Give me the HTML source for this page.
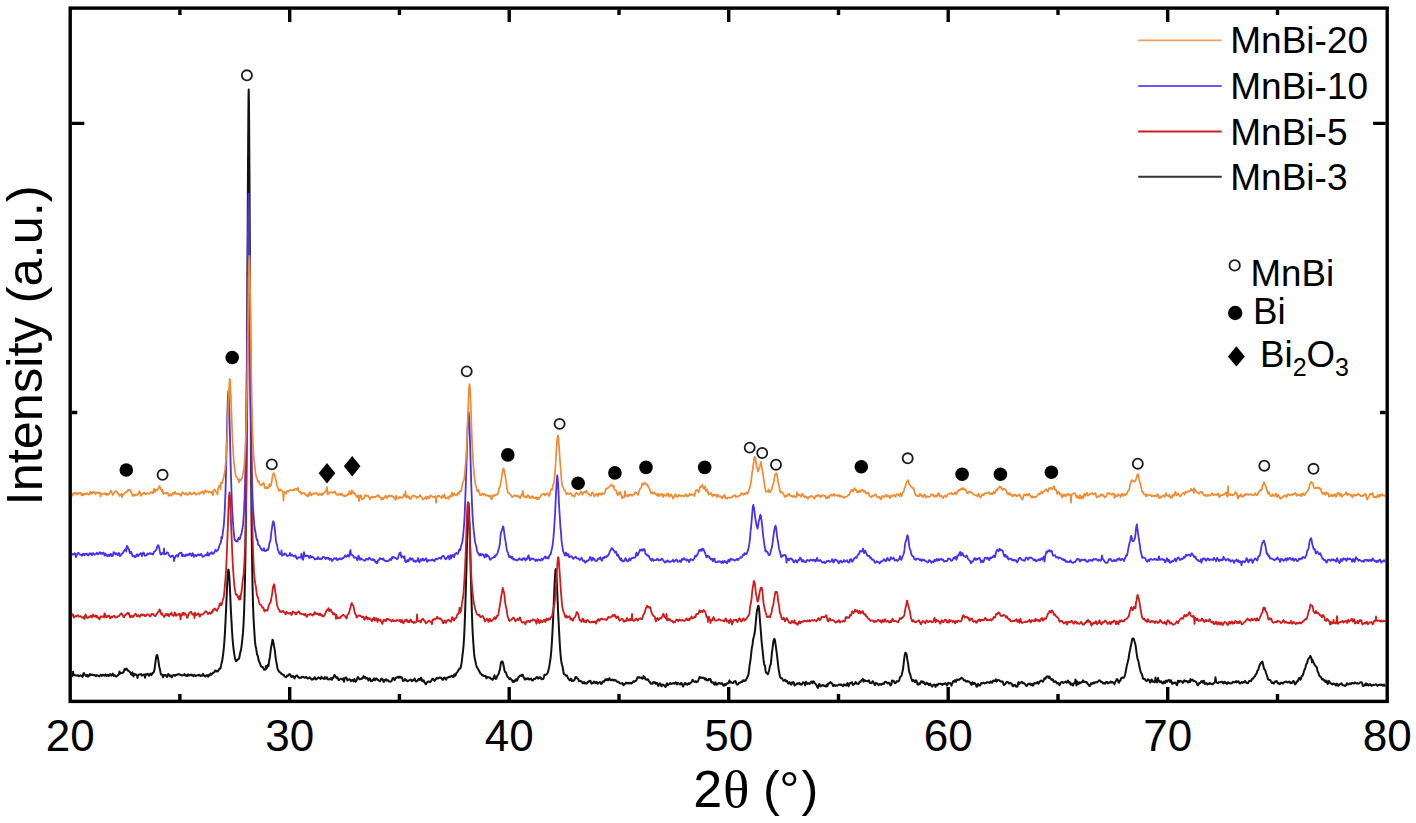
<!DOCTYPE html>
<html><head><meta charset="utf-8"><title>XRD</title>
<style>
html,body{margin:0;padding:0;background:#fff;width:1416px;height:823px;overflow:hidden}
svg{display:block}
</style></head><body>
<svg width="1416" height="823" viewBox="0 0 1416 823">
<defs><clipPath id="cp"><rect x="71.8" y="9.7" width="1313.8" height="689.8"/></clipPath></defs>
<g clip-path="url(#cp)" fill="none" stroke-linejoin="round">
<polyline stroke="#111111" stroke-width="2.0" points="71.5,676.0 72.0,676.2 72.5,675.3 73.0,671.7 73.5,675.3 74.0,675.3 74.5,674.8 75.0,675.2 75.5,675.5 76.0,675.4 76.5,675.6 77.0,675.6 77.5,675.2 78.0,675.2 78.5,675.7 79.0,676.2 79.5,676.1 80.0,675.6 80.5,675.3 81.0,675.6 81.5,675.8 82.0,676.1 82.5,676.9 83.0,675.8 83.5,673.3 84.0,673.0 84.5,674.3 85.0,674.9 85.5,675.2 86.0,676.1 86.5,676.3 87.0,674.9 87.5,675.1 88.0,676.6 88.5,676.5 89.0,675.7 89.5,674.5 90.0,674.1 90.5,675.0 91.0,675.2 91.5,674.5 92.0,674.7 92.5,675.0 93.0,674.8 93.5,675.1 94.0,675.4 94.5,675.2 95.0,675.1 95.5,675.8 96.0,676.2 96.5,675.5 97.0,675.1 97.5,675.4 98.0,675.7 98.5,675.7 99.0,676.4 99.5,676.0 100.0,675.7 100.5,674.9 101.0,675.3 101.5,675.9 102.0,675.7 102.5,674.8 103.0,674.7 103.5,675.2 104.0,675.3 104.5,675.7 105.0,675.4 105.5,674.4 106.0,675.2 106.5,676.0 107.0,675.1 107.5,674.7 108.0,675.5 108.5,676.0 109.0,675.9 109.5,674.9 110.0,674.1 110.5,674.6 111.0,675.2 111.5,675.6 112.0,675.0 112.5,673.6 113.0,674.0 113.5,675.6 114.0,675.9 114.5,675.2 115.0,675.4 115.5,676.0 116.0,676.4 116.5,676.4 117.0,676.0 117.5,675.3 118.0,675.4 118.5,674.9 119.0,673.6 119.5,671.5 120.0,673.7 120.5,673.0 121.0,673.0 121.5,673.1 122.0,673.0 122.5,672.6 123.0,672.5 123.5,672.4 124.0,671.0 124.5,669.1 125.0,668.9 125.5,669.9 126.0,669.4 126.5,668.6 127.0,669.1 127.5,669.9 128.0,670.7 128.5,671.1 129.0,671.1 129.5,671.7 130.0,672.3 130.5,672.8 131.0,674.2 131.5,674.7 132.0,672.8 132.5,672.4 133.0,675.1 133.5,676.4 134.0,674.6 134.5,673.9 135.0,674.7 135.5,674.5 136.0,674.4 136.5,675.0 137.0,675.4 137.5,678.1 138.0,675.3 138.5,675.0 139.0,674.5 139.5,674.4 140.0,674.5 140.5,674.5 141.0,674.0 141.5,674.5 142.0,675.7 142.5,675.4 143.0,675.0 143.5,675.0 144.0,674.5 144.5,674.4 145.0,677.7 145.5,674.5 146.0,674.2 146.5,674.7 147.0,674.4 147.5,673.7 148.0,674.0 148.5,675.2 149.0,675.8 149.5,675.0 150.0,674.1 150.5,673.5 151.0,674.3 151.5,675.1 152.0,674.1 152.5,673.1 153.0,673.0 153.5,672.5 154.0,671.5 154.5,669.6 155.0,665.8 155.5,661.6 156.0,658.3 156.5,655.8 157.0,654.9 157.5,656.1 158.0,658.3 158.5,661.4 159.0,665.3 159.5,667.7 160.0,669.6 160.5,672.5 161.0,674.5 161.5,674.8 162.0,674.5 162.5,675.3 163.0,677.2 163.5,676.7 164.0,674.9 164.5,674.9 165.0,675.2 165.5,675.0 166.0,675.4 166.5,676.1 167.0,676.9 167.5,676.0 168.0,674.2 168.5,674.1 169.0,674.8 169.5,675.7 170.0,676.1 170.5,675.5 171.0,675.6 171.5,677.2 172.0,677.3 172.5,675.8 173.0,675.3 173.5,675.3 174.0,674.9 174.5,675.2 175.0,675.9 175.5,675.1 176.0,674.8 176.5,675.1 177.0,674.7 177.5,674.4 178.0,674.5 178.5,674.3 179.0,674.0 179.5,674.3 180.0,674.7 180.5,674.8 181.0,675.0 181.5,675.3 182.0,675.6 182.5,675.4 183.0,675.1 183.5,675.0 184.0,674.7 184.5,674.0 185.0,675.5 185.5,675.1 186.0,675.2 186.5,676.0 187.0,676.1 187.5,675.0 188.0,674.3 188.5,675.4 189.0,675.5 189.5,675.0 190.0,675.3 190.5,674.9 191.0,674.5 191.5,675.1 192.0,675.5 192.5,675.1 193.0,675.2 193.5,676.2 194.0,675.5 194.5,674.8 195.0,675.6 195.5,675.9 196.0,675.7 196.5,675.4 197.0,675.4 197.5,675.3 198.0,675.2 198.5,675.4 199.0,675.0 199.5,674.8 200.0,675.6 200.5,676.1 201.0,675.6 201.5,675.6 202.0,675.7 202.5,674.8 203.0,673.9 203.5,675.4 204.0,675.3 204.5,675.7 205.0,676.4 205.5,676.4 206.0,675.5 206.5,675.4 207.0,675.1 207.5,675.3 208.0,676.8 208.5,675.9 209.0,674.9 209.5,675.5 210.0,674.6 210.5,673.6 211.0,674.5 211.5,674.7 212.0,673.6 212.5,673.2 213.0,673.0 213.5,672.4 214.0,672.5 214.5,672.2 215.0,671.0 215.5,670.4 216.0,670.6 216.5,670.9 217.0,671.5 217.5,671.5 218.0,671.1 218.5,670.4 219.0,669.4 219.5,668.5 220.0,668.8 220.5,668.3 221.0,665.9 221.5,663.6 222.0,661.6 222.5,658.8 223.0,655.3 223.5,651.2 224.0,646.2 224.5,639.9 225.0,631.3 225.5,621.6 226.0,610.9 226.5,599.5 227.0,588.5 227.5,578.1 228.0,571.2 228.4,569.7 228.5,569.6 229.0,572.5 229.5,579.7 230.0,589.9 230.5,601.9 231.0,612.5 231.5,621.6 232.0,630.2 232.5,638.0 233.0,644.1 233.5,648.5 234.0,652.2 234.5,655.4 235.0,657.9 235.5,660.2 236.0,661.2 236.5,661.0 237.0,660.3 237.5,659.5 238.0,659.5 238.5,659.1 239.0,658.5 239.5,656.8 240.0,653.7 240.5,651.6 241.0,649.7 241.5,646.6 242.0,642.3 242.5,637.6 243.0,632.4 243.5,624.9 244.0,614.0 244.5,599.0 245.0,578.9 245.5,550.1 246.0,506.4 246.5,445.2 247.0,365.0 247.5,266.0 248.0,163.6 248.5,96.7 248.7,89.6 249.0,104.1 249.5,181.6 250.0,287.2 250.5,383.1 251.0,460.3 251.5,516.3 252.0,556.3 252.5,584.7 253.0,604.5 253.5,617.4 254.0,626.3 254.5,634.3 255.0,641.4 255.5,645.7 256.0,647.7 256.5,650.9 257.0,654.2 257.5,655.2 258.0,656.8 258.5,659.8 259.0,661.6 259.5,662.2 260.0,663.4 260.5,665.0 261.0,666.2 261.5,666.7 262.0,667.0 262.5,666.9 263.0,667.4 263.5,668.6 264.0,669.7 264.5,669.5 265.0,669.0 265.5,669.6 266.0,665.9 266.5,668.6 267.0,667.6 267.5,666.2 268.0,664.6 268.5,666.1 269.0,662.0 269.5,659.3 270.0,656.2 270.5,652.0 271.0,648.0 271.5,645.4 272.0,642.6 272.5,639.8 272.8,640.0 273.0,641.1 273.5,643.1 274.0,646.0 274.5,648.4 275.0,651.9 275.5,656.8 276.0,660.2 276.5,662.6 277.0,665.4 277.5,668.5 278.0,670.0 278.5,670.5 279.0,671.6 279.5,672.1 280.0,672.2 280.5,672.6 281.0,673.1 281.5,673.9 282.0,674.0 282.5,674.3 283.0,674.8 283.5,674.8 284.0,675.3 284.5,676.4 285.0,676.7 285.5,676.7 286.0,677.1 286.5,676.7 287.0,675.7 287.5,675.5 288.0,675.9 288.5,675.4 289.0,674.3 289.5,674.0 290.0,674.3 290.5,675.0 291.0,676.4 291.5,677.1 292.0,676.9 292.5,676.2 293.0,675.9 293.5,676.4 294.0,677.7 294.5,678.5 295.0,677.6 295.5,676.4 296.0,676.0 296.5,675.6 297.0,675.4 297.5,675.9 298.0,676.9 298.5,677.6 299.0,677.4 299.5,677.9 300.0,678.0 300.5,677.6 301.0,677.8 301.5,677.4 302.0,676.7 302.5,676.9 303.0,677.0 303.5,677.0 304.0,677.3 304.5,677.8 305.0,677.8 305.5,677.4 306.0,677.1 306.5,677.0 307.0,677.8 307.5,678.5 308.0,678.3 308.5,678.2 309.0,678.0 309.5,677.3 310.0,677.4 310.5,678.3 311.0,678.7 311.5,679.2 312.0,679.7 312.5,679.1 313.0,679.1 313.5,679.3 314.0,678.3 314.5,677.3 315.0,677.4 315.5,678.6 316.0,679.5 316.5,679.2 317.0,678.6 317.5,678.5 318.0,678.0 318.5,677.3 319.0,677.9 319.5,678.1 320.0,678.2 320.5,679.0 321.0,677.8 321.5,676.7 322.0,677.5 322.5,678.3 323.0,678.3 323.5,678.6 324.0,678.9 324.5,678.1 325.0,677.1 325.5,677.9 326.0,678.7 326.5,677.7 327.0,677.4 327.5,678.5 328.0,679.4 328.5,679.6 329.0,679.1 329.5,678.7 330.0,679.3 330.5,678.8 331.0,678.0 331.5,679.5 332.0,679.7 332.5,677.9 333.0,677.6 333.5,677.7 334.0,676.0 334.5,674.9 335.0,675.5 335.5,676.4 336.0,677.2 336.5,678.1 337.0,677.8 337.5,677.3 338.0,678.6 338.5,680.0 339.0,680.0 339.5,679.4 340.0,679.1 340.5,678.9 341.0,678.6 341.5,678.9 342.0,679.4 342.5,679.7 343.0,679.1 343.5,678.2 344.0,681.7 344.5,679.1 345.0,678.0 345.5,677.6 346.0,677.4 346.5,677.8 347.0,679.5 347.5,680.5 348.0,680.2 348.5,679.6 349.0,679.4 349.5,679.3 350.0,679.4 350.5,680.4 351.0,681.2 351.5,680.8 352.0,680.0 352.5,679.9 353.0,680.7 353.5,681.4 354.0,680.2 354.5,679.0 355.0,680.3 355.5,681.7 356.0,681.4 356.5,680.7 357.0,679.3 357.5,677.6 358.0,677.0 358.5,677.7 359.0,678.7 359.5,679.3 360.0,679.2 360.5,679.0 361.0,679.0 361.5,678.4 362.0,678.2 362.5,678.5 363.0,677.3 363.5,676.1 364.0,677.2 364.5,677.6 365.0,676.9 365.5,677.9 366.0,678.6 366.5,678.4 367.0,677.9 367.5,678.6 368.0,679.6 368.5,680.5 369.0,679.7 369.5,678.3 370.0,678.6 370.5,680.3 371.0,681.1 371.5,680.5 372.0,680.5 372.5,680.9 373.0,680.1 373.5,678.9 374.0,678.3 374.5,679.4 375.0,680.3 375.5,679.2 376.0,678.4 376.5,678.4 377.0,679.2 377.5,680.0 378.0,679.9 378.5,680.2 379.0,680.6 379.5,680.8 380.0,681.3 380.5,680.7 381.0,679.4 381.5,678.6 382.0,678.8 382.5,679.3 383.0,680.3 383.5,681.9 384.0,681.7 384.5,680.0 385.0,680.1 385.5,680.3 386.0,679.2 386.5,679.7 387.0,680.7 387.5,680.3 388.0,680.2 388.5,680.9 389.0,681.5 389.5,681.6 390.0,681.6 390.5,681.5 391.0,681.4 391.5,681.2 392.0,679.9 392.5,678.5 393.0,677.9 393.5,678.0 394.0,679.1 394.5,680.1 395.0,679.5 395.5,678.2 396.0,677.6 396.5,677.6 397.0,677.7 397.5,677.1 398.0,676.7 398.5,677.5 399.0,677.7 399.5,676.8 400.0,676.7 400.5,676.9 401.0,677.8 401.5,677.7 402.0,677.4 402.5,679.3 403.0,680.9 403.5,680.8 404.0,680.8 404.5,679.8 405.0,679.0 405.5,680.0 406.0,680.2 406.5,680.0 407.0,681.1 407.5,681.3 408.0,680.9 408.5,680.9 409.0,680.4 409.5,680.1 410.0,679.9 410.5,679.6 411.0,679.8 411.5,680.7 412.0,681.2 412.5,680.9 413.0,680.0 413.5,680.0 414.0,679.9 414.5,678.5 415.0,679.2 415.5,681.1 416.0,681.6 416.5,681.4 417.0,681.0 417.5,680.7 418.0,679.9 418.5,678.9 419.0,678.9 419.5,679.7 420.0,680.1 420.5,679.1 421.0,677.7 421.5,678.4 422.0,680.4 422.5,681.3 423.0,681.1 423.5,680.2 424.0,680.8 424.5,682.5 425.0,683.0 425.5,683.9 426.0,684.4 426.5,683.2 427.0,682.3 427.5,681.9 428.0,681.5 428.5,681.6 429.0,681.7 429.5,681.8 430.0,682.2 430.5,681.8 431.0,680.9 431.5,680.3 432.0,679.4 432.5,678.7 433.0,678.7 433.5,679.2 434.0,680.3 434.5,680.9 435.0,680.5 435.5,679.7 436.0,678.9 436.5,678.1 437.0,677.8 437.5,678.6 438.0,678.5 438.5,678.0 439.0,677.9 439.5,677.4 440.0,677.6 440.5,677.9 441.0,677.6 441.5,678.0 442.0,679.1 442.5,679.8 443.0,679.8 443.5,678.8 444.0,677.8 444.5,677.6 445.0,677.9 445.5,678.9 446.0,679.6 446.5,678.8 447.0,677.8 447.5,677.7 448.0,677.4 448.5,676.8 449.0,677.2 449.5,677.3 450.0,676.6 450.5,676.4 451.0,676.4 451.5,675.7 452.0,675.8 452.5,676.6 453.0,677.2 453.5,676.9 454.0,675.1 454.5,674.3 455.0,675.7 455.5,675.7 456.0,673.9 456.5,672.9 457.0,672.5 457.5,671.8 458.0,670.9 458.5,670.1 459.0,669.3 459.5,668.4 460.0,668.5 460.5,668.3 461.0,666.1 461.5,663.4 462.0,659.8 462.5,655.2 463.0,650.8 463.5,645.9 464.0,638.8 464.5,628.7 465.0,615.4 465.5,600.3 466.0,583.7 466.5,565.1 467.0,544.3 467.5,523.4 468.0,508.0 468.5,503.3 469.0,510.0 469.5,524.0 470.0,542.6 470.5,562.7 471.0,581.3 471.5,599.6 472.0,616.4 472.5,629.1 473.0,638.1 473.5,645.4 474.0,652.4 474.5,657.3 475.0,659.5 475.5,661.8 476.0,664.2 476.5,666.1 477.0,667.4 477.5,668.1 478.0,668.8 478.5,669.9 479.0,670.7 479.5,671.7 480.0,672.8 480.5,673.6 481.0,673.6 481.5,674.2 482.0,675.2 482.5,675.0 483.0,675.2 483.5,675.9 484.0,676.1 484.5,676.0 485.0,675.9 485.5,675.8 486.0,677.2 486.5,678.4 487.0,677.7 487.5,676.9 488.0,677.1 488.5,677.3 489.0,677.5 489.5,677.5 490.0,677.6 490.5,678.5 491.0,678.7 491.5,678.8 492.0,679.4 492.5,679.9 493.0,679.2 493.5,677.9 494.0,677.3 494.5,675.3 495.0,677.5 495.5,678.8 496.0,679.0 496.5,678.2 497.0,676.7 497.5,675.5 498.0,674.8 498.5,674.2 499.0,672.4 499.5,670.6 500.0,669.3 500.5,665.7 501.0,662.5 501.5,661.7 502.0,661.5 502.5,661.5 503.0,662.8 503.5,665.3 504.0,667.8 504.5,670.5 505.0,671.9 505.5,671.8 506.0,672.5 506.5,674.2 507.0,675.9 507.5,676.9 508.0,677.2 508.5,677.4 509.0,678.6 509.5,679.1 510.0,678.2 510.5,678.5 511.0,679.4 511.5,679.5 512.0,680.2 512.5,681.6 513.0,681.9 513.5,681.0 514.0,680.8 514.5,681.7 515.0,681.0 515.5,679.6 516.0,679.2 516.5,679.8 517.0,680.6 517.5,679.8 518.0,677.9 518.5,676.9 519.0,677.0 519.5,676.2 520.0,675.6 520.5,675.7 521.0,675.5 521.5,676.0 521.8,675.9 522.0,674.7 522.5,674.7 523.0,675.4 523.5,677.0 524.0,678.1 524.5,678.5 525.0,679.6 525.5,679.2 526.0,678.3 526.5,679.1 527.0,679.3 527.5,678.5 528.0,678.2 528.5,678.5 529.0,679.4 529.5,679.4 530.0,679.2 530.5,679.2 531.0,678.5 531.5,679.1 532.0,680.4 532.5,680.3 533.0,680.3 533.5,679.7 534.0,678.8 534.5,678.9 535.0,679.0 535.5,678.4 536.0,677.8 536.5,677.2 537.0,677.1 537.5,677.9 538.0,678.6 538.5,678.0 539.0,677.2 539.5,678.0 540.0,677.9 540.5,677.3 541.0,678.2 541.5,679.2 542.0,679.2 542.5,679.1 543.0,679.1 543.5,678.4 544.0,676.5 544.5,674.7 545.0,674.7 545.5,675.0 546.0,674.6 546.5,674.4 547.0,673.8 547.5,673.0 548.0,671.9 548.5,669.8 549.0,667.8 549.5,665.1 550.0,661.9 550.5,658.6 551.0,654.0 551.5,647.9 552.0,640.1 552.5,631.2 553.0,621.1 553.5,609.7 554.0,597.5 554.5,585.8 555.0,576.3 555.5,569.8 555.8,569.1 556.0,571.1 556.5,576.8 557.0,585.7 557.5,597.7 558.0,609.9 558.5,619.9 559.0,629.3 559.5,638.8 560.0,647.3 560.5,653.9 561.0,659.1 561.5,662.8 562.0,664.8 562.5,666.4 563.0,669.2 563.5,672.6 564.0,674.2 564.5,674.3 565.0,674.6 565.5,675.2 566.0,675.8 566.5,675.6 567.0,675.5 567.5,676.8 568.0,678.0 568.5,678.8 569.0,679.6 569.5,680.1 570.0,680.4 570.5,679.8 571.0,678.6 571.5,679.6 572.0,681.2 572.5,680.5 573.0,680.5 573.5,680.8 574.0,680.3 574.5,679.9 575.0,678.4 575.5,677.1 576.0,676.9 576.5,677.2 577.0,678.0 577.5,678.7 578.0,678.8 578.5,679.7 579.0,681.2 579.5,681.1 580.0,680.8 580.5,681.3 581.0,681.2 581.5,681.2 582.0,682.1 582.5,683.0 583.0,683.3 583.5,683.0 584.0,682.0 584.5,682.3 585.0,683.5 585.5,683.1 586.0,683.0 586.5,683.7 587.0,683.3 587.5,682.0 588.0,681.7 588.5,682.1 589.0,681.5 589.5,680.9 590.0,680.8 590.5,680.9 591.0,682.3 591.5,683.7 592.0,683.2 592.5,682.8 593.0,683.1 593.5,682.4 594.0,681.6 594.5,681.7 595.0,682.2 595.5,683.2 596.0,683.0 596.5,681.8 597.0,682.3 597.5,683.6 598.0,683.7 598.5,682.9 599.0,682.4 599.5,682.4 600.0,682.0 600.5,682.5 601.0,683.9 601.5,684.0 602.0,683.2 602.5,682.3 603.0,681.2 603.5,681.2 604.0,681.7 604.5,681.2 605.0,680.0 605.5,679.3 606.0,679.8 606.5,680.0 607.0,679.0 607.5,679.3 608.0,680.3 608.5,679.9 609.0,678.7 609.5,678.2 609.6,678.4 610.0,679.4 610.5,680.0 611.0,680.0 611.5,680.2 612.0,679.5 612.5,679.5 613.0,680.4 613.5,680.1 614.0,679.8 614.5,680.5 615.0,680.6 615.5,680.0 616.0,680.5 616.5,681.2 617.0,681.6 617.5,682.0 618.0,681.7 618.5,681.7 619.0,682.5 619.5,683.0 620.0,683.4 620.5,683.6 621.0,683.4 621.5,683.4 622.0,683.0 622.5,683.0 623.0,684.3 623.5,685.3 624.0,684.6 624.5,683.9 625.0,684.0 625.5,683.3 626.0,682.6 626.5,683.1 627.0,683.4 627.5,683.3 628.0,682.8 628.5,683.0 629.0,683.4 629.5,683.2 630.0,682.7 630.5,682.7 631.0,683.4 631.5,683.5 632.0,683.1 632.5,682.5 633.0,681.8 633.5,681.3 634.0,681.5 634.5,681.7 635.0,681.3 635.5,680.9 636.0,680.7 636.5,680.2 637.0,678.6 637.5,677.3 638.0,677.7 638.5,677.5 639.0,677.1 639.5,677.7 640.0,678.0 640.5,677.7 641.0,677.5 641.5,677.7 642.0,678.5 642.5,678.8 643.0,678.0 643.5,675.9 644.0,677.9 644.5,676.9 645.0,677.9 645.5,679.5 646.0,679.3 646.5,679.5 647.0,679.8 647.5,679.3 648.0,679.2 648.5,680.4 649.0,681.5 649.5,681.5 650.0,682.2 650.5,683.4 651.0,683.8 651.5,683.4 652.0,683.7 652.5,683.8 653.0,682.4 653.5,682.1 654.0,682.8 654.5,682.2 655.0,682.3 655.5,683.7 656.0,683.8 656.5,682.9 657.0,683.0 657.5,684.0 658.0,685.7 658.5,685.9 659.0,684.5 659.5,683.8 660.0,683.3 660.5,683.7 661.0,685.1 661.5,686.3 662.0,685.8 662.5,684.7 663.0,684.6 663.5,684.9 664.0,685.3 664.5,685.7 665.0,686.4 665.5,687.0 666.0,686.0 666.5,684.1 667.0,683.3 667.5,684.3 668.0,685.3 668.5,684.7 669.0,684.1 669.5,683.9 670.0,683.0 670.5,683.1 671.0,684.0 671.5,683.8 672.0,683.6 672.5,683.6 673.0,683.1 673.5,683.5 674.0,683.1 674.5,683.6 675.0,683.1 675.5,682.3 676.0,682.8 676.5,684.2 677.0,684.4 677.5,683.2 678.0,682.9 678.5,683.3 679.0,683.7 679.5,684.2 680.0,684.5 680.5,683.9 681.0,683.0 681.5,683.1 682.0,684.0 682.5,685.2 683.0,686.5 683.5,685.8 684.0,684.2 684.5,683.7 685.0,682.9 685.5,682.9 686.0,684.4 686.5,684.5 687.0,684.3 687.5,684.6 688.0,683.6 688.5,683.1 689.0,684.0 689.5,683.9 690.0,683.3 690.5,683.0 691.0,682.7 691.5,682.2 692.0,681.2 692.5,679.9 693.0,680.2 693.5,681.2 694.0,681.3 694.5,681.8 695.0,682.0 695.5,681.2 696.0,681.4 696.5,682.1 697.0,681.8 697.5,681.7 698.0,681.2 698.5,679.9 699.0,678.4 699.5,677.2 700.0,677.0 700.5,677.8 701.0,677.9 701.4,677.7 701.5,677.6 702.0,677.5 702.5,677.9 703.0,677.9 703.5,677.7 704.0,677.9 704.5,678.9 705.0,679.5 705.5,678.4 706.0,678.8 706.5,680.2 707.0,680.1 707.5,680.1 708.0,680.4 708.5,679.2 709.0,679.0 709.5,679.7 710.0,678.9 710.5,679.0 711.0,681.2 711.5,682.6 712.0,682.5 712.5,682.3 713.0,682.2 713.5,682.9 714.0,684.2 714.5,684.6 715.0,683.3 715.5,682.3 716.0,683.5 716.5,684.8 717.0,684.6 717.5,683.9 718.0,683.7 718.5,682.8 719.0,683.3 719.5,683.5 720.0,683.3 720.5,683.7 721.0,684.0 721.5,683.3 722.0,683.1 722.5,683.8 723.0,685.0 723.5,685.8 724.0,685.7 724.5,684.5 725.0,684.0 725.5,685.1 726.0,684.9 726.5,683.8 727.0,683.4 727.5,683.3 728.0,683.4 728.5,683.1 729.0,681.6 729.5,680.4 730.0,681.4 730.5,682.5 731.0,682.4 731.5,682.2 732.0,682.8 732.5,683.0 733.0,683.1 733.5,682.9 734.0,681.7 734.5,681.3 735.0,681.3 735.5,681.0 736.0,682.2 736.5,684.3 737.0,684.6 737.5,684.3 738.0,684.4 738.5,683.6 739.0,682.7 739.5,682.7 740.0,682.9 740.5,682.4 741.0,681.8 741.5,682.0 742.0,682.1 742.5,681.4 743.0,680.3 743.5,680.2 744.0,681.0 744.5,680.8 745.0,680.3 745.5,680.7 746.0,680.0 746.5,678.6 747.0,678.0 747.5,676.8 748.0,675.8 748.5,674.3 749.0,670.6 749.5,666.2 750.0,662.8 750.5,659.8 751.0,655.5 751.5,650.6 752.0,646.9 752.5,645.0 752.6,644.3 753.0,640.2 753.5,637.9 754.0,636.2 754.5,633.8 755.0,630.5 755.5,625.6 756.0,619.9 756.5,614.3 757.0,610.4 757.5,608.4 758.0,606.5 758.3,605.7 758.5,605.7 759.0,608.3 759.5,614.0 760.0,621.2 760.5,627.2 761.0,633.1 761.5,640.1 762.0,645.4 762.5,649.6 763.0,654.6 763.5,659.4 764.0,663.2 764.5,665.3 765.0,665.8 765.5,670.4 766.0,672.6 766.5,672.8 767.0,673.1 767.5,674.2 768.0,674.0 768.5,672.0 769.0,670.5 769.5,668.4 770.0,665.9 770.5,664.9 771.0,662.7 771.5,657.0 772.0,651.8 772.5,648.7 773.0,644.6 773.5,641.0 774.0,639.4 774.4,638.9 774.5,639.0 775.0,640.6 775.5,643.8 776.0,647.7 776.5,651.3 777.0,655.0 777.5,659.6 778.0,664.4 778.5,668.2 779.0,671.3 779.5,674.3 780.0,676.6 780.5,677.7 781.0,678.1 781.5,678.0 782.0,678.4 782.5,679.3 783.0,680.1 783.5,680.8 784.0,680.8 784.5,680.4 785.0,679.7 785.5,680.2 786.0,681.3 786.5,681.2 787.0,680.9 787.5,682.2 788.0,683.5 788.5,683.3 789.0,682.6 789.5,682.1 790.0,682.6 790.5,684.1 791.0,684.7 791.5,683.2 792.0,682.4 792.5,683.5 793.0,683.3 793.5,682.0 794.0,683.5 794.5,685.5 795.0,685.2 795.5,684.5 796.0,684.6 796.5,684.4 797.0,683.4 797.5,683.2 798.0,683.8 798.5,683.8 799.0,683.2 799.5,682.9 800.0,684.0 800.5,684.6 801.0,684.1 801.5,684.4 802.0,684.5 802.5,683.2 803.0,682.3 803.5,682.5 804.0,682.7 804.5,682.9 805.0,685.4 805.5,682.8 806.0,681.9 806.5,682.5 807.0,683.9 807.5,683.8 808.0,683.3 808.5,683.3 809.0,683.5 809.5,684.0 810.0,683.6 810.5,682.6 811.0,681.9 811.5,681.5 812.0,682.3 812.5,683.3 813.0,681.4 813.5,681.3 814.0,681.9 814.5,682.9 815.0,683.5 815.5,683.8 816.0,684.4 816.5,685.3 817.0,686.3 817.5,687.5 818.0,687.9 818.5,686.2 819.0,684.2 819.5,684.0 820.0,685.4 820.5,686.4 821.0,686.2 821.5,685.6 822.0,685.2 822.5,685.3 823.0,685.4 823.5,685.1 824.0,685.8 824.5,686.0 825.0,685.7 825.5,686.3 826.0,686.5 826.5,685.4 827.0,684.5 827.5,686.1 828.0,683.7 828.5,683.7 829.0,683.5 829.5,683.1 830.0,682.5 830.5,682.1 831.0,682.8 831.5,683.5 832.0,683.2 832.5,684.0 833.0,685.9 833.5,685.9 834.0,685.0 834.5,685.0 835.0,685.5 835.5,685.9 836.0,685.3 836.5,685.4 837.0,685.7 837.5,685.2 838.0,685.2 838.5,684.8 839.0,684.6 839.5,684.7 840.0,684.8 840.5,685.0 841.0,684.6 841.5,684.5 842.0,685.3 842.5,686.0 843.0,686.2 843.5,685.4 844.0,684.4 844.5,685.2 845.0,685.4 845.5,684.7 846.0,685.3 846.5,685.5 847.0,684.0 847.5,683.1 848.0,684.6 848.5,686.3 849.0,685.0 849.5,683.4 850.0,683.2 850.5,683.1 851.0,683.3 851.5,682.9 852.0,682.2 852.5,683.7 853.0,685.0 853.5,684.2 854.0,684.0 854.5,684.2 855.0,683.0 855.5,682.1 856.0,682.4 856.5,683.3 857.0,683.8 857.5,683.7 858.0,683.9 858.5,683.9 859.0,683.0 859.5,681.8 860.0,681.9 860.5,682.0 861.0,680.8 861.5,680.1 862.0,680.1 862.5,679.7 862.9,678.9 863.0,679.7 863.5,681.8 864.0,681.5 864.5,680.1 865.0,680.4 865.5,680.9 866.0,681.0 866.5,681.1 867.0,680.9 867.5,681.0 868.0,681.4 868.5,680.8 869.0,680.4 869.5,681.8 870.0,683.1 870.5,683.0 871.0,682.6 871.5,683.1 872.0,682.8 872.5,681.3 873.0,681.3 873.5,682.5 874.0,683.2 874.5,684.6 875.0,685.1 875.5,683.6 876.0,682.9 876.5,683.6 877.0,683.7 877.5,683.6 878.0,684.6 878.5,685.2 879.0,684.5 879.5,684.1 880.0,684.7 880.5,684.4 881.0,684.0 881.5,684.7 882.0,684.3 882.5,683.6 883.0,683.4 883.5,683.9 884.0,684.0 884.5,682.6 885.0,681.7 885.5,681.9 886.0,681.9 886.5,682.1 887.0,682.7 887.5,683.4 888.0,683.5 888.5,682.8 889.0,682.7 889.5,683.2 890.0,684.7 890.5,685.4 891.0,684.7 891.5,684.2 892.0,680.4 892.5,681.2 893.0,680.8 893.5,680.8 894.0,681.2 894.5,682.9 895.0,683.2 895.5,683.1 896.0,682.4 896.5,681.5 897.0,681.1 897.5,681.4 898.0,681.6 898.5,681.4 899.0,680.9 899.5,679.3 900.0,677.3 900.5,676.4 901.0,676.4 901.5,675.9 902.0,673.6 902.5,671.5 903.0,669.1 903.5,665.0 904.0,660.6 904.5,656.7 905.0,653.7 905.5,652.7 905.9,653.0 906.0,653.1 906.5,654.2 907.0,657.3 907.5,660.6 908.0,663.2 908.5,666.6 909.0,670.8 909.5,672.8 910.0,673.4 910.5,675.4 911.0,677.5 911.5,678.8 912.0,680.4 912.5,681.1 913.0,680.6 913.5,680.0 914.0,680.3 914.5,681.4 915.0,682.1 915.5,681.3 916.0,680.3 916.5,680.8 917.0,682.3 917.5,684.4 918.0,684.7 918.5,683.4 919.0,683.4 919.5,684.2 920.0,683.8 920.5,682.4 921.0,681.4 921.5,681.2 922.0,681.3 922.5,682.5 923.0,682.8 923.5,681.7 924.0,682.2 924.5,683.4 925.0,684.3 925.5,684.5 926.0,683.7 926.5,682.7 927.0,683.1 927.5,683.9 928.0,683.6 928.5,684.2 929.0,685.2 929.5,684.5 930.0,683.5 930.5,684.3 931.0,685.3 931.5,685.6 932.0,686.5 932.5,686.4 933.0,685.2 933.5,684.8 934.0,684.7 934.5,684.6 935.0,685.1 935.5,686.9 936.0,685.4 936.5,684.6 937.0,684.7 937.5,685.5 938.0,684.6 938.5,683.7 939.0,683.8 939.5,683.8 940.0,683.8 940.5,683.9 941.0,683.7 941.5,683.9 942.0,684.6 942.5,684.9 943.0,684.3 943.5,683.8 944.0,683.9 944.5,684.0 945.0,683.3 945.5,683.1 946.0,683.9 946.5,684.9 947.0,685.5 947.5,684.7 948.0,682.9 948.5,682.8 949.0,683.5 949.5,683.3 950.0,683.1 950.5,683.5 951.0,683.9 951.5,685.7 952.0,683.5 952.5,683.0 953.0,681.4 953.5,681.2 954.0,681.7 954.5,680.7 955.0,680.0 955.5,681.4 956.0,681.9 956.5,680.8 957.0,679.5 957.5,680.0 958.0,679.8 958.5,679.7 959.0,679.9 959.5,679.6 960.0,679.0 960.5,678.8 961.0,678.3 961.5,677.7 962.0,678.0 962.5,678.5 963.0,678.8 963.5,679.7 964.0,680.5 964.5,680.4 965.0,680.2 965.5,680.5 966.0,681.4 966.5,681.8 967.0,681.2 967.5,681.1 968.0,681.5 968.5,681.6 969.0,681.4 969.5,682.0 970.0,682.7 970.5,682.8 971.0,683.8 971.5,684.9 972.0,683.7 972.5,682.3 973.0,683.0 973.5,683.9 974.0,683.3 974.5,682.9 975.0,683.4 975.5,684.1 976.0,685.2 976.5,686.6 977.0,686.7 977.5,684.8 978.0,683.9 978.5,685.2 979.0,685.5 979.5,685.0 980.0,685.5 980.5,684.7 981.0,683.2 981.5,683.0 982.0,683.1 982.5,683.3 983.0,683.1 983.5,682.7 984.0,683.0 984.5,683.4 985.0,683.2 985.5,682.9 986.0,682.9 986.5,682.5 987.0,682.0 987.5,682.4 988.0,682.6 988.5,682.5 989.0,682.3 989.5,683.0 990.0,682.6 990.5,681.6 991.0,681.6 991.5,682.1 992.0,682.8 992.5,682.0 993.0,680.7 993.5,680.5 994.0,680.8 994.5,681.1 995.0,680.8 995.5,679.9 995.9,679.4 996.0,680.6 996.5,681.7 997.0,681.0 997.5,680.2 998.0,680.0 998.5,680.0 999.0,680.3 999.5,680.5 1000.0,681.0 1000.5,681.2 1001.0,681.5 1001.5,681.8 1002.0,681.4 1002.5,681.4 1003.0,682.2 1003.5,684.1 1004.0,684.9 1004.5,684.6 1005.0,684.4 1005.5,683.8 1006.0,682.9 1006.5,682.1 1007.0,681.8 1007.5,682.2 1008.0,682.3 1008.5,682.7 1009.0,683.5 1009.5,683.1 1010.0,682.6 1010.5,683.1 1011.0,683.5 1011.5,683.6 1012.0,684.2 1012.5,685.9 1013.0,686.3 1013.5,685.1 1014.0,685.4 1014.5,685.5 1015.0,684.8 1015.5,685.5 1016.0,686.6 1016.5,686.8 1017.0,686.0 1017.5,686.6 1018.0,683.6 1018.5,682.1 1019.0,684.1 1019.5,683.5 1020.0,682.9 1020.5,682.5 1021.0,682.6 1021.5,682.2 1022.0,681.9 1022.5,683.2 1023.0,683.1 1023.5,682.7 1024.0,683.4 1024.5,683.6 1025.0,684.2 1025.5,684.8 1026.0,685.4 1026.5,686.1 1027.0,685.9 1027.5,684.8 1028.0,684.3 1028.5,683.9 1029.0,683.6 1029.5,684.2 1030.0,684.0 1030.5,683.6 1031.0,684.9 1031.5,685.0 1032.0,683.9 1032.5,684.6 1033.0,685.6 1033.5,685.0 1034.0,683.4 1034.5,682.8 1035.0,683.2 1035.5,683.4 1036.0,683.3 1036.5,683.2 1037.0,682.9 1037.5,682.1 1038.0,682.8 1038.5,683.7 1039.0,682.7 1039.5,681.8 1040.0,681.6 1040.5,680.9 1041.0,680.5 1041.5,680.7 1042.0,680.9 1042.5,681.5 1043.0,681.7 1043.5,680.6 1044.0,679.3 1044.5,678.2 1045.0,678.4 1045.5,678.8 1046.0,677.6 1046.5,676.6 1047.0,676.6 1047.5,676.5 1048.0,676.3 1048.2,677.1 1048.5,677.9 1049.0,677.1 1049.5,676.6 1050.0,677.7 1050.5,678.7 1051.0,678.7 1051.5,679.8 1052.0,679.9 1052.5,679.3 1053.0,679.6 1053.5,681.1 1054.0,682.0 1054.5,681.8 1055.0,681.6 1055.5,681.3 1056.0,681.7 1056.5,683.0 1057.0,683.4 1057.5,682.9 1058.0,682.9 1058.5,683.5 1059.0,684.3 1059.5,685.2 1060.0,684.6 1060.5,683.0 1061.0,682.3 1061.5,682.2 1062.0,682.1 1062.5,682.4 1063.0,682.8 1063.5,682.9 1064.0,682.5 1064.5,682.3 1065.0,682.1 1065.5,681.6 1066.0,682.0 1066.5,682.8 1067.0,682.3 1067.5,681.1 1068.0,680.5 1068.5,681.5 1069.0,682.6 1069.5,682.1 1070.0,682.7 1070.5,684.4 1071.0,684.8 1071.5,684.1 1072.0,683.5 1072.5,684.5 1073.0,685.5 1073.5,684.3 1074.0,683.2 1074.5,682.8 1075.0,682.8 1075.5,679.4 1076.0,683.4 1076.5,685.6 1077.0,681.2 1077.5,682.1 1078.0,683.1 1078.5,684.2 1079.0,683.2 1079.5,682.3 1080.0,682.8 1080.5,683.2 1081.0,682.5 1081.5,682.1 1082.0,682.2 1082.5,681.3 1083.0,680.3 1083.5,681.9 1084.0,681.7 1084.5,681.5 1085.0,682.0 1085.5,682.2 1086.0,682.0 1086.5,682.1 1087.0,683.0 1087.5,683.6 1088.0,684.0 1088.5,684.9 1089.0,685.5 1089.5,686.0 1090.0,686.0 1090.5,684.6 1091.0,683.3 1091.5,683.6 1092.0,683.9 1092.5,683.4 1093.0,682.7 1093.5,682.6 1094.0,683.5 1094.5,683.2 1095.0,682.2 1095.5,682.3 1096.0,682.2 1096.5,682.1 1097.0,682.4 1097.5,682.0 1098.0,681.6 1098.5,681.1 1099.0,680.3 1099.5,680.6 1100.0,680.6 1100.5,680.9 1101.0,681.9 1101.5,682.3 1102.0,682.0 1102.5,682.4 1103.0,683.4 1103.5,683.4 1104.0,682.8 1104.5,683.3 1105.0,683.8 1105.5,683.1 1106.0,682.1 1106.5,682.0 1107.0,682.0 1107.5,682.6 1108.0,683.5 1108.5,682.9 1109.0,682.5 1109.5,682.8 1110.0,682.6 1110.5,681.6 1111.0,681.6 1111.5,682.6 1112.0,682.5 1112.5,682.0 1113.0,682.4 1113.5,682.9 1114.0,682.9 1114.5,684.4 1115.0,682.2 1115.5,681.6 1116.0,680.9 1116.5,679.7 1117.0,679.0 1117.5,679.4 1118.0,680.6 1118.5,682.4 1119.0,682.7 1119.5,681.3 1120.0,680.7 1120.5,680.5 1121.0,678.7 1121.5,677.7 1122.0,677.7 1122.5,677.6 1123.0,677.6 1123.5,677.8 1124.0,677.7 1124.5,676.6 1125.0,674.8 1125.5,672.6 1126.0,670.1 1126.5,667.4 1127.0,664.9 1127.5,663.0 1128.0,660.8 1128.5,659.1 1129.0,655.2 1129.5,652.3 1130.0,650.2 1130.5,647.5 1131.0,645.2 1131.5,642.7 1132.0,640.1 1132.5,638.6 1133.0,638.4 1133.2,638.4 1133.5,638.4 1134.0,639.5 1134.5,641.5 1135.0,643.2 1135.5,644.9 1136.0,648.3 1136.5,652.4 1137.0,655.8 1137.5,658.5 1138.0,660.2 1138.5,661.6 1139.0,664.3 1139.5,667.1 1140.0,669.0 1140.5,671.4 1141.0,672.9 1141.5,673.3 1142.0,674.6 1142.5,676.6 1143.0,678.6 1143.5,678.9 1144.0,678.7 1144.5,679.1 1145.0,679.2 1145.5,680.4 1146.0,680.7 1146.5,681.0 1147.0,680.8 1147.5,679.7 1148.0,679.2 1148.5,679.7 1149.0,679.9 1149.5,680.9 1150.0,682.6 1150.5,682.4 1151.0,680.7 1151.5,679.5 1152.0,679.8 1152.5,681.3 1153.0,682.0 1153.5,681.6 1154.0,681.5 1154.5,682.1 1155.0,681.7 1155.5,677.4 1156.0,681.1 1156.5,682.2 1157.0,682.4 1157.5,681.8 1158.0,677.9 1158.5,680.3 1159.0,680.6 1159.5,681.5 1160.0,682.3 1160.5,682.1 1161.0,681.2 1161.5,681.5 1162.0,682.9 1162.5,683.4 1163.0,683.6 1163.5,682.6 1164.0,681.6 1164.5,682.6 1165.0,683.1 1165.5,681.4 1166.0,680.6 1166.5,681.6 1167.0,682.0 1167.5,681.0 1168.0,680.2 1168.5,680.3 1169.0,679.9 1169.5,680.8 1170.0,681.9 1170.5,680.6 1171.0,680.2 1171.5,681.9 1172.0,683.8 1172.5,683.8 1173.0,682.7 1173.5,683.0 1174.0,683.2 1174.5,682.9 1175.0,682.6 1175.5,682.5 1176.0,683.3 1176.5,684.7 1177.0,685.3 1177.5,683.4 1178.0,680.8 1178.5,681.0 1179.0,682.2 1179.5,681.7 1180.0,680.7 1180.5,680.9 1181.0,681.3 1181.5,681.2 1182.0,681.6 1182.5,682.4 1183.0,682.9 1183.5,682.0 1184.0,680.7 1184.5,680.4 1185.0,680.9 1185.5,681.4 1186.0,681.3 1186.5,681.0 1187.0,681.2 1187.5,682.1 1188.0,682.5 1188.5,682.0 1189.0,681.2 1189.5,680.5 1190.0,682.1 1190.5,679.1 1191.0,679.7 1191.5,680.4 1192.0,680.0 1192.5,679.6 1193.0,680.4 1193.5,681.2 1194.0,681.1 1194.5,681.0 1195.0,681.3 1195.5,681.6 1196.0,681.9 1196.5,682.7 1197.0,684.0 1197.5,685.2 1198.0,685.3 1198.5,684.3 1199.0,683.4 1199.5,683.0 1200.0,683.4 1200.5,682.9 1201.0,681.5 1201.5,681.2 1202.0,681.1 1202.5,682.0 1203.0,682.8 1203.5,681.1 1204.0,680.7 1204.5,682.9 1205.0,684.1 1205.5,683.8 1206.0,683.4 1206.5,683.0 1207.0,683.9 1207.5,684.5 1208.0,683.8 1208.5,683.5 1209.0,684.0 1209.5,683.6 1210.0,683.0 1210.5,683.7 1211.0,683.8 1211.5,683.7 1212.0,684.2 1212.5,684.3 1213.0,683.7 1213.5,683.2 1214.0,683.0 1214.5,682.4 1215.0,681.8 1215.5,677.3 1216.0,681.1 1216.5,682.4 1217.0,682.8 1217.5,682.9 1218.0,683.2 1218.5,682.7 1219.0,682.1 1219.5,682.3 1220.0,682.3 1220.5,682.1 1221.0,682.3 1221.5,681.9 1222.0,681.7 1222.5,682.0 1223.0,683.1 1223.5,683.5 1224.0,682.6 1224.5,681.8 1225.0,682.0 1225.5,682.9 1226.0,682.8 1226.5,683.0 1227.0,683.9 1227.5,683.3 1228.0,682.2 1228.5,682.5 1229.0,683.0 1229.5,683.2 1230.0,683.4 1230.5,683.5 1231.0,683.3 1231.5,683.3 1232.0,683.2 1232.5,682.1 1233.0,681.8 1233.5,682.0 1234.0,682.3 1234.5,682.3 1235.0,682.1 1235.5,681.8 1236.0,681.1 1236.5,682.4 1237.0,681.5 1237.5,681.9 1238.0,681.5 1238.5,681.2 1239.0,682.2 1239.5,683.5 1240.0,683.5 1240.5,683.0 1241.0,682.6 1241.5,682.1 1242.0,682.5 1242.5,682.9 1243.0,682.1 1243.5,682.2 1244.0,682.5 1244.5,681.8 1245.0,680.9 1245.5,681.4 1246.0,682.5 1246.5,682.7 1247.0,683.0 1247.5,683.3 1248.0,683.1 1248.5,682.4 1249.0,681.1 1249.5,681.1 1250.0,681.1 1250.5,680.8 1251.0,681.1 1251.5,680.3 1252.0,679.1 1252.5,678.7 1253.0,678.5 1253.5,677.9 1254.0,677.0 1254.5,676.7 1255.0,676.3 1255.5,674.9 1256.0,674.3 1256.5,673.8 1257.0,672.1 1257.5,670.5 1258.0,670.0 1258.5,669.0 1259.0,667.1 1259.5,665.5 1260.0,664.5 1260.5,663.6 1261.0,662.9 1261.5,663.3 1261.7,663.2 1262.0,661.7 1262.5,661.8 1263.0,664.1 1263.5,666.6 1264.0,668.6 1264.5,669.5 1265.0,669.9 1265.5,671.1 1266.0,673.0 1266.5,674.3 1267.0,675.4 1267.5,677.4 1268.0,679.3 1268.5,679.5 1269.0,679.5 1269.5,680.2 1270.0,680.0 1270.5,680.3 1271.0,681.5 1271.5,682.4 1272.0,683.1 1272.5,682.9 1273.0,682.3 1273.5,683.0 1274.0,683.6 1274.5,682.6 1275.0,681.6 1275.5,681.5 1276.0,681.4 1276.5,681.0 1277.0,681.4 1277.5,682.8 1278.0,683.4 1278.5,683.0 1279.0,683.4 1279.5,684.2 1280.0,684.1 1280.5,683.1 1281.0,682.6 1281.5,682.9 1282.0,683.0 1282.5,683.4 1283.0,683.6 1283.5,682.9 1284.0,682.3 1284.5,682.0 1285.0,681.9 1285.5,681.7 1286.0,681.6 1286.5,681.7 1287.0,682.0 1287.5,682.6 1288.0,682.4 1288.5,681.9 1289.0,681.8 1289.5,681.5 1290.0,682.4 1290.5,683.2 1291.0,682.7 1291.5,682.5 1292.0,682.9 1292.5,682.5 1293.0,681.1 1293.5,680.9 1294.0,681.6 1294.5,683.1 1295.0,684.3 1295.5,684.2 1296.0,683.3 1296.5,682.0 1297.0,681.4 1297.5,681.7 1298.0,681.0 1298.5,679.1 1299.0,678.0 1299.5,678.4 1300.0,679.4 1300.5,679.7 1301.0,678.5 1301.5,676.4 1302.0,675.7 1302.5,675.8 1303.0,674.8 1303.5,673.1 1304.0,671.0 1304.5,669.8 1305.0,668.8 1305.5,667.2 1306.0,665.0 1306.5,663.7 1307.0,663.4 1307.5,661.4 1308.0,659.3 1308.5,658.9 1309.0,658.4 1309.5,657.6 1310.0,656.6 1310.2,655.9 1310.5,656.1 1311.0,657.2 1311.5,658.3 1312.0,662.4 1312.5,660.0 1313.0,661.2 1313.5,662.1 1314.0,663.5 1314.5,664.7 1315.0,665.3 1315.5,665.9 1316.0,666.4 1316.5,666.8 1317.0,668.5 1317.5,671.1 1318.0,672.1 1318.5,673.0 1319.0,675.1 1319.5,676.0 1320.0,676.3 1320.5,676.9 1321.0,677.2 1321.5,678.1 1322.0,679.5 1322.5,679.5 1323.0,679.1 1323.5,679.9 1324.0,680.6 1324.5,680.2 1325.0,680.8 1325.5,682.0 1326.0,681.3 1326.5,680.6 1327.0,682.3 1327.5,683.9 1328.0,683.7 1328.5,682.4 1329.0,680.9 1329.5,681.6 1330.0,682.9 1330.5,683.1 1331.0,683.5 1331.5,683.7 1332.0,684.1 1332.5,684.4 1333.0,683.6 1333.5,683.4 1334.0,684.1 1334.5,683.9 1335.0,683.9 1335.5,685.1 1336.0,685.5 1336.5,685.2 1337.0,683.6 1337.5,685.5 1338.0,685.8 1338.5,685.7 1339.0,685.1 1339.5,684.2 1340.0,684.2 1340.5,684.2 1341.0,683.5 1341.5,683.3 1342.0,684.2 1342.5,685.1 1343.0,685.4 1343.5,685.2 1344.0,685.2 1344.5,685.7 1345.0,686.0 1345.5,685.4 1346.0,685.2 1346.5,684.4 1347.0,683.2 1347.5,683.6 1348.0,684.6 1348.5,684.5 1349.0,684.1 1349.5,683.9 1350.0,683.3 1350.5,683.7 1351.0,684.1 1351.5,683.1 1352.0,682.9 1352.5,683.3 1353.0,683.2 1353.5,683.3 1354.0,683.4 1354.5,682.5 1355.0,682.4 1355.5,683.1 1356.0,683.1 1356.5,683.6 1357.0,683.6 1357.5,683.1 1358.0,683.2 1358.5,683.6 1359.0,683.6 1359.5,683.1 1360.0,682.6 1360.5,682.3 1361.0,682.2 1361.5,682.2 1362.0,682.9 1362.5,684.4 1363.0,686.0 1363.5,686.0 1364.0,685.3 1364.5,685.6 1365.0,685.2 1365.5,683.6 1366.0,683.4 1366.5,685.2 1367.0,685.1 1367.5,684.0 1368.0,685.0 1368.5,685.6 1369.0,685.1 1369.5,684.7 1370.0,684.0 1370.5,684.3 1371.0,685.3 1371.5,685.7 1372.0,685.6 1372.5,685.3 1373.0,685.0 1373.5,684.8 1374.0,685.1 1374.5,684.9 1375.0,684.7 1375.5,684.4 1376.0,684.3 1376.5,684.8 1377.0,685.3 1377.5,685.9 1378.0,685.5 1378.5,684.8 1379.0,685.0 1379.5,685.0 1380.0,684.6 1380.5,684.4 1381.0,685.1 1381.5,684.8 1382.0,684.5 1382.5,685.2 1383.0,685.8 1383.5,685.4 1384.0,684.5 1384.5,685.1 1385.0,685.8 1385.5,685.1"/>
<polyline stroke="#d01c1c" stroke-width="1.8" points="71.5,615.8 72.0,615.4 72.5,614.3 73.0,614.5 73.5,617.0 74.0,617.6 74.5,616.5 75.0,616.5 75.5,616.2 76.0,615.9 76.5,616.3 77.0,615.9 77.5,615.2 78.0,615.4 78.5,616.1 79.0,616.6 79.5,616.5 80.0,616.3 80.5,616.1 81.0,616.4 81.5,617.3 82.0,617.7 82.5,617.7 83.0,617.4 83.5,617.0 84.0,618.6 84.5,618.8 85.0,616.1 85.5,614.4 86.0,615.4 86.5,617.0 87.0,617.7 87.5,618.0 88.0,617.8 88.5,617.2 89.0,616.8 89.5,616.9 90.0,616.7 90.5,615.7 91.0,615.7 91.5,617.1 92.0,617.5 92.5,615.7 93.0,614.5 93.5,615.3 94.0,616.3 94.5,616.6 95.0,616.2 95.5,615.5 96.0,616.8 96.5,617.2 97.0,615.8 97.5,616.7 98.0,617.9 98.5,617.8 99.0,618.7 99.5,619.3 100.0,617.9 100.5,616.3 101.0,616.3 101.5,616.9 102.0,616.7 102.5,616.3 103.0,616.6 103.5,616.5 104.0,617.4 104.5,613.4 105.0,613.9 105.5,615.2 106.0,617.3 106.5,617.4 107.0,616.5 107.5,615.9 108.0,616.6 108.5,616.3 109.0,615.4 109.5,616.4 110.0,618.3 110.5,618.3 111.0,617.4 111.5,616.6 112.0,616.6 112.5,617.2 113.0,616.6 113.5,615.9 114.0,615.8 114.5,615.9 115.0,617.0 115.5,617.5 116.0,617.3 116.5,617.6 117.0,617.2 117.5,616.5 118.0,616.2 118.5,616.2 119.0,616.2 119.5,615.4 120.0,614.7 120.5,614.2 121.0,613.5 121.5,613.2 122.0,614.2 122.5,615.5 123.0,616.1 123.5,616.8 124.0,617.3 124.5,615.8 125.0,615.0 125.5,615.2 126.0,614.3 126.5,613.7 127.0,613.4 127.5,612.8 128.0,612.8 128.5,614.2 129.0,613.2 129.5,615.1 130.0,617.0 130.5,617.4 131.0,616.3 131.5,615.7 132.0,616.0 132.5,616.5 133.0,617.1 133.5,616.8 134.0,615.4 134.5,614.7 135.0,614.3 135.5,613.8 136.0,614.2 136.5,615.3 137.0,616.4 137.5,616.4 138.0,615.4 138.5,615.2 139.0,616.1 139.5,616.9 140.0,616.5 140.5,615.4 141.0,614.5 141.5,614.4 142.0,615.1 142.5,615.3 143.0,614.8 143.5,614.4 144.0,614.8 144.5,615.5 145.0,616.2 145.5,616.2 146.0,615.4 146.5,614.6 147.0,614.6 147.5,614.4 148.0,614.4 148.5,614.9 149.0,615.1 149.5,615.8 150.0,616.5 150.5,616.3 151.0,615.1 151.5,613.9 152.0,614.1 152.5,614.0 153.0,613.8 153.5,615.0 154.0,615.3 154.5,615.4 155.0,616.2 155.5,616.2 156.0,614.9 156.5,613.8 157.0,613.7 157.5,613.0 158.0,611.8 158.5,611.9 159.0,610.8 159.5,609.4 160.0,610.2 160.5,611.7 161.0,613.8 161.5,614.5 162.0,613.4 162.5,613.6 163.0,614.8 163.5,615.8 164.0,617.0 164.5,616.6 165.0,615.7 165.5,614.8 166.0,613.8 166.5,614.7 167.0,615.5 167.5,614.4 168.0,613.9 168.5,615.3 169.0,616.2 169.5,614.7 170.0,614.0 170.5,614.3 171.0,613.7 171.5,612.5 172.0,614.9 172.5,615.1 173.0,615.3 173.5,616.0 174.0,615.2 174.5,612.9 175.0,612.5 175.5,614.3 176.0,615.8 176.5,615.3 177.0,614.4 177.5,614.4 178.0,614.8 178.5,614.8 179.0,613.9 179.5,613.6 180.0,615.0 180.5,619.3 181.0,614.3 181.5,615.6 182.0,615.4 182.5,613.2 183.0,612.6 183.5,614.3 184.0,614.9 184.5,613.4 185.0,613.2 185.5,614.5 186.0,614.4 186.5,615.1 187.0,617.7 187.5,617.9 188.0,615.9 188.5,614.6 189.0,613.6 189.5,612.4 190.0,612.7 190.5,612.7 191.0,611.7 191.5,612.2 192.0,613.8 192.5,614.4 193.0,614.8 193.5,614.8 194.0,613.7 194.5,618.1 195.0,612.6 195.5,614.1 196.0,615.2 196.5,615.2 197.0,614.7 197.5,613.8 198.0,613.5 198.5,613.5 199.0,614.3 199.5,616.5 200.0,616.4 200.5,614.7 201.0,614.4 201.5,614.5 202.0,614.3 202.5,614.5 203.0,614.1 203.5,613.6 204.0,613.4 204.5,612.8 205.0,611.9 205.5,611.2 206.0,611.4 206.5,611.7 207.0,612.1 207.5,613.1 208.0,614.1 208.5,613.6 209.0,612.9 209.5,612.7 210.0,612.9 210.5,613.7 211.0,613.0 211.5,611.9 212.0,612.7 212.5,612.0 213.0,609.7 213.5,609.7 214.0,609.8 214.5,608.7 215.0,608.5 215.5,609.1 216.0,609.9 216.5,610.8 217.0,610.9 217.5,609.5 218.0,608.6 218.5,607.9 219.0,606.5 219.5,604.5 220.0,603.2 220.5,603.8 221.0,605.2 221.5,605.2 222.0,603.6 222.5,601.1 223.0,599.1 223.5,598.2 224.0,595.2 224.5,589.8 225.0,583.9 225.5,578.0 226.0,571.2 226.5,561.3 227.0,549.0 227.5,535.9 228.0,521.8 228.5,507.5 229.0,496.7 229.5,492.3 230.0,496.2 230.5,508.0 231.0,521.7 231.5,533.7 232.0,546.7 232.5,558.7 233.0,567.7 233.5,575.3 234.0,581.8 234.5,587.0 235.0,590.1 235.5,592.7 236.0,594.7 236.5,594.7 237.0,594.4 237.5,596.1 238.0,597.7 238.5,597.9 239.0,599.7 239.5,596.1 240.0,596.0 240.5,599.3 241.0,594.0 241.5,592.1 242.0,587.9 242.5,582.5 243.0,578.6 243.5,574.9 244.0,568.7 244.5,559.9 245.0,548.2 245.5,531.9 246.0,508.0 246.5,474.8 247.0,433.0 247.5,380.7 248.0,322.5 248.5,274.2 249.0,254.8 249.5,274.3 250.0,322.9 250.5,380.1 251.0,432.1 251.5,474.7 252.0,507.3 252.5,531.3 253.0,548.8 253.5,562.2 254.0,571.4 254.5,577.5 255.0,582.3 255.5,584.7 256.0,587.4 256.5,591.8 257.0,595.2 257.5,596.6 258.0,597.4 258.5,599.4 259.0,602.0 259.5,603.7 260.0,604.4 260.5,604.7 261.0,604.9 261.5,605.6 262.0,606.9 262.5,607.7 263.0,607.4 263.5,607.9 264.0,610.0 264.5,611.5 265.0,610.8 265.5,610.0 266.0,610.0 266.5,610.5 267.0,610.8 267.5,610.5 268.0,608.7 268.5,606.4 269.0,605.1 269.5,603.6 270.0,602.7 270.5,602.7 271.0,600.3 271.5,597.0 272.0,595.0 272.5,591.2 273.0,587.1 273.5,585.6 273.9,585.2 274.0,584.1 274.5,585.3 275.0,589.6 275.5,593.2 276.0,596.0 276.5,600.9 277.0,604.8 277.5,606.4 278.0,608.1 278.5,609.1 279.0,609.5 279.5,611.0 280.0,611.9 280.5,611.2 281.0,611.6 281.5,612.0 282.0,611.5 282.5,611.1 283.0,610.7 283.5,611.1 284.0,612.3 284.5,612.4 285.0,613.1 285.5,614.4 286.0,613.3 286.5,611.8 287.0,612.1 287.5,612.5 288.0,613.1 288.5,613.1 289.0,613.8 289.5,613.5 290.0,612.6 290.5,612.9 291.0,614.0 291.5,615.1 292.0,613.9 292.5,612.0 293.0,611.4 293.5,612.0 294.0,612.7 294.5,612.6 295.0,612.4 295.5,614.4 296.0,614.1 296.5,614.2 297.0,612.6 297.5,612.0 298.0,611.8 298.5,611.3 299.0,611.4 299.5,612.5 300.0,613.7 300.5,613.5 301.0,613.4 301.5,614.2 302.0,614.4 302.5,614.2 303.0,614.1 303.5,614.1 304.0,614.9 304.5,615.0 305.0,613.9 305.5,614.0 306.0,615.4 306.5,616.6 307.0,616.9 307.5,615.6 308.0,614.7 308.5,614.5 309.0,614.7 309.5,614.8 310.0,613.9 310.5,613.9 311.0,614.4 311.5,614.6 312.0,615.1 312.5,615.5 313.0,615.1 313.5,614.2 314.0,614.5 314.5,612.2 315.0,612.3 315.5,613.2 316.0,614.0 316.5,613.5 317.0,613.3 317.5,614.2 318.0,614.1 318.5,614.0 319.0,615.1 319.5,614.9 320.0,613.5 320.5,614.0 321.0,615.6 321.5,615.5 322.0,615.0 322.5,615.8 323.0,616.6 323.5,616.1 324.0,615.9 324.5,615.4 325.0,614.1 325.5,613.2 326.0,611.9 326.5,610.3 327.0,609.9 327.5,610.1 328.0,609.3 328.5,608.1 328.8,608.9 329.0,610.8 329.5,611.0 330.0,610.1 330.5,609.5 331.0,610.0 331.5,611.8 332.0,612.4 332.5,612.5 333.0,614.3 333.5,614.6 334.0,613.5 334.5,613.4 335.0,614.3 335.5,615.0 336.0,618.9 336.5,615.0 337.0,616.8 337.5,617.9 338.0,618.4 338.5,618.4 339.0,617.4 339.5,617.4 340.0,618.0 340.5,617.7 341.0,616.6 341.5,616.0 342.0,615.9 342.5,615.6 343.0,614.8 343.5,614.7 344.0,615.5 344.5,615.8 345.0,616.0 345.5,616.8 346.0,617.9 346.5,618.5 347.0,616.7 347.5,614.7 348.0,614.4 348.5,614.0 349.0,612.9 349.5,611.0 350.0,609.0 350.5,607.4 351.0,605.2 351.5,603.2 352.0,603.1 352.2,604.5 352.5,605.2 353.0,605.2 353.5,606.2 354.0,608.6 354.5,611.2 355.0,613.3 355.5,614.1 356.0,615.0 356.5,617.0 357.0,617.6 357.5,616.8 358.0,616.0 358.5,615.4 359.0,615.5 359.5,615.8 360.0,615.9 360.5,616.0 361.0,616.2 361.5,616.7 362.0,617.3 362.5,617.2 363.0,616.4 363.5,616.9 364.0,619.1 364.5,619.7 365.0,618.8 365.5,618.1 366.0,616.9 366.5,616.5 367.0,618.4 367.5,619.4 368.0,618.0 368.5,618.2 369.0,618.9 369.5,618.1 370.0,618.8 370.5,619.6 371.0,619.2 371.5,620.5 372.0,621.3 372.5,619.6 373.0,618.8 373.5,619.1 374.0,617.5 374.5,620.4 375.0,620.6 375.5,619.9 376.0,618.1 376.5,618.6 377.0,620.0 377.5,621.9 378.0,618.8 378.5,619.3 379.0,620.3 379.5,620.6 380.0,619.8 380.5,619.6 381.0,621.3 381.5,622.3 382.0,623.5 382.5,623.9 383.0,621.3 383.5,620.0 384.0,620.8 384.5,620.6 385.0,619.6 385.5,620.1 386.0,621.2 386.5,620.1 387.0,618.7 387.5,618.8 388.0,619.2 388.5,619.7 389.0,619.5 389.5,619.5 390.0,620.1 390.5,620.3 391.0,621.1 391.5,621.5 392.0,620.2 392.5,619.7 393.0,620.6 393.5,621.2 394.0,620.9 394.5,620.7 395.0,620.8 395.5,621.2 396.0,621.1 396.5,620.2 397.0,620.0 397.5,620.2 398.0,620.1 398.5,620.6 399.0,621.0 399.5,620.5 400.0,619.8 400.5,620.5 401.0,622.3 401.5,621.8 402.0,620.0 402.5,620.6 403.0,622.9 403.5,623.2 404.0,622.3 404.5,621.4 405.0,620.2 405.5,620.7 406.0,620.8 406.5,619.4 407.0,619.9 407.5,621.8 408.0,622.0 408.5,621.0 409.0,621.5 409.5,622.1 410.0,620.6 410.5,619.5 411.0,620.1 411.5,621.2 412.0,622.2 412.5,621.7 413.0,621.8 413.5,623.0 414.0,622.3 414.5,622.0 415.0,622.6 415.5,622.5 416.0,622.2 416.5,622.0 417.0,614.5 417.5,620.2 418.0,620.6 418.5,621.1 419.0,621.2 419.5,621.0 420.0,621.2 420.5,622.5 421.0,621.8 421.5,619.6 422.0,619.5 422.5,619.1 423.0,618.6 423.5,620.0 424.0,620.7 424.5,620.5 425.0,621.3 425.5,622.8 426.0,623.4 426.5,622.9 427.0,622.5 427.5,622.0 428.0,621.4 428.5,620.9 429.0,620.7 429.5,620.7 430.0,621.3 430.5,621.8 431.0,621.8 431.5,622.9 432.0,624.2 432.5,619.9 433.0,619.4 433.5,619.8 434.0,619.2 434.5,618.9 435.0,619.3 435.5,619.2 436.0,618.6 436.5,618.3 437.0,617.1 437.5,616.8 438.0,618.4 438.5,618.5 439.0,618.2 439.5,618.9 440.0,618.4 440.5,618.4 441.0,619.6 441.5,619.7 442.0,620.3 442.5,621.9 443.0,623.1 443.5,623.1 444.0,621.7 444.5,620.5 445.0,620.9 445.5,622.4 446.0,622.9 446.5,621.5 447.0,620.5 447.5,620.7 448.0,620.2 448.5,619.6 449.0,620.0 449.5,620.7 450.0,621.1 450.5,621.6 451.0,621.8 451.5,619.9 452.0,617.3 452.5,617.2 453.0,618.7 453.5,620.0 454.0,620.6 454.5,619.2 455.0,618.3 455.5,618.7 456.0,618.2 456.5,616.9 457.0,615.7 457.5,614.1 458.0,613.8 458.5,613.9 459.0,612.9 459.5,607.6 460.0,612.9 460.5,611.9 461.0,610.6 461.5,607.5 462.0,603.3 462.5,600.3 463.0,597.8 463.5,593.3 464.0,585.9 464.5,577.4 465.0,568.7 465.5,557.4 466.0,542.5 466.5,528.1 467.0,515.4 467.5,505.2 468.0,502.1 468.5,505.7 469.0,516.0 469.5,528.3 470.0,542.8 470.5,556.8 471.0,569.4 471.5,579.3 472.0,586.4 472.5,591.8 473.0,596.4 473.5,601.0 474.0,604.0 474.5,605.5 475.0,608.0 475.5,610.0 476.0,611.5 476.5,613.3 477.0,614.4 477.5,614.6 478.0,614.6 478.5,615.2 479.0,615.6 479.5,614.7 480.0,616.5 480.5,617.2 481.0,617.2 481.5,616.6 482.0,616.1 482.5,616.0 483.0,616.4 483.5,617.3 484.0,618.2 484.5,620.3 485.0,621.4 485.5,620.2 486.0,620.0 486.5,619.8 487.0,618.8 487.5,619.0 488.0,620.8 488.5,621.9 489.0,620.7 489.5,618.9 490.0,618.8 490.5,620.3 491.0,621.3 491.5,620.9 492.0,620.6 492.5,620.5 493.0,619.6 493.5,618.8 494.0,617.9 494.5,617.3 495.0,618.3 495.5,619.2 496.0,618.3 496.5,616.4 497.0,615.8 497.5,616.3 498.0,615.6 498.5,613.7 499.0,610.6 499.5,607.6 500.0,604.8 500.5,601.5 501.0,597.9 501.5,594.9 502.0,592.5 502.5,589.3 502.8,587.9 503.0,589.0 503.5,590.8 504.0,592.3 504.5,595.9 505.0,600.8 505.5,604.8 506.0,606.9 506.5,609.0 507.0,612.4 507.5,615.9 508.0,617.6 508.5,618.1 509.0,620.2 509.5,621.0 510.0,620.3 510.5,620.4 511.0,620.1 511.5,619.6 512.0,618.9 512.5,618.5 513.0,617.8 513.5,617.6 514.0,618.4 514.5,619.3 515.0,620.6 515.5,621.3 516.0,620.5 516.5,620.2 517.0,619.6 517.5,618.8 518.0,619.5 518.5,620.0 519.0,619.2 519.5,617.9 520.0,617.4 520.5,618.8 521.0,620.6 521.5,621.8 522.0,622.5 522.5,622.6 523.0,622.4 523.5,622.3 524.0,622.0 524.5,622.3 525.0,623.7 525.5,624.4 526.0,622.4 526.5,621.2 527.0,621.9 527.5,621.4 528.0,621.0 528.5,620.8 529.0,621.1 529.5,622.3 530.0,621.9 530.5,620.7 531.0,620.3 531.5,620.5 532.0,620.6 532.5,620.0 533.0,619.3 533.5,619.4 534.0,620.0 534.5,620.4 535.0,620.2 535.5,620.7 536.0,622.4 536.5,623.7 537.0,621.7 537.5,618.9 538.0,619.4 538.5,620.9 539.0,622.2 539.5,623.3 540.0,621.9 540.5,620.1 541.0,620.9 541.5,621.9 542.0,622.4 542.5,622.1 543.0,621.2 543.5,620.6 544.0,619.7 544.5,620.0 545.0,621.7 545.5,622.0 546.0,619.7 546.5,618.5 547.0,619.4 547.5,620.1 548.0,620.2 548.5,619.0 549.0,618.5 549.5,619.4 550.0,619.3 550.5,618.0 551.0,617.0 551.5,616.8 552.0,615.8 552.5,614.0 553.0,611.1 553.5,608.2 554.0,606.3 554.5,603.9 555.0,599.8 555.5,593.3 556.0,585.8 556.5,578.6 557.0,570.6 557.5,562.1 558.0,557.6 558.2,557.2 558.5,557.6 559.0,562.7 559.5,570.4 560.0,577.5 560.5,585.0 561.0,592.4 561.5,598.6 562.0,604.3 562.5,608.0 563.0,609.9 563.5,611.8 564.0,612.9 564.5,613.9 565.0,615.9 565.5,617.4 566.0,616.7 566.5,615.6 567.0,616.6 567.5,617.5 568.0,616.8 568.5,616.9 569.0,616.8 569.5,616.1 570.0,617.6 570.5,619.5 571.0,619.1 571.5,618.5 572.0,619.4 572.5,620.6 573.0,620.6 573.5,618.9 574.0,617.8 574.5,617.7 575.0,617.0 575.5,616.0 576.0,614.6 576.5,612.8 577.0,612.0 577.5,612.7 578.0,613.7 578.5,615.2 579.0,617.5 579.5,619.9 580.0,620.6 580.5,620.3 581.0,621.1 581.5,621.9 582.0,620.7 582.5,618.7 583.0,618.7 583.5,620.9 584.0,621.9 584.5,620.8 585.0,620.5 585.5,622.0 586.0,622.4 586.5,621.3 587.0,620.0 587.5,619.8 588.0,620.4 588.5,620.6 589.0,621.6 589.5,622.3 590.0,622.4 590.5,622.5 591.0,621.8 591.5,621.9 592.0,622.2 592.5,621.6 593.0,621.6 593.5,622.4 594.0,622.2 594.5,621.4 595.0,621.3 595.5,622.6 596.0,623.6 596.5,622.5 597.0,620.9 597.5,620.0 598.0,619.2 598.5,619.4 599.0,620.8 599.5,620.9 600.0,619.5 600.5,618.9 601.0,619.3 601.5,618.9 602.0,618.4 602.5,619.1 603.0,619.3 603.5,619.3 604.0,619.2 604.5,619.3 605.0,619.5 605.5,619.1 606.0,619.6 606.5,620.0 607.0,619.5 607.5,618.9 608.0,617.4 608.5,616.8 609.0,617.2 609.5,617.4 610.0,617.5 610.5,617.4 611.0,617.1 611.5,616.7 612.0,616.1 612.5,615.5 613.0,614.9 613.5,615.6 614.0,616.1 614.5,614.7 615.0,615.1 615.5,616.8 616.0,617.6 616.5,618.2 617.0,617.5 617.5,616.5 618.0,616.5 618.5,617.5 619.0,619.7 619.5,620.7 620.0,620.1 620.5,620.1 621.0,619.5 621.5,618.8 622.0,618.8 622.5,619.1 623.0,619.5 623.5,620.8 624.0,621.7 624.5,621.6 625.0,620.7 625.5,620.5 626.0,621.0 626.5,619.8 627.0,617.9 627.5,618.9 628.0,620.3 628.5,620.0 629.0,620.5 629.5,620.4 630.0,619.0 630.5,619.5 631.0,620.4 631.5,619.8 632.0,613.8 632.5,619.7 633.0,620.3 633.5,621.0 634.0,620.8 634.5,620.1 635.0,620.0 635.5,619.5 636.0,618.7 636.5,618.5 637.0,619.6 637.5,620.7 638.0,620.3 638.5,619.5 639.0,618.7 639.5,618.7 640.0,618.6 640.5,618.3 641.0,619.0 641.5,619.1 642.0,619.1 642.5,617.8 643.0,615.7 643.5,614.8 644.0,614.0 644.5,613.0 645.0,611.6 645.5,609.5 646.0,607.9 646.5,606.8 647.0,605.8 647.5,606.2 647.8,606.9 648.0,607.3 648.5,606.9 649.0,607.3 649.5,607.9 650.0,607.0 650.5,608.1 651.0,610.4 651.5,612.4 652.0,613.8 652.5,614.5 653.0,615.4 653.5,616.0 654.0,616.2 654.5,616.3 655.0,617.3 655.5,620.3 656.0,621.5 656.5,620.0 657.0,618.6 657.5,617.9 658.0,618.6 658.5,620.0 659.0,619.6 659.5,618.4 660.0,618.1 660.5,618.2 661.0,618.5 661.5,618.0 662.0,616.7 662.5,615.9 663.0,614.7 663.5,613.8 664.0,615.1 664.5,616.9 665.0,617.2 665.5,617.3 666.0,618.5 666.5,614.0 667.0,620.3 667.5,620.6 668.0,618.9 668.5,618.9 669.0,620.0 669.5,619.3 670.0,619.2 670.5,620.3 671.0,620.8 671.5,621.1 672.0,621.0 672.5,621.0 673.0,622.2 673.5,622.7 674.0,621.9 674.5,622.1 675.0,622.0 675.5,621.1 676.0,620.4 676.5,619.5 677.0,619.6 677.5,620.3 678.0,621.0 678.5,621.0 679.0,619.8 679.5,619.4 680.0,619.7 680.5,620.5 681.0,620.8 681.5,620.1 682.0,620.2 682.5,620.0 683.0,620.2 683.5,620.9 684.0,620.8 684.5,620.9 685.0,620.7 685.5,620.2 686.0,619.3 686.5,618.4 687.0,618.9 687.5,620.1 688.0,619.6 688.5,619.2 689.0,620.3 689.5,620.1 690.0,618.3 690.5,618.2 691.0,618.6 691.5,616.5 692.0,617.5 692.5,618.3 693.0,618.3 693.5,618.2 694.0,617.7 694.5,616.5 695.0,616.8 695.5,617.1 696.0,615.0 696.5,614.0 697.0,613.9 697.5,613.8 698.0,614.0 698.5,613.6 699.0,611.8 699.5,610.4 700.0,611.7 700.5,612.1 701.0,610.9 701.5,611.1 702.0,611.3 702.2,611.8 702.5,612.1 703.0,610.8 703.5,610.0 704.0,610.5 704.5,610.8 705.0,611.6 705.5,612.7 706.0,614.5 706.5,616.8 707.0,617.4 707.5,617.3 708.0,622.0 708.5,616.9 709.0,617.0 709.5,618.7 710.0,619.9 710.5,623.1 711.0,620.0 711.5,620.4 712.0,620.6 712.5,620.0 713.0,618.1 713.5,617.0 714.0,618.3 714.5,619.8 715.0,620.2 715.5,620.5 716.0,620.6 716.5,620.7 717.0,620.3 717.5,620.0 718.0,620.2 718.5,619.7 719.0,619.2 719.5,619.4 720.0,619.7 720.5,620.1 721.0,620.6 721.5,620.3 722.0,620.3 722.5,620.3 723.0,620.3 723.5,621.1 724.0,621.3 724.5,621.1 725.0,619.9 725.5,618.5 726.0,618.7 726.5,620.6 727.0,621.7 727.5,621.2 728.0,620.4 728.5,621.1 729.0,623.1 729.5,622.1 730.0,620.0 730.5,619.3 731.0,619.8 731.5,622.6 732.0,624.5 732.5,623.5 733.0,621.7 733.5,620.1 734.0,619.9 734.5,620.5 735.0,620.2 735.5,619.7 736.0,619.6 736.5,620.1 737.0,621.5 737.5,622.0 738.0,620.9 738.5,619.7 739.0,618.6 739.5,618.2 740.0,619.2 740.5,620.7 741.0,621.4 741.5,621.5 742.0,621.0 742.5,619.0 743.0,618.8 743.5,618.5 744.0,619.2 744.5,620.6 745.0,619.9 745.5,619.3 746.0,619.6 746.5,618.7 747.0,617.7 747.5,617.3 748.0,616.4 748.5,615.5 749.0,614.9 749.5,613.1 750.0,606.5 750.5,604.7 751.0,603.0 751.5,599.3 752.0,593.9 752.5,589.1 753.0,586.1 753.5,583.3 753.7,581.2 754.0,581.0 754.5,582.2 755.0,584.8 755.5,589.9 756.0,594.2 756.5,596.1 757.0,598.6 757.5,601.6 758.0,601.4 758.5,599.2 759.0,596.0 759.5,593.1 760.0,590.8 760.5,588.6 761.0,587.8 761.2,588.5 761.5,587.7 762.0,588.3 762.5,592.2 763.0,597.9 763.5,602.6 764.0,605.3 764.5,608.0 765.0,610.6 765.5,612.0 766.0,613.3 766.5,615.3 767.0,617.0 767.5,617.2 768.0,616.9 768.5,616.5 769.0,616.2 769.5,617.1 770.0,617.3 770.5,615.3 771.0,614.1 771.5,613.0 772.0,609.5 772.5,607.0 773.0,606.1 773.5,603.6 774.0,599.9 774.5,596.8 775.0,594.0 775.5,591.8 776.0,591.8 776.1,592.3 776.5,591.9 777.0,592.1 777.5,594.8 778.0,600.0 778.5,603.0 779.0,605.1 779.5,609.6 780.0,613.3 780.5,614.0 781.0,615.5 781.5,618.4 782.0,619.3 782.5,619.3 783.0,618.8 783.5,617.6 784.0,618.3 784.5,620.4 785.0,621.4 785.5,620.1 786.0,618.6 786.5,618.2 787.0,618.7 787.5,619.8 788.0,620.4 788.5,621.4 789.0,622.6 789.5,622.6 790.0,622.7 790.5,623.4 791.0,622.9 791.5,621.3 792.0,620.9 792.5,621.6 793.0,622.4 793.5,622.8 794.0,621.4 794.5,620.2 795.0,622.1 795.5,623.6 796.0,623.3 796.5,623.2 797.0,624.1 797.5,624.9 798.0,624.1 798.5,622.8 799.0,621.5 799.5,621.5 800.0,623.3 800.5,623.3 801.0,621.9 801.5,622.1 802.0,622.1 802.5,621.4 803.0,621.6 803.5,621.7 804.0,620.7 804.5,620.6 805.0,621.2 805.5,621.2 806.0,621.1 806.5,621.5 807.0,621.2 807.5,620.5 808.0,620.4 808.5,621.2 809.0,621.4 809.5,620.2 810.0,620.3 810.5,621.2 811.0,620.7 811.5,620.2 812.0,620.4 812.5,620.5 813.0,620.2 813.5,620.5 814.0,620.4 814.5,619.9 815.0,620.4 815.5,620.6 816.0,621.0 816.5,621.4 817.0,620.3 817.5,619.2 818.0,618.8 818.5,618.0 819.0,618.7 819.5,620.1 820.0,620.1 820.5,619.6 821.0,618.5 821.5,617.0 822.0,616.6 822.5,617.1 823.0,617.1 823.5,617.0 824.0,617.1 824.5,617.0 824.6,616.8 825.0,616.5 825.5,616.3 826.0,615.4 826.5,615.3 827.0,618.0 827.5,620.4 828.0,621.2 828.5,621.4 829.0,620.1 829.5,618.3 830.0,618.6 830.5,620.1 831.0,620.4 831.5,620.3 832.0,620.2 832.5,619.9 833.0,620.1 833.5,620.3 834.0,620.9 834.5,621.6 835.0,621.7 835.5,622.6 836.0,622.4 836.5,621.8 837.0,622.4 837.5,621.2 838.0,621.0 838.5,620.9 839.0,620.1 839.5,621.6 840.0,622.6 840.5,621.7 841.0,621.4 841.5,621.3 842.0,621.5 842.5,621.7 843.0,621.0 843.5,620.6 844.0,621.1 844.5,621.6 845.0,620.7 845.5,618.0 846.0,616.9 846.5,617.9 847.0,618.0 847.5,617.3 848.0,617.7 848.5,617.9 849.0,617.8 849.5,616.9 850.0,614.9 850.5,614.7 851.0,615.5 851.5,613.7 852.0,611.4 852.5,611.6 853.0,612.8 853.5,613.1 854.0,612.3 854.5,611.1 855.0,609.8 855.5,610.4 856.0,611.4 856.5,610.9 857.0,610.3 857.5,610.9 858.0,612.6 858.5,613.1 859.0,612.3 859.5,610.9 860.0,611.5 860.5,613.3 861.0,612.6 861.5,612.0 862.0,612.9 862.5,612.5 862.9,611.0 863.0,611.4 863.5,613.1 864.0,614.1 864.5,614.7 865.0,614.8 865.5,614.2 866.0,616.3 866.5,616.3 867.0,616.5 867.5,617.5 868.0,618.5 868.5,618.9 869.0,619.0 869.5,619.5 870.0,620.2 870.5,620.9 871.0,620.6 871.5,620.4 872.0,620.6 872.5,620.4 873.0,620.8 873.5,621.3 874.0,622.1 874.5,621.9 875.0,620.7 875.5,621.4 876.0,621.8 876.5,621.2 877.0,621.0 877.5,620.6 878.0,619.9 878.5,619.7 879.0,620.5 879.5,621.0 880.0,620.5 880.5,620.5 881.0,622.2 881.5,622.7 882.0,621.0 882.5,620.0 883.0,620.5 883.5,621.7 884.0,621.8 884.5,620.0 885.0,619.2 885.5,620.7 886.0,621.5 886.5,621.6 887.0,621.4 887.5,620.7 888.0,620.9 888.5,621.4 889.0,622.2 889.5,622.6 890.0,621.5 890.5,621.0 891.0,622.0 891.5,622.0 892.0,620.2 892.5,618.7 893.0,619.3 893.5,620.8 894.0,621.2 894.5,621.1 895.0,621.2 895.5,620.9 896.0,621.2 896.5,621.7 897.0,621.5 897.5,621.7 898.0,622.3 898.5,621.8 899.0,620.3 899.5,619.1 900.0,618.1 900.5,618.2 901.0,619.0 901.5,618.2 902.0,617.4 902.5,617.8 903.0,617.1 903.5,616.3 904.0,615.8 904.5,614.2 905.0,610.9 905.5,607.8 906.0,606.2 906.5,603.8 907.0,600.7 907.4,600.8 907.5,603.0 908.0,604.4 908.5,606.0 909.0,608.5 909.5,610.1 910.0,611.9 910.5,615.3 911.0,618.0 911.5,619.5 912.0,621.3 912.5,621.6 913.0,620.1 913.5,620.2 914.0,621.4 914.5,621.6 915.0,621.8 915.5,622.5 916.0,622.3 916.5,621.6 917.0,621.4 917.5,621.4 918.0,621.3 918.5,620.5 919.0,620.2 919.5,621.1 920.0,622.3 920.5,623.8 921.0,624.3 921.5,623.4 922.0,622.5 922.5,621.5 923.0,621.0 923.5,621.3 924.0,621.8 924.5,622.2 925.0,622.9 925.5,623.3 926.0,621.7 926.5,620.4 927.0,620.9 927.5,621.3 928.0,622.0 928.5,622.2 929.0,621.3 929.5,621.1 930.0,621.2 930.5,621.0 931.0,621.0 931.5,621.9 932.0,622.3 932.5,622.4 933.0,622.0 933.5,620.9 934.0,618.8 934.5,617.8 935.0,619.9 935.5,622.2 936.0,621.3 936.5,619.7 937.0,620.7 937.5,621.3 938.0,620.8 938.5,621.1 939.0,621.6 939.5,622.2 940.0,623.4 940.5,623.6 941.0,621.7 941.5,620.3 942.0,620.5 942.5,621.5 943.0,622.1 943.5,622.0 944.0,621.2 944.5,620.0 945.0,619.8 945.5,619.6 946.0,620.0 946.5,621.4 947.0,622.5 947.5,622.4 948.0,621.4 948.5,620.6 949.0,622.6 949.5,619.9 950.0,620.5 950.5,621.2 951.0,620.7 951.5,620.4 952.0,621.1 952.5,622.0 953.0,621.5 953.5,620.8 954.0,621.1 954.5,622.1 955.0,623.3 955.5,622.3 956.0,620.9 956.5,621.6 957.0,622.3 957.5,621.5 958.0,620.7 958.5,620.6 959.0,621.0 959.5,621.2 960.0,621.6 960.5,621.7 961.0,620.9 961.5,620.4 962.0,618.9 962.5,616.7 963.0,615.8 963.5,615.2 964.0,616.0 964.5,617.5 965.0,617.6 965.5,617.2 966.0,616.8 966.5,616.6 967.0,617.0 967.5,618.0 968.0,618.0 968.5,617.7 969.0,619.1 969.5,620.7 970.0,620.7 970.5,619.7 971.0,618.7 971.5,619.0 972.0,618.5 972.5,619.7 973.0,621.3 973.5,621.9 974.0,621.4 974.5,621.2 975.0,621.0 975.5,621.5 976.0,622.6 976.5,622.8 977.0,622.1 977.5,620.6 978.0,620.2 978.5,620.6 979.0,619.6 979.5,619.5 980.0,621.1 980.5,621.0 981.0,619.6 981.5,619.6 982.0,620.3 982.5,620.0 983.0,619.9 983.5,620.4 984.0,620.0 984.5,618.8 985.0,618.0 985.5,618.1 986.0,618.4 986.5,619.8 987.0,620.3 987.5,619.7 988.0,619.9 988.5,620.1 989.0,620.1 989.5,620.3 990.0,619.9 990.5,619.1 991.0,619.6 991.5,620.6 992.0,619.9 992.5,619.0 993.0,618.6 993.5,617.5 994.0,617.0 994.5,617.5 995.0,617.5 995.5,615.9 996.0,614.1 996.5,614.0 997.0,614.4 997.5,614.0 998.0,612.8 998.5,612.5 999.0,613.0 999.3,612.8 999.5,613.0 1000.0,614.4 1000.5,615.6 1001.0,616.0 1001.5,615.8 1002.0,615.4 1002.5,615.8 1003.0,615.7 1003.5,615.1 1004.0,615.0 1004.5,615.3 1005.0,615.6 1005.5,616.5 1006.0,617.6 1006.5,617.0 1007.0,616.3 1007.5,617.5 1008.0,618.6 1008.5,619.1 1009.0,619.5 1009.5,618.9 1010.0,619.5 1010.5,621.2 1011.0,621.3 1011.5,621.2 1012.0,621.5 1012.5,621.3 1013.0,620.8 1013.5,620.9 1014.0,621.1 1014.5,620.5 1015.0,620.6 1015.5,620.9 1016.0,619.7 1016.5,619.2 1017.0,620.8 1017.5,621.9 1018.0,620.8 1018.5,620.0 1019.0,621.9 1019.5,622.7 1020.0,620.0 1020.5,618.8 1021.0,620.6 1021.5,622.2 1022.0,622.9 1022.5,622.9 1023.0,622.5 1023.5,622.4 1024.0,622.3 1024.5,621.9 1025.0,621.6 1025.5,621.7 1026.0,622.2 1026.5,622.0 1027.0,621.7 1027.5,621.8 1028.0,621.1 1028.5,620.9 1029.0,620.6 1029.5,619.7 1030.0,620.7 1030.5,622.4 1031.0,622.1 1031.5,620.7 1032.0,620.1 1032.5,620.4 1033.0,621.1 1033.5,620.9 1034.0,620.3 1034.5,621.0 1035.0,621.4 1035.5,619.0 1036.0,620.3 1036.5,619.8 1037.0,619.4 1037.5,620.4 1038.0,621.0 1038.5,620.2 1039.0,620.1 1039.5,621.5 1040.0,620.9 1040.5,619.2 1041.0,619.6 1041.5,619.0 1042.0,617.9 1042.5,619.3 1043.0,620.6 1043.5,620.4 1044.0,619.5 1044.5,618.4 1045.0,618.3 1045.5,619.0 1046.0,618.7 1046.5,617.0 1047.0,616.1 1047.5,615.0 1048.0,613.3 1048.5,613.3 1049.0,612.3 1049.5,611.0 1050.0,611.5 1050.5,611.7 1051.0,612.5 1051.1,612.6 1051.5,610.8 1052.0,610.4 1052.5,611.1 1053.0,611.7 1053.5,613.4 1054.0,614.9 1054.5,614.8 1055.0,614.3 1055.5,615.6 1056.0,616.3 1056.5,616.3 1057.0,617.2 1057.5,617.7 1058.0,617.9 1058.5,618.6 1059.0,620.4 1059.5,621.7 1060.0,620.9 1060.5,620.9 1061.0,621.4 1061.5,620.8 1062.0,620.9 1062.5,621.7 1063.0,622.3 1063.5,623.0 1064.0,623.6 1064.5,623.3 1065.0,622.6 1065.5,622.0 1066.0,621.7 1066.5,622.8 1067.0,624.6 1067.5,624.0 1068.0,621.8 1068.5,621.6 1069.0,622.1 1069.5,621.7 1070.0,622.2 1070.5,622.3 1071.0,621.4 1071.5,620.7 1072.0,620.8 1072.5,622.1 1073.0,623.0 1073.5,623.7 1074.0,623.6 1074.5,622.5 1075.0,621.3 1075.5,622.1 1076.0,621.8 1076.5,622.6 1077.0,623.5 1077.5,623.1 1078.0,623.0 1078.5,623.6 1079.0,623.9 1079.5,623.9 1080.0,623.5 1080.5,622.3 1081.0,621.9 1081.5,622.7 1082.0,623.5 1082.5,624.0 1083.0,624.6 1083.5,624.7 1084.0,624.5 1084.5,623.5 1085.0,622.7 1085.5,623.1 1086.0,622.4 1086.5,620.9 1087.0,621.7 1087.5,621.8 1088.0,619.8 1088.5,620.6 1089.0,621.8 1089.5,621.4 1090.0,621.5 1090.5,622.9 1091.0,624.4 1091.5,625.8 1092.0,623.2 1092.5,624.2 1093.0,624.1 1093.5,623.4 1094.0,622.6 1094.5,622.6 1095.0,623.2 1095.5,621.8 1096.0,621.2 1096.5,623.3 1097.0,624.2 1097.5,623.3 1098.0,623.0 1098.5,623.0 1099.0,621.2 1099.5,620.2 1100.0,621.9 1100.5,623.3 1101.0,623.9 1101.5,624.5 1102.0,623.5 1102.5,622.1 1103.0,622.1 1103.5,622.6 1104.0,622.3 1104.5,621.2 1105.0,620.5 1105.5,620.7 1106.0,621.1 1106.5,622.0 1107.0,622.8 1107.5,623.7 1108.0,624.0 1108.5,623.4 1109.0,622.9 1109.5,621.9 1110.0,622.3 1110.5,624.0 1111.0,623.9 1111.5,622.2 1112.0,621.8 1112.5,622.5 1113.0,622.2 1113.5,621.1 1114.0,620.4 1114.5,620.9 1115.0,621.6 1115.5,622.3 1116.0,624.2 1116.5,623.6 1117.0,621.3 1117.5,621.8 1118.0,623.7 1118.5,624.2 1119.0,622.6 1119.5,620.5 1120.0,620.7 1120.5,621.7 1121.0,621.0 1121.5,620.2 1122.0,620.9 1122.5,621.3 1123.0,620.9 1123.5,621.0 1124.0,621.1 1124.5,619.8 1125.0,619.4 1125.5,619.7 1126.0,619.2 1126.5,618.9 1127.0,618.8 1127.5,618.1 1128.0,617.2 1128.5,616.9 1129.0,615.6 1129.5,613.0 1130.0,610.9 1130.5,609.3 1131.0,607.5 1131.5,607.2 1132.0,608.8 1132.5,610.1 1133.0,610.0 1133.5,608.3 1134.0,606.9 1134.5,607.4 1135.0,608.2 1135.5,608.4 1136.0,602.7 1136.5,600.5 1137.0,597.5 1137.5,595.0 1137.9,595.6 1138.0,596.5 1138.5,597.6 1139.0,599.8 1139.5,602.4 1140.0,605.6 1140.5,608.8 1141.0,611.8 1141.5,614.7 1142.0,616.9 1142.5,618.1 1143.0,618.6 1143.5,619.4 1144.0,619.0 1144.5,618.8 1145.0,620.2 1145.5,620.9 1146.0,620.3 1146.5,620.7 1147.0,622.0 1147.5,621.0 1148.0,619.2 1148.5,620.1 1149.0,621.6 1149.5,621.6 1150.0,622.1 1150.5,622.4 1151.0,621.3 1151.5,620.9 1152.0,621.0 1152.5,621.6 1153.0,621.8 1153.5,621.2 1154.0,621.8 1154.5,622.9 1155.0,623.0 1155.5,621.7 1156.0,621.2 1156.5,621.8 1157.0,621.8 1157.5,622.6 1158.0,623.0 1158.5,622.4 1159.0,622.3 1159.5,621.2 1160.0,620.0 1160.5,620.2 1161.0,621.2 1161.5,622.2 1162.0,622.4 1162.5,622.6 1163.0,623.3 1163.5,623.4 1164.0,622.4 1164.5,621.9 1165.0,623.0 1165.5,623.5 1166.0,622.6 1166.5,624.7 1167.0,621.4 1167.5,620.4 1168.0,620.1 1168.5,621.0 1169.0,621.5 1169.5,622.5 1170.0,623.6 1170.5,623.0 1171.0,622.5 1171.5,623.1 1172.0,623.7 1172.5,624.2 1173.0,624.7 1173.5,624.3 1174.0,624.4 1174.5,624.4 1175.0,623.7 1175.5,623.5 1176.0,622.8 1176.5,621.5 1177.0,621.4 1177.5,622.6 1178.0,623.1 1178.5,621.9 1179.0,620.9 1179.5,620.3 1180.0,619.6 1180.5,618.6 1181.0,618.3 1181.5,618.5 1182.0,618.0 1182.5,618.3 1183.0,618.7 1183.5,617.6 1184.0,615.9 1184.5,615.0 1185.0,615.6 1185.5,616.3 1186.0,616.6 1186.5,614.9 1187.0,615.3 1187.5,615.6 1188.0,615.0 1188.5,613.7 1189.0,612.4 1189.5,612.2 1190.0,613.1 1190.5,614.7 1191.0,616.0 1191.5,616.2 1192.0,616.3 1192.5,616.8 1193.0,616.2 1193.5,615.8 1194.0,616.3 1194.5,623.9 1195.0,617.9 1195.5,618.1 1196.0,619.1 1196.5,620.0 1197.0,618.9 1197.5,618.5 1198.0,619.8 1198.5,620.8 1199.0,620.9 1199.5,620.3 1200.0,620.1 1200.5,620.6 1201.0,620.9 1201.5,619.4 1202.0,618.5 1202.5,619.5 1203.0,619.8 1203.5,620.7 1204.0,621.8 1204.5,621.9 1205.0,621.3 1205.5,619.8 1206.0,619.9 1206.5,621.1 1207.0,620.9 1207.5,620.3 1208.0,620.5 1208.5,621.0 1209.0,620.6 1209.5,619.3 1210.0,619.5 1210.5,621.3 1211.0,622.1 1211.5,622.0 1212.0,622.7 1212.5,622.4 1213.0,621.6 1213.5,622.8 1214.0,624.2 1214.5,624.0 1215.0,623.7 1215.5,622.8 1216.0,621.5 1216.5,622.1 1217.0,624.0 1217.5,624.6 1218.0,623.4 1218.5,622.3 1219.0,622.5 1219.5,623.8 1220.0,624.6 1220.5,623.5 1221.0,622.4 1221.5,622.8 1222.0,624.1 1222.5,625.2 1223.0,624.5 1223.5,623.5 1224.0,622.9 1224.5,622.0 1225.0,622.0 1225.5,622.4 1226.0,622.7 1226.5,623.3 1227.0,623.9 1227.5,624.7 1228.0,625.0 1228.5,623.9 1229.0,622.3 1229.5,621.7 1230.0,623.0 1230.5,623.5 1231.0,622.5 1231.5,621.9 1232.0,621.4 1232.5,623.4 1233.0,623.8 1233.5,622.9 1234.0,622.6 1234.5,623.3 1235.0,621.8 1235.5,620.7 1236.0,621.4 1236.5,622.3 1237.0,623.1 1237.5,622.1 1238.0,621.7 1238.5,623.1 1239.0,623.1 1239.5,621.7 1240.0,621.2 1240.5,621.5 1241.0,622.5 1241.5,624.1 1242.0,624.4 1242.5,624.1 1243.0,623.7 1243.5,623.0 1244.0,622.6 1244.5,621.8 1245.0,621.6 1245.5,621.7 1246.0,620.3 1246.5,619.8 1247.0,619.3 1247.5,618.5 1248.0,619.1 1248.5,620.0 1249.0,619.9 1249.5,619.6 1250.0,620.3 1250.5,620.8 1251.0,620.0 1251.5,618.6 1252.0,618.8 1252.5,619.9 1253.0,620.3 1253.5,619.9 1254.0,619.3 1254.5,618.9 1255.0,618.8 1255.5,619.8 1256.0,620.7 1256.5,620.5 1257.0,618.2 1257.5,619.5 1258.0,620.2 1258.5,620.4 1259.0,619.9 1259.5,618.5 1260.0,617.1 1260.5,616.1 1261.0,615.0 1261.5,613.6 1262.0,613.1 1262.5,612.1 1263.0,609.5 1263.5,607.6 1264.0,607.5 1264.2,608.5 1264.5,609.4 1265.0,608.2 1265.5,610.9 1266.0,611.5 1266.5,612.2 1267.0,613.1 1267.5,615.1 1268.0,617.5 1268.5,619.6 1269.0,619.7 1269.5,618.3 1270.0,618.8 1270.5,619.3 1271.0,618.4 1271.5,619.0 1272.0,621.1 1272.5,622.0 1273.0,622.5 1273.5,622.8 1274.0,622.5 1274.5,622.3 1275.0,622.0 1275.5,621.8 1276.0,622.2 1276.5,622.4 1277.0,621.5 1277.5,620.6 1278.0,621.3 1278.5,621.6 1279.0,621.3 1279.5,621.4 1280.0,621.6 1280.5,622.5 1281.0,623.0 1281.5,622.8 1282.0,622.4 1282.5,621.8 1283.0,620.7 1283.5,619.9 1284.0,620.9 1284.5,622.6 1285.0,622.4 1285.5,621.5 1286.0,621.9 1286.5,622.6 1287.0,622.8 1287.5,622.9 1288.0,622.5 1288.5,622.9 1289.0,623.4 1289.5,623.0 1290.0,623.0 1290.5,622.1 1291.0,620.9 1291.5,622.2 1292.0,623.6 1292.5,623.6 1293.0,623.0 1293.5,621.9 1294.0,622.2 1294.5,622.9 1295.0,623.2 1295.5,624.0 1296.0,623.5 1296.5,622.9 1297.0,623.5 1297.5,623.5 1298.0,622.9 1298.5,623.1 1299.0,623.3 1299.5,622.5 1300.0,622.2 1300.5,623.3 1301.0,623.5 1301.5,622.7 1302.0,622.5 1302.5,622.2 1303.0,621.3 1303.5,620.8 1304.0,620.6 1304.5,620.0 1305.0,619.1 1305.5,619.6 1306.0,618.8 1306.5,619.1 1307.0,617.9 1307.5,616.1 1308.0,614.2 1308.5,611.9 1309.0,610.4 1309.5,609.6 1310.0,606.8 1310.5,604.5 1311.0,605.1 1311.5,605.7 1312.0,605.6 1312.5,606.0 1313.0,608.4 1313.5,611.5 1314.0,612.0 1314.5,612.3 1315.0,613.3 1315.5,611.9 1316.0,611.0 1316.5,611.9 1317.0,613.2 1317.5,613.4 1318.0,612.9 1318.5,613.1 1319.0,613.9 1319.5,615.0 1320.0,615.4 1320.5,615.1 1321.0,615.5 1321.5,616.8 1322.0,617.2 1322.5,615.9 1323.0,615.0 1323.5,615.5 1324.0,616.2 1324.5,618.0 1325.0,620.4 1325.5,620.7 1326.0,620.8 1326.5,620.3 1327.0,618.8 1327.5,619.0 1328.0,620.1 1328.5,620.8 1329.0,620.9 1329.5,622.0 1330.0,624.6 1330.5,624.3 1331.0,621.9 1331.5,622.6 1332.0,623.6 1332.5,622.7 1333.0,622.7 1333.5,619.9 1334.0,623.1 1334.5,622.4 1335.0,622.9 1335.5,623.4 1336.0,623.5 1336.5,621.4 1337.0,616.2 1337.5,622.1 1338.0,623.8 1338.5,623.6 1339.0,622.6 1339.5,622.4 1340.0,622.3 1340.5,621.9 1341.0,622.1 1341.5,621.8 1342.0,621.6 1342.5,620.8 1343.0,621.7 1343.5,622.7 1344.0,621.8 1344.5,621.2 1345.0,621.6 1345.5,621.5 1346.0,620.7 1346.5,621.1 1347.0,622.9 1347.5,622.9 1348.0,620.5 1348.5,619.6 1349.0,621.0 1349.5,621.5 1350.0,620.8 1350.5,620.6 1351.0,620.0 1351.5,618.8 1352.0,618.9 1352.5,620.6 1353.0,621.7 1353.5,620.4 1354.0,619.0 1354.5,620.2 1355.0,623.6 1355.5,622.7 1356.0,622.7 1356.5,622.3 1357.0,622.7 1357.5,620.9 1358.0,623.3 1358.5,623.1 1359.0,621.6 1359.5,620.3 1360.0,620.0 1360.5,621.1 1361.0,620.4 1361.5,620.3 1362.0,623.0 1362.5,624.5 1363.0,623.9 1363.5,623.5 1364.0,623.4 1364.5,622.8 1365.0,622.9 1365.5,623.7 1366.0,623.2 1366.5,621.9 1367.0,621.8 1367.5,623.2 1368.0,624.3 1368.5,623.8 1369.0,622.8 1369.5,622.6 1370.0,622.3 1370.5,622.5 1371.0,622.7 1371.5,622.0 1372.0,622.9 1372.5,624.3 1373.0,624.2 1373.5,622.9 1374.0,621.2 1374.5,620.6 1375.0,621.0 1375.5,620.9 1376.0,616.4 1376.5,620.6 1377.0,620.3 1377.5,620.8 1378.0,620.9 1378.5,620.6 1379.0,620.5 1379.5,620.6 1380.0,621.2 1380.5,621.5 1381.0,621.0 1381.5,620.5 1382.0,620.9 1382.5,621.4 1383.0,621.5 1383.5,620.9 1384.0,620.6 1384.5,621.0 1385.0,621.1 1385.5,621.3"/>
<polyline stroke="#4a30f0" stroke-width="1.8" points="71.5,555.3 72.0,553.7 72.5,554.0 73.0,554.5 73.5,554.4 74.0,554.1 74.5,553.1 75.0,553.5 75.5,555.4 76.0,557.2 76.5,555.9 77.0,554.0 77.5,553.5 78.0,553.0 78.5,552.8 79.0,553.6 79.5,554.3 80.0,554.7 80.5,554.9 81.0,554.6 81.5,554.9 82.0,555.8 82.5,555.0 83.0,553.7 83.5,553.7 84.0,554.9 84.5,555.4 85.0,554.1 85.5,553.8 86.0,554.2 86.5,553.5 87.0,553.9 87.5,555.2 88.0,555.4 88.5,555.3 89.0,554.2 89.5,553.2 90.0,554.2 90.5,553.9 91.0,553.3 91.5,554.7 92.0,555.2 92.5,553.9 93.0,553.1 93.5,553.4 94.0,554.2 94.5,554.8 95.0,554.5 95.5,554.1 96.0,554.1 96.5,553.1 97.0,552.7 97.5,553.8 98.0,554.3 98.5,553.5 99.0,553.2 99.5,552.7 100.0,552.2 100.5,553.7 101.0,554.0 101.5,552.8 102.0,553.0 102.5,553.6 103.0,553.5 103.5,552.5 104.0,553.2 104.5,555.5 105.0,555.4 105.5,553.7 106.0,554.2 106.5,555.4 107.0,555.9 107.5,556.2 108.0,555.4 108.5,554.8 109.0,555.2 109.5,556.0 110.0,555.5 110.5,553.9 111.0,553.9 111.5,555.7 112.0,556.2 112.5,555.8 113.0,555.7 113.5,552.2 114.0,553.4 114.5,552.8 115.0,553.7 115.5,554.4 116.0,553.5 116.5,553.3 117.0,554.3 117.5,555.2 118.0,555.0 118.5,553.5 119.0,553.0 119.5,554.7 120.0,556.1 120.5,555.8 121.0,554.6 121.5,553.9 122.0,553.6 122.5,553.4 123.0,552.9 123.5,551.7 124.0,550.8 124.5,550.3 125.0,549.5 125.5,549.5 126.0,550.2 126.3,551.5 126.5,547.8 127.0,545.8 127.5,546.3 128.0,548.2 128.5,548.8 129.0,549.4 129.5,552.0 130.0,553.1 130.5,551.8 131.0,551.7 131.5,552.7 132.0,554.1 132.5,555.9 133.0,556.6 133.5,555.9 134.0,555.6 134.5,556.3 135.0,557.1 135.5,557.3 136.0,556.4 136.5,554.9 137.0,554.3 137.5,555.0 138.0,556.2 138.5,555.9 139.0,554.5 139.5,554.2 140.0,554.2 140.5,553.4 141.0,553.2 141.5,555.1 142.0,556.2 142.5,554.6 143.0,553.1 143.5,552.5 144.0,553.1 144.5,554.9 145.0,555.8 145.5,555.5 146.0,555.5 146.5,555.4 147.0,554.6 147.5,553.5 148.0,553.8 148.5,554.2 149.0,553.6 149.5,553.2 150.0,553.1 150.5,553.7 151.0,554.2 151.5,553.6 152.0,553.5 152.5,554.1 153.0,554.6 153.5,553.6 154.0,551.7 154.5,551.6 155.0,551.2 155.5,550.5 156.0,550.2 156.5,549.2 157.0,547.4 157.5,546.1 157.9,545.9 158.0,545.1 158.5,545.5 159.0,547.3 159.5,549.4 160.0,552.3 160.5,554.2 161.0,554.7 161.5,553.7 162.0,553.0 162.5,553.6 163.0,553.8 163.5,553.3 164.0,548.5 164.5,554.1 165.0,554.4 165.5,554.0 166.0,553.8 166.5,553.1 167.0,552.3 167.5,552.4 168.0,552.8 168.5,554.3 169.0,555.4 169.5,555.5 170.0,556.3 170.5,557.1 171.0,556.7 171.5,556.2 172.0,555.6 172.5,555.7 173.0,556.3 173.5,556.4 174.0,561.2 174.5,558.0 175.0,557.9 175.5,556.8 176.0,555.7 176.5,555.6 177.0,555.1 177.5,554.7 178.0,556.7 178.5,554.4 179.0,553.9 179.5,553.5 180.0,553.0 180.5,552.6 181.0,553.1 181.5,552.7 182.0,556.1 182.5,556.1 183.0,554.6 183.5,555.2 184.0,555.8 184.5,555.7 185.0,556.3 185.5,555.5 186.0,554.5 186.5,555.0 187.0,555.5 187.5,554.9 188.0,554.3 188.5,555.1 189.0,555.0 189.5,553.5 190.0,553.3 190.5,553.9 191.0,554.8 191.5,556.0 192.0,555.2 192.5,553.1 193.0,553.8 193.5,555.6 194.0,556.8 194.5,555.8 195.0,555.0 195.5,555.1 196.0,555.7 196.5,556.1 197.0,555.1 197.5,554.7 198.0,555.0 198.5,554.4 199.0,554.4 199.5,555.4 200.0,555.3 200.5,554.4 201.0,553.9 201.5,554.3 202.0,555.8 202.5,556.6 203.0,556.8 203.5,556.7 204.0,556.1 204.5,555.4 205.0,555.5 205.5,555.2 206.0,554.7 206.5,555.2 207.0,555.5 207.5,552.4 208.0,553.9 208.5,555.0 209.0,555.5 209.5,554.1 210.0,553.2 210.5,553.7 211.0,553.4 211.5,552.2 212.0,553.1 212.5,553.7 213.0,553.2 213.5,553.7 214.0,553.1 214.5,551.8 215.0,550.8 215.5,549.7 216.0,550.3 216.5,551.2 217.0,550.6 217.5,550.4 218.0,549.8 218.5,548.9 219.0,546.8 219.5,545.2 220.0,544.0 220.5,543.6 221.0,541.3 221.5,536.9 222.0,538.6 222.5,535.4 223.0,531.1 223.5,527.7 224.0,522.8 224.5,514.7 225.0,504.8 225.5,491.4 226.0,472.8 226.5,450.9 227.0,428.8 227.5,409.2 228.0,395.4 228.4,391.1 228.5,390.9 229.0,399.0 229.5,416.6 230.0,438.0 230.5,458.7 231.0,476.7 231.5,492.2 232.0,505.3 232.5,515.0 233.0,522.8 233.5,529.4 234.0,534.7 234.5,539.0 235.0,540.0 235.5,539.9 236.0,541.2 236.5,541.5 237.0,541.3 237.5,541.5 238.0,539.4 238.5,537.8 239.0,538.8 239.5,539.4 240.0,538.7 240.5,536.3 241.0,534.6 241.5,533.7 242.0,530.7 242.5,528.0 243.0,524.9 243.5,518.7 244.0,510.5 244.5,500.4 245.0,485.4 245.5,463.6 246.0,434.1 246.5,394.7 247.0,343.0 247.5,280.9 248.0,223.8 248.5,194.5 248.6,193.7 249.0,208.4 249.5,257.9 250.0,319.0 250.5,374.3 251.0,418.3 251.5,451.1 252.0,476.9 252.5,495.9 253.0,507.0 253.5,514.2 254.0,520.7 254.5,526.6 255.0,530.1 255.5,532.5 256.0,535.8 256.5,538.6 257.0,540.1 257.5,539.9 258.0,544.2 258.5,545.1 259.0,545.1 259.5,545.5 260.0,546.8 260.5,548.0 261.0,548.6 261.5,549.4 262.0,550.1 262.5,550.6 263.0,550.4 263.5,548.9 264.0,548.2 264.5,549.8 265.0,551.1 265.5,551.2 266.0,551.0 266.5,550.3 267.0,549.5 267.5,549.5 268.0,550.0 268.5,548.6 269.0,545.6 269.5,543.1 270.0,541.9 270.5,540.1 271.0,535.7 271.5,530.9 272.0,527.8 272.5,524.6 273.0,521.8 273.3,521.2 273.5,521.5 274.0,523.4 274.5,526.6 275.0,530.9 275.5,536.2 276.0,540.9 276.5,543.6 277.0,544.8 277.5,547.7 278.0,550.3 278.5,551.0 279.0,552.4 279.5,553.8 280.0,553.9 280.5,553.6 281.0,554.2 281.5,550.5 282.0,555.9 282.5,554.9 283.0,554.5 283.5,554.9 284.0,554.9 284.5,553.6 285.0,553.4 285.5,554.3 286.0,554.1 286.5,554.8 287.0,556.0 287.5,556.0 288.0,555.7 288.5,555.6 289.0,555.2 289.5,555.1 290.0,553.0 290.5,554.5 291.0,555.7 291.5,555.4 292.0,554.6 292.5,555.1 293.0,555.8 293.5,555.8 294.0,556.2 294.5,556.6 295.0,555.9 295.5,555.5 296.0,556.6 296.5,558.1 297.0,558.9 297.5,558.6 298.0,557.5 298.5,557.3 299.0,557.5 299.5,557.3 300.0,557.7 300.5,557.5 301.0,556.5 301.5,553.6 302.0,557.4 302.5,559.3 303.0,559.7 303.5,557.8 304.0,552.1 304.5,555.0 305.0,556.0 305.5,556.3 306.0,556.0 306.5,556.1 307.0,555.5 307.5,555.8 308.0,556.1 308.5,556.2 309.0,557.6 309.5,557.8 310.0,556.0 310.5,556.0 311.0,557.5 311.5,557.4 312.0,556.5 312.5,556.8 313.0,557.3 313.5,557.6 314.0,558.1 314.5,558.7 315.0,559.4 315.5,559.3 316.0,558.7 316.5,558.9 317.0,559.1 317.5,557.9 318.0,557.0 318.5,557.8 319.0,558.8 319.5,559.2 320.0,558.9 320.5,558.5 321.0,559.1 321.5,559.4 322.0,558.3 322.5,557.4 323.0,557.2 323.5,557.0 324.0,557.0 324.5,557.3 325.0,558.2 325.5,559.0 326.0,558.1 326.5,557.7 327.0,558.4 327.5,558.5 328.0,557.8 328.5,557.9 329.0,559.1 329.5,559.7 330.0,559.3 330.5,558.6 331.0,558.7 331.5,560.1 332.0,561.0 332.5,560.3 333.0,559.7 333.5,559.2 334.0,558.3 334.5,558.1 335.0,558.6 335.5,558.9 336.0,558.3 336.5,558.1 337.0,559.8 337.5,560.4 338.0,559.2 338.5,558.9 339.0,559.2 339.5,558.7 340.0,558.3 340.5,559.1 341.0,559.3 341.5,559.4 342.0,558.9 342.5,558.0 343.0,558.2 343.5,558.2 344.0,557.1 344.5,556.4 345.0,555.6 345.5,555.4 346.0,556.8 346.5,556.9 347.0,556.4 347.5,556.0 348.0,554.8 348.5,555.2 349.0,556.6 349.5,555.2 350.0,551.5 350.5,550.1 350.7,552.6 351.0,554.7 351.5,554.7 352.0,554.9 352.5,555.5 353.0,555.5 353.5,556.5 354.0,557.7 354.5,557.9 355.0,557.5 355.5,557.3 356.0,557.6 356.5,558.1 357.0,559.8 357.5,560.2 358.0,557.4 358.5,555.6 359.0,556.9 359.5,558.8 360.0,559.9 360.5,559.6 361.0,558.2 361.5,558.5 362.0,559.4 362.5,559.4 363.0,559.8 363.5,560.1 364.0,560.4 364.5,560.8 365.0,560.7 365.5,559.9 366.0,558.8 366.5,558.8 367.0,559.1 367.5,559.5 368.0,559.7 368.5,558.6 369.0,557.6 369.5,557.6 370.0,558.5 370.5,559.1 371.0,559.2 371.5,560.1 372.0,560.2 372.5,559.2 373.0,558.9 373.5,560.2 374.0,560.3 374.5,559.7 375.0,561.4 375.5,562.5 376.0,561.7 376.5,562.1 377.0,563.4 377.5,562.3 378.0,560.2 378.5,559.9 379.0,560.0 379.5,558.7 380.0,557.9 380.5,558.8 381.0,559.0 381.5,558.8 382.0,559.2 382.5,559.5 383.0,558.7 383.5,558.5 384.0,559.9 384.5,560.7 385.0,560.6 385.5,561.1 386.0,560.8 386.5,560.7 387.0,561.4 387.5,561.2 388.0,561.2 388.5,561.1 389.0,560.4 389.5,559.4 390.0,559.5 390.5,558.9 391.0,560.2 391.5,559.1 392.0,557.2 392.5,558.3 393.0,557.1 393.5,556.9 394.0,557.6 394.5,557.5 395.0,557.6 395.5,558.1 396.0,558.1 396.5,558.5 397.0,559.3 397.5,559.0 398.0,557.8 398.5,556.0 399.0,554.1 399.5,553.1 400.0,552.7 400.5,552.4 400.6,553.7 401.0,556.0 401.5,557.4 402.0,556.9 402.5,556.1 403.0,556.5 403.5,557.1 404.0,558.0 404.5,556.3 405.0,560.4 405.5,561.9 406.0,562.1 406.5,561.9 407.0,560.6 407.5,560.0 408.0,561.4 408.5,561.4 409.0,559.8 409.5,558.6 410.0,558.0 410.5,558.8 411.0,559.9 411.5,559.4 412.0,558.3 412.5,558.3 413.0,559.8 413.5,561.1 414.0,561.3 414.5,560.5 415.0,560.6 415.5,561.9 416.0,561.7 416.5,561.3 417.0,560.8 417.5,559.6 418.0,558.0 418.5,560.0 419.0,561.7 419.5,562.3 420.0,561.0 420.5,559.2 421.0,559.7 421.5,560.7 422.0,560.2 422.5,558.7 423.0,558.6 423.5,560.2 424.0,560.7 424.5,559.5 425.0,559.3 425.5,559.6 426.0,558.3 426.5,559.6 427.0,561.9 427.5,561.2 428.0,560.1 428.5,560.2 429.0,560.7 429.5,560.1 430.0,560.3 430.5,560.4 431.0,560.2 431.5,560.4 432.0,559.6 432.5,559.5 433.0,560.2 433.5,560.4 434.0,561.1 434.5,561.1 435.0,559.9 435.5,558.9 436.0,558.6 436.5,559.0 437.0,559.4 437.5,559.1 438.0,558.8 438.5,558.2 439.0,558.0 439.5,558.2 440.0,557.7 440.5,558.3 441.0,558.9 441.5,557.6 442.0,556.6 442.5,556.1 443.0,555.9 443.5,556.0 444.0,556.5 444.5,557.1 445.0,558.3 445.5,559.3 446.0,559.0 446.5,558.5 447.0,557.9 447.5,557.2 448.0,556.2 448.5,556.0 449.0,557.8 449.5,559.4 450.0,558.5 450.5,555.2 451.0,558.3 451.5,557.1 452.0,555.6 452.5,554.9 453.0,554.9 453.5,556.3 454.0,557.3 454.5,555.8 455.0,554.0 455.5,553.9 456.0,553.4 456.5,552.7 457.0,553.4 457.5,554.0 458.0,553.5 458.5,552.2 459.0,549.9 459.5,549.2 460.0,550.5 460.5,549.3 461.0,546.3 461.5,544.8 462.0,543.4 462.5,540.8 463.0,536.7 463.5,531.5 464.0,525.7 464.5,518.1 465.0,507.4 465.5,493.3 466.0,478.3 466.5,463.1 467.0,446.8 467.5,431.6 468.0,419.6 468.5,413.0 468.6,412.1 469.0,415.4 469.5,426.0 470.0,440.9 470.5,458.6 471.0,475.7 471.5,490.9 472.0,503.8 472.5,513.9 473.0,522.3 473.5,528.3 474.0,532.9 474.5,537.6 475.0,541.4 475.5,543.8 476.0,545.5 476.5,547.4 477.0,550.4 477.5,552.4 478.0,552.8 478.5,553.7 479.0,554.8 479.5,555.5 480.0,554.2 480.5,553.8 481.0,555.4 481.5,555.3 482.0,554.4 482.5,554.2 483.0,554.3 483.5,555.0 484.0,556.0 484.5,557.5 485.0,557.0 485.5,554.7 486.0,554.3 486.5,556.6 487.0,554.6 487.5,555.7 488.0,556.4 488.5,556.1 489.0,556.6 489.5,558.2 490.0,559.7 490.5,559.8 491.0,559.1 491.5,558.5 492.0,558.1 492.5,557.8 493.0,557.7 493.5,557.6 494.0,556.5 494.5,556.1 495.0,557.0 495.5,556.6 496.0,555.0 496.5,554.5 497.0,554.5 497.5,553.2 498.0,551.2 498.5,549.5 499.0,547.9 499.5,546.1 500.0,542.2 500.5,536.4 501.0,532.3 501.5,531.0 502.0,529.8 502.5,528.1 502.8,527.4 503.0,526.4 503.5,527.4 504.0,531.2 504.5,535.2 505.0,538.2 505.5,541.0 506.0,544.4 506.5,547.8 507.0,550.5 507.5,551.9 508.0,552.9 508.5,554.9 509.0,556.9 509.5,557.0 510.0,556.3 510.5,556.1 511.0,557.3 511.5,558.2 512.0,557.0 512.5,557.1 513.0,559.0 513.5,559.5 514.0,559.0 514.5,559.3 515.0,559.8 515.5,559.7 516.0,559.8 516.5,560.3 517.0,560.6 517.5,560.2 518.0,559.6 518.5,559.5 519.0,558.5 519.5,558.3 520.0,559.4 520.5,559.6 521.0,559.4 521.5,559.6 522.0,560.3 522.5,559.4 523.0,558.1 523.5,558.8 524.0,559.0 524.5,558.3 525.0,559.3 525.5,560.6 526.0,559.9 526.5,558.5 527.0,558.2 527.5,558.8 528.0,556.4 528.5,555.4 529.0,556.7 529.5,558.7 530.0,560.4 530.5,559.9 531.0,558.3 531.5,558.4 532.0,559.1 532.5,558.8 533.0,558.5 533.5,559.1 534.0,559.4 534.5,559.4 535.0,559.8 535.5,561.0 536.0,560.4 536.5,559.5 537.0,560.6 537.5,560.9 538.0,560.0 538.5,559.4 539.0,559.5 539.5,559.9 540.0,560.1 540.5,560.6 541.0,560.0 541.5,558.8 542.0,559.1 542.5,559.9 543.0,559.6 543.5,558.4 544.0,557.9 544.5,557.4 545.0,556.4 545.5,556.9 546.0,558.4 546.5,558.0 547.0,557.1 547.5,557.3 548.0,558.5 548.5,558.4 549.0,556.6 549.5,555.1 550.0,554.5 550.5,554.6 551.0,552.8 551.5,550.1 552.0,548.6 552.5,546.0 553.0,542.1 553.5,537.0 554.0,530.3 554.5,523.0 555.0,514.8 555.5,504.1 556.0,493.5 556.5,485.0 557.0,478.0 557.3,475.5 557.5,476.3 558.0,482.6 558.5,492.1 559.0,504.0 559.5,512.2 560.0,520.2 560.5,527.9 561.0,532.2 561.5,540.4 562.0,543.9 562.5,547.1 563.0,551.0 563.5,552.0 564.0,552.9 564.5,554.8 565.0,555.5 565.5,554.3 566.0,552.5 566.5,553.9 567.0,555.7 567.5,555.2 568.0,554.0 568.5,554.5 569.0,556.9 569.5,557.4 570.0,556.4 570.5,556.6 571.0,556.7 571.5,556.2 572.0,556.8 572.5,557.8 573.0,558.6 573.5,558.8 574.0,557.8 574.5,557.3 575.0,557.4 575.5,556.7 576.0,556.9 576.5,558.1 577.0,558.3 577.5,558.5 578.0,558.8 578.5,558.5 579.0,559.4 579.5,560.0 580.0,559.8 580.5,559.7 581.0,558.4 581.5,557.7 582.0,558.6 582.5,559.8 583.0,560.9 583.5,561.0 584.0,560.4 584.5,561.3 585.0,562.6 585.5,562.7 586.0,561.9 586.5,561.3 587.0,560.7 587.5,560.6 588.0,560.8 588.5,560.5 589.0,559.7 589.5,558.2 590.0,557.0 590.5,557.1 591.0,558.7 591.5,560.6 592.0,560.3 592.5,558.1 593.0,557.8 593.5,559.5 594.0,559.6 594.5,559.0 595.0,560.0 595.5,560.8 596.0,561.0 596.5,560.9 597.0,560.6 597.5,559.8 598.0,558.6 598.5,558.4 599.0,558.8 599.5,558.9 600.0,557.6 600.5,557.2 601.0,559.0 601.5,560.5 602.0,560.8 602.5,559.6 603.0,557.7 603.5,557.4 604.0,558.0 604.5,557.5 605.0,556.5 605.5,557.2 606.0,557.3 606.5,556.2 607.0,556.2 607.5,556.3 608.0,555.3 608.5,554.7 609.0,553.9 609.5,552.4 610.0,551.0 610.5,550.3 611.0,550.0 611.4,548.8 611.5,548.1 612.0,548.5 612.5,548.5 613.0,549.4 613.5,550.5 614.0,550.6 614.5,551.2 615.0,552.6 615.5,552.7 616.0,551.6 616.5,552.9 617.0,555.7 617.5,555.8 618.0,554.5 618.5,555.4 619.0,557.2 619.5,558.1 620.0,559.2 620.5,560.0 621.0,558.2 621.5,559.3 622.0,560.7 622.5,561.4 623.0,560.5 623.5,560.9 624.0,561.3 624.5,560.5 625.0,559.3 625.5,558.1 626.0,558.6 626.5,560.2 627.0,561.1 627.5,561.3 628.0,561.2 628.5,560.5 629.0,559.1 629.5,558.5 630.0,559.6 630.5,560.4 631.0,559.5 631.5,558.3 632.0,557.9 632.5,558.0 633.0,558.0 633.5,557.6 634.0,557.5 634.5,557.6 635.0,557.5 635.5,556.8 636.0,554.0 636.5,552.7 637.0,554.4 637.5,555.6 638.0,554.7 638.5,553.3 639.0,552.4 639.5,551.1 640.0,549.6 640.5,549.7 641.0,550.2 641.5,550.6 642.0,550.7 642.1,549.3 642.5,549.4 643.0,550.6 643.5,549.9 644.0,549.1 644.5,549.4 645.0,551.4 645.5,553.7 646.0,554.5 646.5,554.3 647.0,554.7 647.5,555.8 648.0,555.9 648.5,555.5 649.0,556.3 649.5,557.9 650.0,559.0 650.5,559.0 651.0,560.0 651.5,560.7 652.0,559.0 652.5,558.7 653.0,560.4 653.5,560.8 654.0,560.4 654.5,560.2 655.0,560.2 655.5,560.2 656.0,560.2 656.5,559.9 657.0,558.9 657.5,558.7 658.0,559.5 658.5,560.0 659.0,560.5 659.5,560.3 660.0,560.0 660.5,560.2 661.0,559.6 661.5,558.6 662.0,558.7 662.5,559.3 663.0,560.0 663.5,560.8 664.0,561.5 664.5,562.0 665.0,562.6 665.5,561.9 666.0,561.2 666.5,561.9 667.0,561.6 667.5,560.4 668.0,560.8 668.5,561.6 669.0,561.7 669.5,561.9 670.0,562.0 670.5,561.7 671.0,561.3 671.5,561.4 672.0,561.2 672.5,560.6 673.0,559.7 673.5,560.6 674.0,561.9 674.5,561.4 675.0,560.8 675.5,560.5 676.0,559.7 676.5,559.5 677.0,560.2 677.5,561.3 678.0,561.8 678.5,561.7 679.0,561.5 679.5,560.6 680.0,560.4 680.5,561.8 681.0,562.1 681.5,560.2 682.0,558.9 682.5,559.9 683.0,559.8 683.5,558.5 684.0,558.1 684.5,558.6 685.0,559.6 685.5,559.5 686.0,559.4 686.5,560.7 687.0,560.2 687.5,559.4 688.0,559.9 688.5,560.9 689.0,562.1 689.5,561.5 690.0,559.8 690.5,559.2 691.0,559.1 691.5,559.6 692.0,559.8 692.5,559.8 693.0,560.2 693.5,559.4 694.0,558.7 694.5,557.9 695.0,555.9 695.5,555.6 696.0,556.5 696.5,556.0 697.0,555.1 697.5,554.3 698.0,553.1 698.5,551.8 699.0,550.0 699.5,549.8 700.0,550.7 700.5,549.7 701.0,549.4 701.5,550.9 701.8,550.6 702.0,549.0 702.5,548.6 703.0,548.8 703.5,549.0 704.0,550.7 704.5,551.8 705.0,552.7 705.5,554.1 706.0,555.7 706.5,557.4 707.0,557.0 707.5,555.9 708.0,556.4 708.5,556.2 709.0,556.4 709.5,557.9 710.0,558.1 710.5,558.7 711.0,559.6 711.5,558.9 712.0,558.7 712.5,560.2 713.0,561.3 713.5,560.3 714.0,558.6 714.5,558.8 715.0,560.6 715.5,562.2 716.0,562.3 716.5,562.2 717.0,562.1 717.5,561.5 718.0,561.8 718.5,561.7 719.0,561.1 719.5,561.6 720.0,561.9 720.5,561.5 721.0,562.3 721.5,563.1 722.0,562.4 722.5,561.2 723.0,561.6 723.5,562.8 724.0,562.0 724.5,560.8 725.0,561.4 725.5,562.3 726.0,561.7 726.5,562.5 727.0,563.4 727.5,562.2 728.0,560.6 728.5,559.8 729.0,560.5 729.5,561.6 730.0,560.4 730.5,558.7 731.0,558.6 731.5,559.6 732.0,559.9 732.5,559.5 733.0,559.6 733.5,559.6 734.0,560.0 734.5,560.7 735.0,560.5 735.5,559.8 736.0,559.8 736.5,559.6 737.0,558.8 737.5,559.2 738.0,560.0 738.5,559.9 739.0,558.9 739.5,558.3 740.0,557.9 740.5,557.2 741.0,557.3 741.5,557.7 742.0,557.0 742.5,555.8 743.0,554.8 743.5,554.4 744.0,555.2 744.5,553.2 745.0,554.4 745.5,553.5 746.0,553.6 746.5,554.1 747.0,553.0 747.5,551.2 748.0,550.3 748.5,548.3 749.0,545.4 749.5,542.8 750.0,538.7 750.5,531.5 751.0,527.8 751.5,522.3 752.0,516.3 752.5,510.2 753.0,505.8 753.4,504.9 753.5,506.2 754.0,508.1 754.5,511.3 755.0,515.9 755.5,519.3 756.0,522.4 756.5,525.4 757.0,526.7 757.5,528.7 758.0,526.3 758.5,522.9 759.0,520.4 759.5,518.7 760.0,515.8 760.4,514.8 760.5,515.0 761.0,516.5 761.5,520.1 762.0,524.1 762.5,528.7 763.0,534.5 763.5,538.3 764.0,541.6 764.5,545.8 765.0,547.9 765.5,551.4 766.0,550.6 766.5,551.4 767.0,551.7 767.5,552.1 768.0,553.3 768.5,554.7 769.0,555.0 769.5,555.0 770.0,554.4 770.5,552.4 771.0,550.0 771.5,548.7 772.0,547.1 772.5,543.5 773.0,539.3 773.5,535.5 774.0,532.1 774.5,529.2 775.0,526.9 775.4,526.0 775.5,525.6 776.0,527.2 776.5,531.1 777.0,535.5 777.5,539.2 778.0,541.8 778.5,544.7 779.0,548.4 779.5,550.6 780.0,551.7 780.5,554.2 781.0,556.5 781.5,557.0 782.0,555.5 782.5,555.3 783.0,556.1 783.5,555.3 784.0,555.0 784.5,555.3 785.0,554.9 785.5,555.1 786.0,556.8 786.5,562.7 787.0,558.8 787.5,558.5 788.0,558.8 788.5,559.8 789.0,560.3 789.5,559.4 790.0,558.4 790.5,558.4 791.0,558.8 791.5,558.6 792.0,559.7 792.5,559.4 793.0,560.7 793.5,562.1 794.0,562.3 794.5,561.7 795.0,560.8 795.5,560.2 796.0,560.4 796.5,561.7 797.0,562.6 797.5,562.0 798.0,560.6 798.5,559.8 799.0,560.2 799.5,559.4 800.0,557.7 800.5,557.8 801.0,558.9 801.5,560.2 802.0,561.6 802.5,561.1 803.0,559.9 803.5,560.9 804.0,561.9 804.5,561.3 805.0,561.4 805.5,562.0 806.0,562.1 806.5,561.0 807.0,560.0 807.5,560.0 808.0,560.2 808.5,560.3 809.0,560.7 809.5,561.2 810.0,560.6 810.5,559.8 811.0,559.5 811.5,559.8 812.0,560.1 812.5,560.6 813.0,560.7 813.5,559.6 814.0,559.6 814.5,560.5 815.0,559.9 815.5,561.6 816.0,560.9 816.5,559.9 817.0,557.8 817.5,558.8 818.0,560.8 818.5,560.8 819.0,560.6 819.5,560.9 820.0,560.2 820.5,560.0 821.0,560.7 821.5,561.4 822.0,562.3 822.5,562.6 823.0,562.6 823.5,562.6 824.0,561.7 824.5,562.1 825.0,563.2 825.5,563.0 826.0,562.4 826.5,561.5 827.0,560.9 827.5,561.1 828.0,561.1 828.5,560.7 829.0,560.9 829.5,561.7 830.0,561.8 830.5,561.3 831.0,561.3 831.5,560.9 832.0,559.2 832.5,559.3 833.0,561.8 833.5,562.5 834.0,561.5 834.5,560.8 835.0,559.7 835.5,559.5 836.0,559.9 836.5,560.1 837.0,560.6 837.5,560.6 838.0,561.5 838.5,563.3 839.0,563.1 839.5,562.0 840.0,561.4 840.5,560.6 841.0,560.6 841.5,562.1 842.0,562.6 842.5,561.8 843.0,561.7 843.5,561.0 844.0,560.0 844.5,560.8 845.0,561.8 845.5,561.2 846.0,561.0 846.5,560.7 847.0,560.2 847.5,561.3 848.0,562.4 848.5,562.5 849.0,561.7 849.5,562.3 850.0,559.4 850.5,559.2 851.0,559.1 851.5,559.9 852.0,561.6 852.5,561.7 853.0,560.6 853.5,559.8 854.0,558.8 854.5,558.2 855.0,557.5 855.5,557.1 856.0,557.8 856.5,557.8 857.0,556.8 857.5,555.5 858.0,554.6 858.5,554.0 859.0,554.0 859.5,552.2 860.0,551.0 860.5,551.0 861.0,551.5 861.5,551.7 862.0,551.3 862.5,550.1 862.9,548.8 863.0,548.5 863.5,550.6 864.0,553.2 864.5,552.8 865.0,550.7 865.5,551.3 866.0,552.8 866.5,553.6 867.0,555.0 867.5,555.8 868.0,556.1 868.5,556.2 869.0,555.8 869.5,556.1 870.0,557.6 870.5,558.3 871.0,557.7 871.5,558.4 872.0,559.7 872.5,559.9 873.0,559.9 873.5,559.7 874.0,560.4 874.5,562.0 875.0,562.8 875.5,562.6 876.0,562.0 876.5,561.2 877.0,561.3 877.5,562.1 878.0,562.2 878.5,562.2 879.0,562.5 879.5,563.5 880.0,562.9 880.5,561.5 881.0,561.8 881.5,561.8 882.0,561.1 882.5,561.0 883.0,560.7 883.5,559.6 884.0,559.1 884.5,559.6 885.0,560.6 885.5,561.3 886.0,561.1 886.5,560.2 887.0,558.5 887.5,558.0 888.0,559.1 888.5,559.9 889.0,560.4 889.5,560.7 890.0,559.7 890.5,558.0 891.0,557.3 891.5,558.5 892.0,558.8 892.5,558.3 893.0,558.3 893.5,557.7 894.0,558.6 894.5,560.4 895.0,560.5 895.5,560.1 896.0,560.1 896.5,559.8 897.0,560.4 897.5,561.1 898.0,560.4 898.5,559.8 899.0,559.3 899.5,557.8 900.0,556.1 900.5,556.9 901.0,559.7 901.5,559.8 902.0,557.6 902.5,556.6 903.0,555.5 903.5,554.2 904.0,552.8 904.5,549.4 905.0,544.8 905.5,541.9 906.0,540.9 906.5,539.2 907.0,536.8 907.4,535.3 907.5,535.2 908.0,536.7 908.5,539.9 909.0,544.5 909.5,548.1 910.0,549.3 910.5,550.3 911.0,552.6 911.5,554.7 912.0,555.4 912.5,556.1 913.0,556.3 913.5,556.4 914.0,558.1 914.5,559.3 915.0,558.7 915.5,559.4 916.0,559.9 916.5,559.1 917.0,558.8 917.5,558.6 918.0,558.6 918.5,558.7 919.0,559.1 919.5,559.8 920.0,560.3 920.5,559.6 921.0,559.4 921.5,561.1 922.0,560.8 922.5,559.5 923.0,559.9 923.5,560.3 924.0,559.9 924.5,559.9 925.0,560.7 925.5,561.1 926.0,561.1 926.5,561.7 927.0,562.0 927.5,562.4 928.0,562.4 928.5,561.3 929.0,560.1 929.5,560.6 930.0,560.9 930.5,560.7 931.0,561.8 931.5,563.0 932.0,562.3 932.5,561.5 933.0,561.7 933.5,562.2 934.0,561.4 934.5,559.9 935.0,559.8 935.5,561.0 936.0,560.8 936.5,559.0 937.0,559.2 937.5,560.7 938.0,560.5 938.5,559.0 939.0,559.3 939.5,560.2 940.0,559.6 940.5,559.2 941.0,558.9 941.5,558.8 942.0,559.8 942.5,560.0 943.0,559.4 943.5,560.4 944.0,561.5 944.5,561.5 945.0,561.1 945.5,560.9 946.0,560.9 946.5,560.9 947.0,561.2 947.5,560.1 948.0,558.7 948.5,558.5 949.0,558.8 949.5,558.8 950.0,558.8 950.5,559.5 951.0,560.6 951.5,560.8 952.0,560.5 952.5,560.3 953.0,559.0 953.5,557.8 954.0,558.1 954.5,558.3 955.0,556.8 955.5,556.8 956.0,558.8 956.5,559.7 957.0,557.9 957.5,555.4 958.0,555.4 958.5,555.9 959.0,554.5 959.5,552.9 960.0,552.4 960.2,551.9 960.5,553.0 961.0,555.5 961.5,555.0 962.0,552.9 962.5,553.2 963.0,554.8 963.5,555.7 964.0,556.2 964.5,556.2 965.0,556.6 965.5,557.0 966.0,556.0 966.5,555.4 967.0,556.2 967.5,557.6 968.0,558.7 968.5,559.4 969.0,560.1 969.5,560.4 970.0,560.7 970.5,562.4 971.0,563.3 971.5,562.0 972.0,561.5 972.5,561.8 973.0,561.3 973.5,560.2 974.0,559.2 974.5,558.2 975.0,558.2 975.5,559.7 976.0,560.0 976.5,558.7 977.0,558.8 977.5,559.3 978.0,558.8 978.5,558.5 979.0,558.1 979.5,557.9 980.0,558.9 980.5,560.7 981.0,562.3 981.5,561.8 982.0,560.4 982.5,560.8 983.0,562.2 983.5,562.0 984.0,560.4 984.5,558.7 985.0,557.6 985.5,557.8 986.0,558.0 986.5,558.6 987.0,558.9 987.5,557.7 988.0,557.9 988.5,559.3 989.0,560.1 989.5,559.9 990.0,558.0 990.5,557.5 991.0,558.2 991.5,558.1 992.0,557.1 992.5,557.0 993.0,557.0 993.5,555.7 994.0,555.5 994.5,557.0 995.0,557.0 995.5,555.0 996.0,552.5 996.5,551.0 997.0,550.2 997.5,549.7 998.0,550.4 998.5,551.3 999.0,550.5 999.4,549.2 999.5,548.6 1000.0,549.4 1000.5,550.2 1001.0,549.9 1001.5,550.2 1002.0,550.4 1002.5,550.4 1003.0,551.8 1003.5,553.8 1004.0,555.6 1004.5,556.5 1005.0,555.0 1005.5,554.6 1006.0,556.5 1006.5,557.4 1007.0,556.4 1007.5,556.5 1008.0,558.6 1008.5,559.6 1009.0,558.8 1009.5,558.6 1010.0,558.8 1010.5,558.7 1011.0,558.8 1011.5,559.6 1012.0,560.1 1012.5,559.5 1013.0,559.6 1013.5,560.6 1014.0,560.5 1014.5,559.9 1015.0,560.1 1015.5,560.5 1016.0,560.2 1016.5,561.2 1017.0,562.3 1017.5,561.1 1018.0,561.4 1018.5,558.7 1019.0,559.0 1019.5,558.1 1020.0,557.6 1020.5,558.0 1021.0,558.9 1021.5,559.5 1022.0,559.8 1022.5,560.4 1023.0,560.1 1023.5,560.1 1024.0,560.7 1024.5,560.8 1025.0,560.2 1025.5,558.4 1026.0,557.4 1026.5,557.9 1027.0,557.9 1027.5,558.6 1028.0,559.7 1028.5,559.1 1029.0,557.8 1029.5,557.5 1030.0,557.9 1030.5,557.8 1031.0,557.5 1031.5,558.0 1032.0,558.3 1032.5,558.6 1033.0,559.3 1033.5,560.2 1034.0,560.4 1034.5,559.6 1035.0,559.5 1035.5,560.3 1036.0,561.3 1036.5,561.1 1037.0,560.3 1037.5,560.7 1038.0,560.5 1038.5,559.3 1039.0,559.2 1039.5,559.8 1040.0,560.3 1040.5,559.7 1041.0,558.6 1041.5,558.1 1042.0,558.6 1042.5,559.7 1043.0,559.0 1043.5,556.7 1044.0,557.3 1044.5,561.7 1045.0,557.6 1045.5,555.0 1046.0,553.0 1046.5,551.6 1047.0,552.6 1047.5,552.0 1048.0,550.7 1048.5,551.1 1049.0,550.4 1049.5,550.0 1049.6,551.3 1050.0,551.7 1050.5,551.4 1051.0,551.2 1051.5,550.7 1052.0,551.6 1052.5,554.3 1053.0,555.8 1053.5,555.7 1054.0,555.4 1054.5,555.3 1055.0,555.2 1055.5,556.2 1056.0,557.4 1056.5,557.3 1057.0,557.2 1057.5,556.9 1058.0,557.2 1058.5,558.7 1059.0,558.2 1059.5,557.4 1060.0,557.8 1060.5,558.0 1061.0,558.2 1061.5,558.6 1062.0,559.5 1062.5,559.3 1063.0,559.0 1063.5,560.2 1064.0,560.1 1064.5,559.4 1065.0,560.2 1065.5,561.6 1066.0,561.9 1066.5,561.1 1067.0,561.3 1067.5,561.8 1068.0,561.9 1068.5,561.8 1069.0,562.1 1069.5,562.2 1070.0,560.8 1070.5,560.3 1071.0,561.5 1071.5,562.2 1072.0,562.6 1072.5,562.8 1073.0,562.7 1073.5,562.8 1074.0,562.1 1074.5,561.8 1075.0,562.0 1075.5,561.5 1076.0,560.6 1076.5,559.9 1077.0,559.0 1077.5,558.7 1078.0,559.5 1078.5,559.6 1079.0,559.2 1079.5,560.1 1080.0,561.6 1080.5,561.3 1081.0,559.9 1081.5,559.7 1082.0,559.9 1082.5,559.9 1083.0,560.0 1083.5,560.0 1084.0,560.0 1084.5,559.6 1085.0,559.4 1085.5,560.0 1086.0,561.0 1086.5,561.6 1087.0,561.5 1087.5,561.8 1088.0,561.6 1088.5,560.2 1089.0,560.0 1089.5,560.7 1090.0,560.2 1090.5,559.9 1091.0,560.7 1091.5,560.2 1092.0,560.1 1092.5,560.8 1093.0,559.7 1093.5,559.0 1094.0,559.1 1094.5,559.6 1095.0,559.7 1095.5,559.0 1096.0,559.1 1096.5,559.2 1097.0,559.5 1097.5,560.7 1098.0,560.7 1098.5,559.9 1099.0,559.6 1099.5,560.0 1100.0,560.4 1100.5,560.9 1101.0,560.5 1101.5,558.2 1102.0,555.4 1102.5,558.9 1103.0,559.1 1103.5,559.7 1104.0,560.5 1104.5,561.3 1105.0,562.1 1105.5,562.7 1106.0,562.9 1106.5,562.8 1107.0,562.6 1107.5,562.5 1108.0,561.7 1108.5,560.2 1109.0,559.1 1109.5,559.5 1110.0,559.6 1110.5,558.9 1111.0,559.5 1111.5,560.5 1112.0,561.3 1112.5,561.3 1113.0,560.8 1113.5,560.3 1114.0,559.8 1114.5,561.1 1115.0,561.2 1115.5,560.2 1116.0,560.7 1116.5,560.8 1117.0,559.5 1117.5,558.7 1118.0,559.4 1118.5,559.8 1119.0,558.7 1119.5,558.2 1120.0,559.5 1120.5,560.3 1121.0,560.1 1121.5,559.6 1122.0,558.8 1122.5,558.9 1123.0,559.2 1123.5,560.1 1124.0,561.1 1124.5,559.5 1125.0,557.9 1125.5,557.4 1126.0,555.4 1126.5,556.1 1127.0,555.4 1127.5,553.0 1128.0,550.3 1128.5,547.8 1129.0,545.2 1129.5,543.0 1130.0,541.4 1130.5,538.8 1131.0,536.0 1131.5,536.1 1132.0,539.2 1132.5,541.0 1133.0,541.0 1133.5,541.0 1134.0,540.2 1134.5,539.2 1135.0,537.9 1135.5,533.8 1136.0,528.8 1136.5,525.4 1137.0,524.4 1137.1,526.4 1137.5,529.3 1138.0,533.2 1138.5,536.7 1139.0,539.2 1139.5,543.5 1140.0,545.7 1140.5,550.6 1141.0,552.3 1141.5,554.6 1142.0,556.7 1142.5,557.8 1143.0,557.6 1143.5,557.3 1144.0,557.6 1144.5,557.8 1145.0,558.0 1145.5,558.8 1146.0,559.9 1146.5,560.7 1147.0,561.5 1147.5,561.6 1148.0,560.5 1148.5,559.6 1149.0,560.8 1149.5,561.1 1150.0,559.5 1150.5,558.8 1151.0,559.0 1151.5,559.3 1152.0,559.6 1152.5,559.8 1153.0,559.8 1153.5,559.3 1154.0,559.1 1154.5,558.9 1155.0,559.0 1155.5,559.9 1156.0,559.9 1156.5,559.4 1157.0,559.2 1157.5,559.6 1158.0,560.1 1158.5,558.3 1159.0,556.3 1159.5,559.1 1160.0,559.9 1160.5,559.5 1161.0,559.4 1161.5,559.5 1162.0,559.2 1162.5,558.8 1163.0,559.6 1163.5,560.1 1164.0,559.6 1164.5,560.4 1165.0,562.3 1165.5,562.2 1166.0,560.9 1166.5,559.6 1167.0,558.3 1167.5,558.9 1168.0,561.1 1168.5,561.5 1169.0,559.9 1169.5,560.7 1170.0,562.9 1170.5,562.7 1171.0,562.2 1171.5,562.1 1172.0,561.1 1172.5,560.7 1173.0,561.3 1173.5,560.8 1174.0,560.2 1174.5,560.0 1175.0,558.6 1175.5,559.5 1176.0,561.5 1176.5,560.3 1177.0,558.9 1177.5,558.1 1178.0,557.6 1178.5,557.5 1179.0,557.9 1179.5,559.3 1180.0,560.1 1180.5,560.1 1181.0,559.3 1181.5,558.6 1182.0,558.9 1182.5,559.1 1183.0,558.5 1183.5,557.1 1184.0,556.9 1184.5,557.8 1185.0,557.3 1185.5,555.9 1186.0,554.9 1186.5,555.1 1187.0,555.7 1187.5,555.5 1188.0,554.6 1188.5,554.6 1189.0,554.8 1189.5,554.8 1190.0,555.7 1190.5,556.0 1191.0,554.7 1191.5,553.3 1192.0,553.4 1192.5,554.6 1193.0,555.1 1193.5,555.6 1194.0,556.8 1194.5,557.3 1195.0,556.4 1195.5,556.6 1196.0,558.5 1196.5,559.4 1197.0,559.4 1197.5,560.3 1198.0,560.0 1198.5,560.9 1199.0,561.2 1199.5,561.2 1200.0,561.4 1200.5,561.0 1201.0,559.1 1201.5,562.8 1202.0,560.3 1202.5,559.8 1203.0,558.5 1203.5,558.4 1204.0,559.0 1204.5,558.5 1205.0,559.0 1205.5,560.0 1206.0,560.7 1206.5,560.6 1207.0,559.1 1207.5,558.5 1208.0,558.5 1208.5,558.8 1209.0,560.0 1209.5,560.4 1210.0,559.8 1210.5,559.4 1211.0,559.5 1211.5,559.7 1212.0,559.4 1212.5,559.6 1213.0,560.2 1213.5,558.9 1214.0,557.8 1214.5,559.2 1215.0,559.4 1215.5,559.8 1216.0,561.2 1216.5,559.8 1217.0,557.9 1217.5,558.4 1218.0,559.4 1218.5,560.0 1219.0,561.1 1219.5,560.9 1220.0,559.7 1220.5,559.9 1221.0,560.2 1221.5,559.5 1222.0,559.4 1222.5,560.2 1223.0,559.5 1223.5,556.7 1224.0,558.1 1224.5,558.8 1225.0,559.0 1225.5,559.8 1226.0,560.6 1226.5,559.8 1227.0,559.5 1227.5,559.7 1228.0,558.8 1228.5,559.5 1229.0,560.6 1229.5,559.7 1230.0,560.0 1230.5,561.5 1231.0,561.5 1231.5,560.9 1232.0,560.5 1232.5,560.2 1233.0,560.4 1233.5,561.6 1234.0,562.9 1234.5,562.1 1235.0,560.7 1235.5,560.7 1236.0,560.4 1236.5,559.5 1237.0,560.4 1237.5,561.5 1238.0,560.3 1238.5,560.4 1239.0,562.3 1239.5,562.2 1240.0,561.3 1240.5,561.6 1241.0,561.9 1241.5,565.3 1242.0,562.0 1242.5,561.3 1243.0,561.8 1243.5,561.5 1244.0,561.4 1244.5,562.2 1245.0,561.8 1245.5,561.2 1246.0,559.8 1246.5,558.1 1247.0,558.6 1247.5,560.1 1248.0,561.7 1248.5,562.3 1249.0,561.2 1249.5,559.8 1250.0,559.4 1250.5,560.2 1251.0,559.9 1251.5,559.3 1252.0,561.1 1252.5,562.9 1253.0,562.3 1253.5,560.5 1254.0,559.8 1254.5,559.6 1255.0,558.6 1255.5,558.3 1256.0,558.8 1256.5,559.8 1257.0,560.5 1257.5,560.0 1258.0,557.8 1258.5,556.2 1259.0,556.1 1259.5,556.1 1260.0,554.2 1260.5,552.0 1261.0,549.1 1261.5,546.4 1262.0,543.9 1262.5,542.6 1263.0,542.1 1263.4,541.5 1263.5,540.8 1264.0,540.6 1264.5,542.3 1265.0,544.6 1265.5,546.0 1266.0,549.2 1266.5,553.1 1267.0,553.9 1267.5,553.4 1268.0,555.1 1268.5,556.2 1269.0,555.5 1269.5,556.8 1270.0,558.6 1270.5,558.7 1271.0,558.7 1271.5,558.4 1272.0,558.7 1272.5,559.2 1273.0,559.3 1273.5,559.4 1274.0,560.0 1274.5,560.4 1275.0,559.7 1275.5,559.2 1276.0,559.4 1276.5,559.2 1277.0,558.0 1277.5,557.4 1278.0,558.3 1278.5,559.3 1279.0,559.1 1279.5,560.0 1280.0,561.9 1280.5,561.1 1281.0,558.9 1281.5,558.8 1282.0,559.5 1282.5,559.4 1283.0,560.1 1283.5,560.9 1284.0,560.5 1284.5,559.9 1285.0,559.3 1285.5,558.4 1286.0,559.1 1286.5,560.6 1287.0,559.6 1287.5,558.2 1288.0,559.0 1288.5,559.6 1289.0,558.6 1289.5,557.9 1290.0,557.8 1290.5,558.3 1291.0,559.3 1291.5,559.8 1292.0,560.0 1292.5,559.3 1293.0,558.2 1293.5,559.7 1294.0,560.8 1294.5,559.7 1295.0,559.2 1295.5,559.0 1296.0,559.0 1296.5,560.2 1297.0,561.1 1297.5,561.0 1298.0,560.8 1298.5,559.8 1299.0,558.6 1299.5,559.2 1300.0,559.5 1300.5,558.8 1301.0,558.3 1301.5,558.4 1302.0,558.9 1302.5,557.8 1303.0,556.9 1303.5,557.3 1304.0,557.4 1304.5,557.8 1305.0,558.0 1305.5,556.6 1306.0,556.0 1306.5,555.0 1307.0,551.9 1307.5,550.4 1308.0,549.8 1308.5,548.5 1309.0,545.7 1309.5,542.0 1310.0,540.1 1310.5,539.2 1310.6,538.5 1311.0,538.1 1311.5,539.4 1312.0,542.6 1312.5,545.0 1313.0,546.4 1313.5,548.5 1314.0,549.4 1314.5,548.9 1315.0,549.7 1315.5,552.5 1316.0,553.6 1316.5,552.5 1317.0,551.6 1317.5,551.6 1318.0,552.6 1318.5,553.5 1319.0,554.1 1319.5,554.0 1320.0,553.1 1320.5,553.8 1321.0,555.3 1321.5,555.9 1322.0,557.6 1322.5,558.7 1323.0,558.5 1323.5,559.4 1324.0,560.3 1324.5,560.3 1325.0,560.0 1325.5,560.4 1326.0,561.7 1326.5,562.6 1327.0,562.2 1327.5,560.7 1328.0,559.6 1328.5,559.7 1329.0,559.6 1329.5,559.7 1330.0,560.4 1330.5,560.9 1331.0,560.6 1331.5,559.5 1332.0,560.1 1332.5,560.2 1333.0,559.3 1333.5,559.6 1334.0,560.4 1334.5,560.0 1335.0,560.2 1335.5,561.1 1336.0,561.8 1336.5,560.4 1337.0,558.2 1337.5,559.2 1338.0,560.7 1338.5,561.4 1339.0,562.2 1339.5,563.1 1340.0,562.2 1340.5,560.2 1341.0,559.0 1341.5,559.5 1342.0,561.1 1342.5,560.8 1343.0,559.2 1343.5,558.2 1344.0,558.8 1344.5,559.5 1345.0,559.2 1345.5,558.8 1346.0,559.8 1346.5,560.9 1347.0,559.5 1347.5,558.1 1348.0,558.6 1348.5,559.2 1349.0,559.4 1349.5,558.9 1350.0,558.5 1350.5,559.2 1351.0,559.4 1351.5,559.7 1352.0,561.7 1352.5,561.5 1353.0,558.9 1353.5,559.2 1354.0,561.0 1354.5,561.9 1355.0,560.8 1355.5,558.0 1356.0,557.3 1356.5,558.6 1357.0,559.1 1357.5,559.0 1358.0,559.8 1358.5,560.8 1359.0,560.4 1359.5,559.6 1360.0,560.1 1360.5,560.5 1361.0,560.8 1361.5,561.3 1362.0,561.3 1362.5,561.1 1363.0,560.9 1363.5,561.8 1364.0,561.6 1364.5,559.9 1365.0,559.9 1365.5,559.9 1366.0,559.7 1366.5,560.7 1367.0,560.8 1367.5,559.9 1368.0,560.4 1368.5,561.0 1369.0,560.1 1369.5,560.0 1370.0,560.6 1370.5,559.8 1371.0,560.0 1371.5,561.1 1372.0,560.1 1372.5,558.4 1373.0,558.8 1373.5,559.7 1374.0,560.3 1374.5,561.1 1375.0,561.3 1375.5,561.0 1376.0,561.3 1376.5,562.2 1377.0,561.4 1377.5,560.6 1378.0,561.6 1378.5,561.7 1379.0,560.7 1379.5,559.7 1380.0,559.4 1380.5,560.3 1381.0,562.0 1381.5,562.5 1382.0,561.7 1382.5,561.4 1383.0,561.3 1383.5,560.6 1384.0,560.1 1384.5,560.7 1385.0,561.5 1385.5,561.4"/>
<polyline stroke="#f08c32" stroke-width="1.7" points="71.5,493.3 72.0,494.2 72.5,495.6 73.0,494.7 73.5,493.0 74.0,493.1 74.5,493.5 75.0,493.0 75.5,492.4 76.0,493.0 76.5,494.2 77.0,494.6 77.5,494.1 78.0,492.8 78.5,492.9 79.0,493.6 79.5,493.1 80.0,493.5 80.5,493.6 81.0,492.8 81.5,495.4 82.0,493.6 82.5,494.4 83.0,495.3 83.5,495.1 84.0,493.9 84.5,493.7 85.0,494.5 85.5,494.3 86.0,493.2 86.5,493.6 87.0,493.9 87.5,493.4 88.0,494.2 88.5,494.6 89.0,494.7 89.5,493.9 90.0,492.2 90.5,491.7 91.0,492.7 91.5,493.8 92.0,493.7 92.5,492.5 93.0,491.8 93.5,491.8 94.0,492.0 94.5,492.4 95.0,493.5 95.5,494.3 96.0,493.2 96.5,492.7 97.0,492.8 97.5,492.2 98.0,492.3 98.5,493.1 99.0,493.0 99.5,492.6 100.0,493.2 100.5,496.4 101.0,493.1 101.5,493.9 102.0,494.3 102.5,494.3 103.0,493.8 103.5,493.5 104.0,493.4 104.5,493.5 105.0,494.1 105.5,493.2 106.0,493.4 106.5,495.1 107.0,494.2 107.5,493.6 108.0,494.7 108.5,494.6 109.0,493.9 109.5,493.1 110.0,492.1 110.5,491.0 111.0,490.5 111.5,491.6 112.0,493.1 112.5,494.8 113.0,495.0 113.5,493.6 114.0,493.1 114.5,492.7 115.0,491.9 115.5,491.0 116.0,490.8 116.5,491.3 117.0,491.9 117.5,492.5 118.0,493.4 118.5,494.4 119.0,494.4 119.5,496.0 120.0,495.0 120.5,494.7 121.0,493.9 121.5,493.6 122.0,497.4 122.5,494.9 123.0,495.0 123.5,494.6 124.0,494.0 124.5,493.3 125.0,492.5 125.5,492.0 126.0,492.5 126.5,492.0 127.0,491.1 127.5,490.7 127.9,489.9 128.0,489.8 128.5,490.4 129.0,490.0 129.5,489.6 130.0,490.0 130.5,490.7 131.0,492.4 131.5,492.8 132.0,493.6 132.5,495.8 133.0,496.1 133.5,494.7 134.0,494.6 134.5,495.6 135.0,495.6 135.5,494.5 136.0,494.4 136.5,495.1 137.0,494.9 137.5,494.9 138.0,494.3 138.5,492.9 139.0,491.6 139.5,491.2 140.0,493.1 140.5,494.4 141.0,495.9 141.5,494.7 142.0,494.9 142.5,493.9 143.0,493.4 143.5,493.1 144.0,492.6 144.5,492.8 145.0,493.6 145.5,494.4 146.0,494.2 146.5,493.7 147.0,493.7 147.5,493.2 148.0,493.3 148.5,493.8 149.0,493.6 149.5,493.4 150.0,493.2 150.5,492.4 151.0,491.9 151.5,492.5 152.0,492.9 152.5,493.0 153.0,493.3 153.5,491.1 154.0,488.6 154.5,490.1 155.0,492.1 155.5,491.2 156.0,489.6 156.5,489.5 157.0,490.4 157.5,490.1 158.0,488.6 158.5,487.8 159.0,487.8 159.2,486.9 159.5,485.9 160.0,487.2 160.5,488.5 161.0,489.5 161.5,490.9 162.0,490.2 162.5,490.0 163.0,492.8 163.5,494.2 164.0,493.2 164.5,493.0 165.0,492.9 165.5,492.7 166.0,493.3 166.5,493.6 167.0,493.0 167.5,492.6 168.0,493.4 168.5,495.2 169.0,495.9 169.5,495.1 170.0,494.1 170.5,494.0 171.0,495.5 171.5,495.6 172.0,494.4 172.5,493.9 173.0,492.9 173.5,494.3 174.0,493.5 174.5,492.1 175.0,491.7 175.5,493.2 176.0,493.9 176.5,493.7 177.0,493.7 177.5,493.7 178.0,494.3 178.5,494.0 179.0,493.5 179.5,493.7 180.0,494.2 180.5,495.6 181.0,495.9 181.5,494.5 182.0,492.9 182.5,492.2 183.0,492.6 183.5,493.5 184.0,493.9 184.5,494.0 185.0,494.4 185.5,494.1 186.0,492.8 186.5,493.2 187.0,495.0 187.5,495.0 188.0,494.5 188.5,494.5 189.0,493.7 189.5,492.4 190.0,492.3 190.5,493.4 191.0,494.1 191.5,494.4 192.0,494.1 192.5,493.3 193.0,493.4 193.5,493.7 194.0,492.9 194.5,492.4 195.0,493.0 195.5,493.8 196.0,494.7 196.5,494.8 197.0,494.2 197.5,493.7 198.0,493.1 198.5,493.1 199.0,493.8 199.5,494.3 200.0,493.5 200.5,492.4 201.0,492.6 201.5,492.5 202.0,491.8 202.5,491.3 203.0,492.3 203.5,494.0 204.0,493.7 204.5,492.3 205.0,490.8 205.5,490.2 206.0,491.0 206.5,491.7 207.0,491.6 207.5,491.1 208.0,492.1 208.5,492.6 209.0,491.8 209.5,491.6 210.0,491.5 210.5,491.8 211.0,493.0 211.5,493.1 212.0,491.9 212.5,491.8 213.0,495.3 213.5,490.5 214.0,490.0 214.5,489.6 215.0,489.7 215.5,490.8 216.0,491.9 216.5,492.7 217.0,492.1 217.5,494.6 218.0,488.6 218.5,487.5 219.0,486.1 219.5,485.3 220.0,485.9 220.5,489.5 221.0,482.7 221.5,482.7 222.0,483.2 222.5,482.3 223.0,480.1 223.5,478.3 224.0,475.8 224.5,472.7 225.0,469.9 225.5,465.2 226.0,459.0 226.5,451.9 227.0,441.9 227.5,430.0 228.0,416.1 228.5,401.4 229.0,389.1 229.5,381.0 229.8,378.8 230.0,380.1 230.5,387.8 231.0,399.0 231.5,413.0 232.0,427.0 232.5,438.7 233.0,448.5 233.5,456.6 234.0,463.2 234.5,467.6 235.0,471.1 235.5,474.7 236.0,476.4 236.5,476.8 237.0,477.4 237.5,478.4 238.0,479.6 238.5,480.7 239.0,482.6 239.5,479.4 240.0,479.6 240.5,480.5 241.0,479.7 241.5,479.0 242.0,478.3 242.5,476.1 243.0,473.2 243.5,470.7 244.0,467.9 244.5,462.3 245.0,454.2 245.5,444.4 246.0,431.6 246.5,415.0 247.0,391.6 247.5,368.6 248.0,322.8 248.5,285.6 249.0,260.6 249.3,255.9 249.5,258.1 250.0,280.9 250.5,316.3 251.0,352.8 251.5,384.3 252.0,410.3 252.5,430.8 253.0,443.9 253.5,453.2 254.0,459.8 254.5,463.6 255.0,468.7 255.5,472.9 256.0,475.2 256.5,477.1 257.0,478.1 257.5,480.5 258.0,481.9 258.5,480.9 259.0,481.4 259.5,483.5 260.0,484.3 260.5,484.5 261.0,485.3 261.5,485.1 262.0,484.4 262.5,484.4 263.0,483.8 263.5,482.7 264.0,483.9 264.5,486.5 265.0,488.2 265.5,488.3 266.0,487.0 266.5,487.0 267.0,488.0 267.5,488.1 268.0,488.2 268.5,487.7 269.0,485.8 269.5,484.0 270.0,484.8 270.5,486.2 271.0,485.4 271.5,482.8 272.0,479.5 272.5,476.4 273.0,474.3 273.5,473.3 274.0,473.2 274.5,474.8 275.0,477.0 275.5,478.5 276.0,480.5 276.5,482.8 277.0,485.4 277.5,486.9 278.0,487.9 278.5,489.7 279.0,491.0 279.5,490.5 280.0,489.4 280.5,489.6 281.0,490.3 281.5,490.4 282.0,490.7 282.5,491.7 283.0,492.0 283.5,501.0 284.0,492.8 284.5,492.8 285.0,491.7 285.5,493.0 286.0,493.7 286.5,492.2 287.0,491.2 287.5,490.8 288.0,491.1 288.5,491.4 289.0,491.1 289.5,490.2 290.0,489.9 290.5,490.1 291.0,490.0 291.5,490.1 292.0,490.1 292.5,490.5 293.0,490.6 293.5,490.3 294.0,489.2 294.5,489.7 295.0,489.8 295.5,488.9 296.0,488.7 296.5,489.0 297.0,489.8 297.5,490.1 298.0,487.7 298.5,490.9 299.0,491.1 299.5,491.9 300.0,492.1 300.5,491.6 301.0,493.2 301.5,494.3 302.0,493.2 302.5,492.9 303.0,493.0 303.5,493.0 304.0,492.9 304.5,493.2 305.0,494.4 305.5,494.8 306.0,494.9 306.5,495.8 307.0,496.0 307.5,494.9 308.0,494.7 308.5,496.1 309.0,495.2 309.5,492.4 310.0,492.1 310.5,493.6 311.0,495.1 311.5,495.3 312.0,494.3 312.5,494.2 313.0,493.9 313.5,493.2 314.0,493.5 314.5,493.8 315.0,493.8 315.5,493.5 316.0,492.7 316.5,492.9 317.0,494.0 317.5,494.5 318.0,494.9 318.5,495.3 319.0,494.3 319.5,493.3 320.0,493.7 320.5,494.1 321.0,494.6 321.5,495.2 322.0,493.3 322.5,494.8 323.0,494.0 323.5,493.3 324.0,493.1 324.5,492.4 325.0,491.5 325.5,490.9 326.0,490.9 326.5,489.4 327.0,487.0 327.5,493.9 328.0,494.5 328.5,493.4 329.0,492.6 329.5,492.9 330.0,492.6 330.5,492.0 331.0,492.1 331.5,492.1 332.0,492.5 332.5,493.1 333.0,492.3 333.5,492.1 334.0,492.6 334.5,492.0 335.0,491.4 335.5,492.4 336.0,494.1 336.5,494.9 337.0,494.8 337.5,494.2 338.0,494.5 338.5,495.0 339.0,494.3 339.5,493.9 340.0,493.8 340.5,494.1 341.0,495.2 341.5,494.7 342.0,493.6 342.5,494.6 343.0,495.1 343.5,495.6 344.0,496.1 344.5,495.5 345.0,495.7 345.5,496.3 346.0,495.6 346.5,495.1 347.0,495.3 347.5,494.6 348.0,494.0 348.5,494.8 349.0,493.5 349.5,491.0 350.0,491.8 350.5,494.2 351.0,494.3 351.5,492.0 352.0,490.3 352.5,491.4 353.0,493.1 353.5,493.2 354.0,492.6 354.5,493.1 355.0,494.3 355.5,494.8 356.0,495.3 356.5,496.5 357.0,497.3 357.5,496.9 358.0,495.7 358.5,495.5 359.0,501.3 359.5,498.1 360.0,496.4 360.5,495.0 361.0,495.8 361.5,498.0 362.0,499.4 362.5,499.0 363.0,498.5 363.5,498.7 364.0,498.0 364.5,496.1 365.0,495.1 365.5,495.2 366.0,495.6 366.5,496.1 367.0,495.9 367.5,495.5 368.0,495.6 368.5,496.6 369.0,497.6 369.5,498.1 370.0,499.3 370.5,498.7 371.0,497.0 371.5,497.5 372.0,497.3 372.5,496.4 373.0,497.1 373.5,497.6 374.0,497.2 374.5,496.6 375.0,496.9 375.5,497.3 376.0,496.7 376.5,496.1 377.0,495.8 377.5,495.8 378.0,495.3 378.5,495.1 379.0,496.8 379.5,497.6 380.0,497.6 380.5,497.4 381.0,497.5 381.5,499.7 382.0,497.8 382.5,497.8 383.0,498.9 383.5,499.2 384.0,497.9 384.5,496.9 385.0,496.5 385.5,495.7 386.0,496.2 386.5,497.7 387.0,498.3 387.5,497.4 388.0,496.2 388.5,495.8 389.0,495.4 389.5,496.3 390.0,496.6 390.5,496.0 391.0,495.6 391.5,495.6 392.0,496.5 392.5,496.8 393.0,496.2 393.5,496.6 394.0,497.8 394.5,498.8 395.0,498.8 395.5,499.9 396.0,495.9 396.5,495.9 397.0,497.8 397.5,498.8 398.0,498.6 398.5,498.3 399.0,497.1 399.5,497.2 400.0,497.7 400.5,497.0 401.0,497.2 401.5,497.5 402.0,497.8 402.5,497.9 403.0,496.6 403.5,495.2 404.0,494.5 404.5,495.0 405.0,496.1 405.5,491.3 406.0,497.3 406.5,497.5 407.0,496.4 407.5,495.9 408.0,497.3 408.5,497.7 409.0,496.5 409.5,497.1 410.0,498.9 410.5,499.1 411.0,498.4 411.5,497.6 412.0,496.5 412.5,495.9 413.0,496.1 413.5,495.7 414.0,495.4 414.5,495.7 415.0,496.4 415.5,496.6 416.0,497.1 416.5,498.0 417.0,496.9 417.5,496.7 418.0,497.5 418.5,496.9 419.0,496.8 419.5,496.2 420.0,495.0 420.5,495.6 421.0,496.5 421.5,497.2 422.0,498.1 422.5,498.8 423.0,499.5 423.5,499.6 424.0,498.7 424.5,498.1 425.0,497.7 425.5,496.9 426.0,497.5 426.5,498.9 427.0,498.2 427.5,496.4 428.0,496.9 428.5,498.4 429.0,497.0 429.5,498.0 430.0,495.9 430.5,495.4 431.0,496.0 431.5,496.0 432.0,496.4 432.5,496.8 433.0,496.8 433.5,496.7 434.0,497.2 434.5,497.4 435.0,496.4 435.5,496.1 436.0,502.8 436.5,497.6 437.0,497.2 437.5,496.3 438.0,495.6 438.5,496.2 439.0,495.8 439.5,495.8 440.0,497.0 440.5,496.9 441.0,497.0 441.5,498.1 442.0,497.6 442.5,495.6 443.0,495.8 443.5,497.1 444.0,495.7 444.5,494.5 445.0,496.5 445.5,498.3 446.0,498.6 446.5,498.1 447.0,497.5 447.5,497.5 448.0,497.2 448.5,498.9 449.0,497.0 449.5,496.4 450.0,495.8 450.5,496.4 451.0,496.7 451.5,494.7 452.0,492.6 452.5,493.2 453.0,496.2 453.5,493.5 454.0,493.6 454.5,493.7 455.0,494.9 455.5,495.1 456.0,494.8 456.5,495.6 457.0,495.3 457.5,493.7 458.0,492.6 458.5,493.3 459.0,494.0 459.5,492.4 460.0,490.6 460.5,491.1 461.0,491.3 461.5,489.2 462.0,486.2 462.5,483.6 463.0,482.1 463.5,481.0 464.0,479.5 464.5,476.4 465.0,470.9 465.5,464.7 466.0,458.1 466.5,450.2 467.0,440.1 467.5,426.9 468.0,413.1 468.5,399.2 469.0,387.9 469.5,384.2 470.0,387.9 470.5,397.6 471.0,411.8 471.5,427.5 472.0,440.6 472.5,450.7 473.0,460.2 473.5,467.6 474.0,472.6 474.5,477.3 475.0,481.1 475.5,484.1 476.0,486.2 476.5,488.0 477.0,490.7 477.5,491.5 478.0,490.0 478.5,489.8 479.0,491.2 479.5,492.6 480.0,495.2 480.5,494.9 481.0,495.2 481.5,494.5 482.0,493.9 482.5,493.4 483.0,493.8 483.5,494.9 484.0,494.5 484.5,494.0 485.0,494.4 485.5,495.3 486.0,495.8 486.5,495.2 487.0,495.0 487.5,495.6 488.0,495.6 488.5,495.9 489.0,496.6 489.5,495.8 490.0,495.3 490.5,497.2 491.0,498.5 491.5,499.3 492.0,498.7 492.5,496.0 493.0,495.1 493.5,496.1 494.0,496.2 494.5,495.2 495.0,495.1 495.5,495.3 496.0,494.4 496.5,494.6 497.0,494.8 497.5,494.0 498.0,493.2 498.5,491.3 499.0,488.9 499.5,487.7 500.0,486.2 500.5,483.9 501.0,481.3 501.5,478.4 502.0,475.1 502.5,471.8 503.0,469.3 503.4,468.6 503.5,468.3 504.0,469.9 504.5,472.5 505.0,474.7 505.5,477.8 506.0,480.9 506.5,484.7 507.0,488.6 507.5,491.1 508.0,492.7 508.5,492.8 509.0,493.0 509.5,493.8 510.0,494.5 510.5,494.8 511.0,495.1 511.5,496.2 512.0,497.1 512.5,497.0 513.0,496.6 513.5,496.3 514.0,495.6 514.5,495.1 515.0,495.6 515.5,495.9 516.0,495.7 516.5,496.5 517.0,496.3 517.5,495.4 518.0,495.8 518.5,496.6 519.0,496.7 519.5,497.0 520.0,498.4 520.5,497.9 521.0,496.0 521.5,494.1 522.0,495.0 522.5,494.1 523.0,490.8 523.5,496.4 524.0,495.9 524.5,496.0 525.0,497.1 525.5,496.9 526.0,496.9 526.5,497.7 527.0,497.0 527.5,495.3 528.0,494.9 528.5,495.7 529.0,497.0 529.5,498.0 530.0,498.2 530.5,497.2 531.0,496.8 531.5,497.8 532.0,497.6 532.5,496.2 533.0,496.2 533.5,497.5 534.0,498.4 534.5,498.1 535.0,497.9 535.5,498.2 536.0,497.1 536.5,497.7 537.0,499.5 537.5,498.9 538.0,497.6 538.5,498.2 539.0,499.0 539.5,497.9 540.0,497.1 540.5,496.8 541.0,495.5 541.5,494.7 542.0,494.3 542.5,494.1 543.0,494.5 543.5,494.3 544.0,493.5 544.5,494.4 545.0,495.3 545.5,494.8 546.0,494.6 546.5,494.2 547.0,493.3 547.5,493.2 548.0,493.9 548.5,495.0 549.0,496.1 549.5,495.3 550.0,492.9 550.5,491.3 551.0,489.6 551.5,488.9 552.0,489.9 552.5,488.3 553.0,484.8 553.5,484.0 554.0,482.8 554.5,478.2 555.0,472.2 555.5,465.3 556.0,457.0 556.5,448.5 557.0,441.6 557.5,436.8 558.0,435.3 558.5,438.9 559.0,445.7 559.5,453.2 560.0,460.6 560.5,466.7 561.0,473.1 561.5,480.1 562.0,484.5 562.5,486.6 563.0,487.0 563.5,488.1 564.0,489.8 564.5,489.8 565.0,490.6 565.5,492.0 566.0,493.2 566.5,494.5 567.0,493.9 567.5,493.0 568.0,493.4 568.5,493.5 569.0,494.2 569.5,494.1 570.0,493.3 570.5,493.2 571.0,493.3 571.5,494.5 572.0,495.8 572.5,495.7 573.0,495.4 573.5,495.7 574.0,496.2 574.5,496.6 575.0,495.3 575.5,493.6 576.0,493.1 576.5,492.9 577.0,493.1 577.5,493.8 578.0,494.6 578.5,494.9 579.0,494.6 579.5,494.2 580.0,493.6 580.5,492.4 581.0,491.4 581.5,492.0 582.0,494.0 582.5,494.9 583.0,493.2 583.5,492.4 584.0,492.0 584.5,491.6 585.0,492.6 585.5,492.7 586.0,491.1 586.5,490.8 587.0,491.9 587.5,492.7 588.0,493.6 588.5,494.1 589.0,494.1 589.5,494.5 590.0,495.4 590.5,495.9 591.0,495.6 591.5,494.3 592.0,492.6 592.5,492.2 593.0,493.3 593.5,494.2 594.0,495.2 594.5,496.4 595.0,495.8 595.5,494.9 596.0,494.1 596.5,493.7 597.0,494.7 597.5,495.4 598.0,496.2 598.5,493.4 599.0,493.4 599.5,494.3 600.0,494.2 600.5,493.4 601.0,494.3 601.5,494.9 602.0,493.4 602.5,493.0 603.0,493.9 603.5,493.9 604.0,493.7 604.5,493.4 605.0,492.5 605.5,490.1 606.0,488.5 606.5,488.8 607.0,488.8 607.5,488.1 608.0,487.9 608.5,487.8 609.0,486.9 609.5,486.5 610.0,486.3 610.5,485.3 611.0,484.9 611.5,484.6 612.0,485.1 612.5,486.4 613.0,485.8 613.5,485.6 614.0,487.4 614.5,489.3 615.0,490.2 615.5,490.6 616.0,490.3 616.5,490.7 617.0,493.5 617.5,495.1 618.0,493.5 618.5,493.1 619.0,494.8 619.5,493.8 620.0,491.8 620.5,492.9 621.0,494.0 621.5,495.5 622.0,498.1 622.5,498.2 623.0,496.9 623.5,497.2 624.0,497.3 624.5,496.2 625.0,491.2 625.5,495.8 626.0,495.9 626.5,495.3 627.0,494.8 627.5,495.5 628.0,496.3 628.5,496.2 629.0,495.0 629.5,494.2 630.0,494.5 630.5,495.0 631.0,494.5 631.5,494.8 632.0,495.9 632.5,495.6 633.0,494.9 633.5,494.6 634.0,494.6 634.5,494.3 635.0,492.6 635.5,491.9 636.0,492.7 636.5,493.0 637.0,493.5 637.5,494.3 638.0,494.9 638.5,493.6 639.0,491.8 639.5,490.4 640.0,488.7 640.5,488.3 641.0,488.0 641.5,486.5 642.0,484.0 642.5,483.4 643.0,484.8 643.5,484.6 644.0,483.4 644.5,482.9 644.8,482.4 645.0,482.8 645.5,483.7 646.0,484.3 646.5,484.8 647.0,484.3 647.5,484.1 648.0,485.9 648.5,487.4 649.0,487.9 649.5,488.9 650.0,490.4 650.5,492.1 651.0,493.2 651.5,492.9 652.0,492.1 652.5,492.8 653.0,493.8 653.5,493.2 654.0,492.3 654.5,492.5 655.0,493.5 655.5,494.2 656.0,494.3 656.5,494.9 657.0,495.7 657.5,494.5 658.0,493.3 658.5,494.3 659.0,496.3 659.5,495.9 660.0,494.8 660.5,494.2 661.0,494.6 661.5,494.0 662.0,493.9 662.5,496.0 663.0,497.0 663.5,495.4 664.0,494.7 664.5,495.0 665.0,495.5 665.5,495.9 666.0,495.9 666.5,495.6 667.0,494.4 667.5,493.4 668.0,493.3 668.5,494.2 669.0,496.0 669.5,496.8 670.0,496.3 670.5,494.9 671.0,494.3 671.5,495.1 672.0,495.7 672.5,497.4 673.0,498.6 673.5,497.4 674.0,496.9 674.5,496.4 675.0,494.8 675.5,494.2 676.0,495.0 676.5,496.2 677.0,496.8 677.5,496.8 678.0,496.7 678.5,495.4 679.0,494.7 679.5,495.6 680.0,495.7 680.5,495.7 681.0,496.4 681.5,495.8 682.0,495.5 682.5,495.7 683.0,495.5 683.5,496.2 684.0,496.5 684.5,496.1 685.0,495.4 685.5,494.4 686.0,494.3 686.5,495.4 687.0,496.4 687.5,496.0 688.0,495.6 688.5,496.0 689.0,495.4 689.5,493.8 690.0,494.3 690.5,495.2 691.0,494.2 691.5,494.0 692.0,494.6 692.5,494.9 693.0,494.9 693.5,494.3 694.0,495.0 694.5,496.2 695.0,494.4 695.5,491.4 696.0,490.3 696.5,490.5 697.0,490.4 697.5,490.0 698.0,491.2 698.5,492.4 699.0,491.2 699.5,488.6 700.0,487.3 700.5,486.6 701.0,486.6 701.5,487.0 702.0,485.5 702.5,484.6 702.7,485.8 703.0,487.1 703.5,488.4 704.0,488.7 704.5,487.0 705.0,486.4 705.5,488.7 706.0,491.2 706.5,491.2 707.0,489.5 707.5,490.1 708.0,493.1 708.5,494.7 709.0,494.3 709.5,494.0 710.0,494.2 710.5,493.3 711.0,492.9 711.5,494.1 712.0,495.4 712.5,496.4 713.0,495.9 713.5,494.6 714.0,495.2 714.5,495.5 715.0,494.5 715.5,494.7 716.0,495.7 716.5,495.7 717.0,497.3 717.5,494.5 718.0,495.0 718.5,495.9 719.0,496.0 719.5,496.2 720.0,496.9 720.5,496.4 721.0,496.2 721.5,497.7 722.0,498.3 722.5,497.1 723.0,496.4 723.5,496.9 724.0,495.8 724.5,494.7 725.0,496.6 725.5,498.2 726.0,497.7 726.5,498.1 727.0,498.9 727.5,498.1 728.0,497.4 728.5,497.7 729.0,497.8 729.5,497.5 730.0,497.7 730.5,497.7 731.0,497.3 731.5,497.6 732.0,497.3 732.5,496.3 733.0,496.0 733.5,496.0 734.0,495.8 734.5,495.2 735.0,495.0 735.5,496.0 736.0,497.1 736.5,496.8 737.0,496.2 737.5,496.8 738.0,496.7 738.5,495.9 739.0,496.0 739.5,495.6 740.0,495.1 740.5,495.1 741.0,493.9 741.5,492.8 742.0,493.4 742.5,493.6 743.0,494.2 743.5,494.8 744.0,494.2 744.5,493.7 745.0,494.1 745.5,493.9 746.0,492.8 746.5,492.5 747.0,493.7 747.5,493.9 748.0,492.8 748.5,491.5 749.0,489.9 749.5,488.6 750.0,486.8 750.5,484.2 751.0,482.0 751.5,478.2 752.0,473.5 752.5,470.5 753.0,467.5 753.5,463.6 754.0,459.8 754.5,457.0 754.6,456.8 755.0,457.3 755.5,458.8 756.0,462.2 756.5,465.7 757.0,467.4 757.5,469.6 758.0,471.7 758.5,470.4 759.0,468.3 759.5,467.3 760.0,465.7 760.5,463.3 761.0,461.9 761.2,463.0 761.5,465.4 762.0,468.6 762.5,471.0 763.0,473.7 763.5,477.9 764.0,481.8 764.5,484.4 765.0,487.4 765.5,490.3 766.0,491.6 766.5,491.6 767.0,491.6 767.5,491.4 768.0,491.4 768.5,489.4 769.0,492.3 769.5,492.5 770.0,492.1 770.5,490.8 771.0,490.5 771.5,490.1 772.0,488.7 772.5,486.2 773.0,484.3 773.5,483.3 774.0,480.8 774.5,477.2 775.0,474.9 775.5,474.2 776.0,473.4 776.5,473.3 777.0,474.9 777.5,478.0 778.0,481.2 778.5,483.5 779.0,485.5 779.5,488.0 780.0,491.3 780.5,492.8 781.0,492.0 781.5,491.9 782.0,492.3 782.5,492.4 783.0,493.4 783.5,494.4 784.0,495.1 784.5,496.6 785.0,497.0 785.5,495.8 786.0,495.3 786.5,496.3 787.0,496.2 787.5,494.6 788.0,494.3 788.5,494.4 789.0,493.7 789.5,494.7 790.0,496.0 790.5,495.6 791.0,495.5 791.5,495.8 792.0,496.4 792.5,497.0 793.0,496.4 793.5,495.6 794.0,495.8 794.5,496.4 795.0,497.2 795.5,497.4 796.0,496.7 796.5,496.2 797.0,492.0 797.5,495.9 798.0,495.3 798.5,494.8 799.0,494.4 799.5,494.9 800.0,495.5 800.5,495.5 801.0,496.6 801.5,496.3 802.0,494.1 802.5,493.8 803.0,494.9 803.5,495.4 804.0,496.4 804.5,497.4 805.0,497.0 805.5,496.4 806.0,496.9 806.5,497.6 807.0,497.6 807.5,498.7 808.0,498.7 808.5,497.0 809.0,497.0 809.5,497.3 810.0,496.2 810.5,496.4 811.0,496.6 811.5,495.8 812.0,496.2 812.5,496.4 813.0,496.7 813.5,497.6 814.0,498.0 814.5,498.6 815.0,497.6 815.5,496.0 816.0,495.6 816.5,495.6 817.0,496.3 817.5,496.0 818.0,494.7 818.5,494.9 819.0,495.9 819.5,495.6 820.0,495.6 820.5,497.1 821.0,497.1 821.5,496.2 822.0,496.1 822.5,495.2 823.0,495.1 823.5,495.5 824.0,495.7 824.5,495.9 825.0,495.5 825.5,496.7 826.0,498.1 826.5,498.3 827.0,498.3 827.5,497.1 828.0,496.1 828.5,497.4 829.0,497.8 829.5,496.7 830.0,495.6 830.5,494.7 831.0,494.6 831.5,495.3 832.0,495.8 832.5,495.7 833.0,495.0 833.5,494.0 834.0,494.3 834.5,495.3 835.0,495.8 835.5,495.6 836.0,495.4 836.5,495.5 837.0,495.2 837.5,495.5 838.0,496.1 838.5,495.3 839.0,494.8 839.5,496.0 840.0,496.8 840.5,496.2 841.0,495.7 841.5,496.6 842.0,496.9 842.5,496.7 843.0,496.9 843.5,497.2 844.0,497.8 844.5,498.0 845.0,497.1 845.5,496.5 846.0,496.5 846.5,496.5 847.0,496.6 847.5,496.3 848.0,495.5 848.5,494.9 849.0,495.0 849.5,494.2 850.0,492.5 850.5,491.9 851.0,491.3 851.5,489.9 852.0,489.7 852.5,490.7 853.0,491.4 853.5,490.8 854.0,489.3 854.5,488.2 855.0,488.8 855.5,490.0 856.0,489.6 856.5,490.2 857.0,492.4 857.5,492.1 858.0,491.4 858.5,492.5 859.0,491.9 859.5,490.5 860.0,491.7 860.5,491.9 861.0,490.8 861.5,490.0 862.0,490.5 862.5,489.7 863.0,490.1 863.5,491.7 864.0,491.6 864.5,490.9 865.0,491.1 865.5,492.7 866.0,493.5 866.5,493.1 867.0,493.2 867.5,493.3 868.0,492.7 868.5,492.6 869.0,494.5 869.5,496.0 870.0,496.1 870.5,496.5 871.0,496.9 871.5,497.1 872.0,496.5 872.5,495.6 873.0,495.5 873.5,496.0 874.0,495.9 874.5,495.3 875.0,494.9 875.5,494.2 876.0,494.5 876.5,496.0 877.0,496.9 877.5,497.0 878.0,496.8 878.5,497.4 879.0,497.8 879.5,496.9 880.0,497.3 880.5,499.1 881.0,499.4 881.5,498.1 882.0,496.5 882.5,495.7 883.0,496.1 883.5,496.6 884.0,496.7 884.5,496.9 885.0,496.5 885.5,495.3 886.0,494.7 886.5,495.1 887.0,496.4 887.5,496.3 888.0,495.3 888.5,495.7 889.0,496.4 889.5,497.4 890.0,498.3 890.5,496.9 891.0,495.4 891.5,495.7 892.0,496.4 892.5,496.2 893.0,495.7 893.5,495.3 894.0,494.9 894.5,495.5 895.0,496.2 895.5,496.9 896.0,495.5 896.5,494.2 897.0,494.1 897.5,494.6 898.0,494.5 898.5,494.3 899.0,495.1 899.5,496.2 900.0,495.0 900.5,493.2 901.0,494.7 901.5,496.2 902.0,494.9 902.5,492.7 903.0,492.1 903.5,492.0 904.0,490.5 904.5,488.4 905.0,487.4 905.5,486.1 906.0,483.8 906.5,482.5 907.0,481.6 907.5,481.0 907.9,480.6 908.0,480.1 908.5,480.9 909.0,483.0 909.5,484.7 910.0,485.1 910.5,485.5 911.0,486.8 911.5,487.4 912.0,487.3 912.3,488.0 912.5,488.3 913.0,487.9 913.5,488.0 914.0,489.5 914.5,492.1 915.0,493.7 915.5,494.7 916.0,495.7 916.5,495.5 917.0,495.3 917.5,496.0 918.0,496.3 918.5,496.1 919.0,496.2 919.5,495.1 920.0,493.6 920.5,493.9 921.0,495.3 921.5,496.1 922.0,495.4 922.5,495.9 923.0,497.1 923.5,496.2 924.0,495.0 924.5,494.4 925.0,494.7 925.5,496.5 926.0,497.6 926.5,496.5 927.0,496.0 927.5,496.7 928.0,496.9 928.5,496.8 929.0,496.9 929.5,496.5 930.0,496.4 930.5,496.0 931.0,494.5 931.5,494.1 932.0,494.6 932.5,495.3 933.0,495.7 933.5,495.0 934.0,495.9 934.5,496.9 935.0,496.6 935.5,496.2 936.0,495.3 936.5,495.5 937.0,496.5 937.5,495.4 938.0,493.7 938.5,493.1 939.0,493.7 939.5,495.4 940.0,496.4 940.5,495.9 941.0,495.6 941.5,495.9 942.0,497.0 942.5,497.6 943.0,498.1 943.5,497.6 944.0,496.3 944.5,495.7 945.0,495.4 945.5,496.1 946.0,496.9 946.5,496.6 947.0,495.9 947.5,494.7 948.0,494.1 948.5,494.2 949.0,493.9 949.5,493.6 950.0,493.3 950.5,493.6 951.0,493.6 951.5,492.9 952.0,493.4 952.5,494.4 953.0,494.4 953.5,494.1 954.0,493.7 954.5,493.1 955.0,492.3 955.5,492.9 956.0,494.3 956.5,494.1 957.0,493.2 957.5,490.8 958.0,491.3 958.5,491.0 959.0,490.0 959.5,489.9 960.0,490.1 960.5,489.2 961.0,488.6 961.5,488.9 962.0,489.6 962.5,489.4 963.0,488.0 963.5,488.4 964.0,489.6 964.5,489.5 965.0,489.3 965.5,489.6 966.0,490.6 966.5,492.2 967.0,493.0 967.5,493.2 968.0,493.4 968.5,492.2 969.0,491.5 969.5,491.8 970.0,491.5 970.5,492.2 971.0,492.7 971.5,492.4 972.0,492.8 972.5,493.4 973.0,493.8 973.5,494.3 974.0,494.6 974.5,494.8 975.0,495.1 975.5,495.3 976.0,495.4 976.5,495.3 977.0,495.6 977.5,496.5 978.0,495.6 978.5,493.6 979.0,494.5 979.5,496.4 980.0,497.1 980.5,497.7 981.0,496.9 981.5,495.5 982.0,494.6 982.5,494.4 983.0,494.9 983.5,495.2 984.0,494.6 984.5,493.7 985.0,493.0 985.5,493.0 986.0,493.4 986.5,493.5 987.0,493.1 987.5,493.0 988.0,492.8 988.5,491.9 989.0,492.2 989.5,493.6 990.0,494.3 990.5,493.6 991.0,493.4 991.5,494.0 992.0,494.3 992.5,494.2 993.0,492.9 993.5,491.6 994.0,492.1 994.5,493.4 995.0,493.0 995.5,491.7 996.0,490.4 996.5,489.4 997.0,490.2 997.5,489.5 998.0,488.4 998.5,488.1 999.0,487.8 999.4,487.1 999.5,486.4 1000.0,486.7 1000.5,487.6 1001.0,487.2 1001.5,487.4 1002.0,489.0 1002.5,490.0 1003.0,489.8 1003.5,488.8 1004.0,488.7 1004.5,488.9 1005.0,489.2 1005.5,490.2 1006.0,490.4 1006.5,491.5 1007.0,493.4 1007.5,493.7 1008.0,493.5 1008.5,494.5 1009.0,494.3 1009.5,492.9 1010.0,493.5 1010.5,495.0 1011.0,495.1 1011.5,494.6 1012.0,495.5 1012.5,496.5 1013.0,496.0 1013.5,495.1 1014.0,494.5 1014.5,495.2 1015.0,495.7 1015.5,494.7 1016.0,495.0 1016.5,496.2 1017.0,496.2 1017.5,495.5 1018.0,495.5 1018.5,495.7 1019.0,494.6 1019.5,494.3 1020.0,495.4 1020.5,496.2 1021.0,497.2 1021.5,498.7 1022.0,499.6 1022.5,499.6 1023.0,497.9 1023.5,495.9 1024.0,494.5 1024.5,494.8 1025.0,495.5 1025.5,495.5 1026.0,494.6 1026.5,494.0 1027.0,494.7 1027.5,495.7 1028.0,495.5 1028.5,494.1 1029.0,493.7 1029.5,494.5 1030.0,495.1 1030.5,495.6 1031.0,496.6 1031.5,497.6 1032.0,497.4 1032.5,496.3 1033.0,496.6 1033.5,497.6 1034.0,497.4 1034.5,497.0 1035.0,496.8 1035.5,496.9 1036.0,496.9 1036.5,496.2 1037.0,496.0 1037.5,495.5 1038.0,494.3 1038.5,493.5 1039.0,493.7 1039.5,494.7 1040.0,494.3 1040.5,493.0 1041.0,492.2 1041.5,491.5 1042.0,492.7 1042.5,493.6 1043.0,492.2 1043.5,491.6 1044.0,491.5 1044.5,491.1 1045.0,490.7 1045.5,490.1 1046.0,489.2 1046.5,489.7 1047.0,490.4 1047.5,491.2 1048.0,491.5 1048.5,489.7 1049.0,488.2 1049.5,488.2 1050.0,488.9 1050.5,488.4 1051.0,487.7 1051.5,488.3 1052.0,488.9 1052.3,489.2 1052.5,488.9 1053.0,487.8 1053.5,486.6 1054.0,486.1 1054.5,487.9 1055.0,489.9 1055.5,489.7 1056.0,489.6 1056.5,491.0 1057.0,493.2 1057.5,494.0 1058.0,492.6 1058.5,491.7 1059.0,492.0 1059.5,493.1 1060.0,494.5 1060.5,494.1 1061.0,494.0 1061.5,496.2 1062.0,497.5 1062.5,496.4 1063.0,494.7 1063.5,495.0 1064.0,496.0 1064.5,495.3 1065.0,494.3 1065.5,495.1 1066.0,496.3 1066.5,495.6 1067.0,494.6 1067.5,494.2 1068.0,493.7 1068.5,494.2 1069.0,495.1 1069.5,495.4 1070.0,495.3 1070.5,494.6 1071.0,502.8 1071.5,495.3 1072.0,494.3 1072.5,494.3 1073.0,493.9 1073.5,493.5 1074.0,493.3 1074.5,493.1 1075.0,493.3 1075.5,494.0 1076.0,495.7 1076.5,497.5 1077.0,497.0 1077.5,495.7 1078.0,496.4 1078.5,498.3 1079.0,498.5 1079.5,496.7 1080.0,495.0 1080.5,496.5 1081.0,498.6 1081.5,497.7 1082.0,496.3 1082.5,497.1 1083.0,498.5 1083.5,497.2 1084.0,494.5 1084.5,493.8 1085.0,495.3 1085.5,495.9 1086.0,494.8 1086.5,493.4 1087.0,492.6 1087.5,493.9 1088.0,495.7 1088.5,495.3 1089.0,494.5 1089.5,494.7 1090.0,493.9 1090.5,493.4 1091.0,493.7 1091.5,493.1 1092.0,493.0 1092.5,493.5 1093.0,494.2 1093.5,494.6 1094.0,494.2 1094.5,493.9 1095.0,493.3 1095.5,493.0 1096.0,495.2 1096.5,497.4 1097.0,497.4 1097.5,497.0 1098.0,496.4 1098.5,496.1 1099.0,496.5 1099.5,496.6 1100.0,495.9 1100.5,494.9 1101.0,494.2 1101.5,494.4 1102.0,495.5 1102.5,495.7 1103.0,494.9 1103.5,494.9 1104.0,496.4 1104.5,497.4 1105.0,497.5 1105.5,496.9 1106.0,496.1 1106.5,496.1 1107.0,494.6 1107.5,492.9 1108.0,493.4 1108.5,493.7 1109.0,493.5 1109.5,493.2 1110.0,493.6 1110.5,494.5 1111.0,494.3 1111.5,494.5 1112.0,494.8 1112.5,493.8 1113.0,493.2 1113.5,493.9 1114.0,493.9 1114.5,497.9 1115.0,494.6 1115.5,495.8 1116.0,496.3 1116.5,496.6 1117.0,496.3 1117.5,495.2 1118.0,494.2 1118.5,494.3 1119.0,495.2 1119.5,495.3 1120.0,496.1 1120.5,497.0 1121.0,495.6 1121.5,493.8 1122.0,493.8 1122.5,495.1 1123.0,496.0 1123.5,495.3 1124.0,494.2 1124.5,494.0 1125.0,494.6 1125.5,495.2 1126.0,494.8 1126.5,494.1 1127.0,493.4 1127.5,492.2 1128.0,491.2 1128.5,490.7 1129.0,490.0 1129.5,487.9 1130.0,484.9 1130.5,483.6 1131.0,482.2 1131.5,480.2 1132.0,480.2 1132.5,480.7 1133.0,480.6 1133.5,481.1 1134.0,481.8 1134.5,481.7 1135.0,481.7 1135.5,480.8 1136.0,479.0 1136.5,477.5 1137.0,475.7 1137.5,474.2 1137.8,474.1 1138.0,474.1 1138.5,475.9 1139.0,478.8 1139.5,480.7 1140.0,483.0 1140.5,484.1 1141.0,486.7 1141.5,489.4 1142.0,491.5 1142.5,492.0 1143.0,491.8 1143.5,493.2 1144.0,494.6 1144.5,494.3 1145.0,494.3 1145.5,495.4 1146.0,496.5 1146.5,494.2 1147.0,495.9 1147.5,494.8 1148.0,495.2 1148.5,495.5 1149.0,495.2 1149.5,495.0 1150.0,494.9 1150.5,494.7 1151.0,495.6 1151.5,496.4 1152.0,495.7 1152.5,496.0 1153.0,495.7 1153.5,495.4 1154.0,496.4 1154.5,496.1 1155.0,495.4 1155.5,495.5 1156.0,496.0 1156.5,496.3 1157.0,495.2 1157.5,494.1 1158.0,494.3 1158.5,495.9 1159.0,497.4 1159.5,498.1 1160.0,498.1 1160.5,496.9 1161.0,496.4 1161.5,496.8 1162.0,496.4 1162.5,496.2 1163.0,495.7 1163.5,495.2 1164.0,496.0 1164.5,497.0 1165.0,496.8 1165.5,494.7 1166.0,493.1 1166.5,494.2 1167.0,495.7 1167.5,495.6 1168.0,495.5 1168.5,496.3 1169.0,495.7 1169.5,494.6 1170.0,496.7 1170.5,498.0 1171.0,496.8 1171.5,496.3 1172.0,497.5 1172.5,496.5 1173.0,494.7 1173.5,495.3 1174.0,495.6 1174.5,494.1 1175.0,492.1 1175.5,491.9 1176.0,494.0 1176.5,495.5 1177.0,494.7 1177.5,493.7 1178.0,493.4 1178.5,494.0 1179.0,494.8 1179.5,495.2 1180.0,496.3 1180.5,496.2 1181.0,495.4 1181.5,494.6 1182.0,494.0 1182.5,493.5 1183.0,492.9 1183.5,492.8 1184.0,493.2 1184.5,494.6 1185.0,493.5 1185.5,491.8 1186.0,492.3 1186.5,492.4 1187.0,491.9 1187.5,491.7 1188.0,491.2 1188.5,491.2 1189.0,491.6 1189.5,491.5 1190.0,491.0 1190.5,489.6 1191.0,488.7 1191.5,490.0 1192.0,490.8 1192.5,490.2 1193.0,490.1 1193.5,490.4 1193.9,493.2 1194.0,488.1 1194.5,490.3 1195.0,489.7 1195.5,490.0 1196.0,491.3 1196.5,491.9 1197.0,492.1 1197.5,492.6 1198.0,492.6 1198.5,492.9 1199.0,493.7 1199.5,493.5 1200.0,492.5 1200.5,491.7 1201.0,491.8 1201.5,492.6 1202.0,492.4 1202.5,492.1 1203.0,493.9 1203.5,494.8 1204.0,495.1 1204.5,495.6 1205.0,494.9 1205.5,494.7 1206.0,495.7 1206.5,496.2 1207.0,495.8 1207.5,495.3 1208.0,495.1 1208.5,495.2 1209.0,495.7 1209.5,495.8 1210.0,495.2 1210.5,495.2 1211.0,495.1 1211.5,494.4 1212.0,493.3 1212.5,493.1 1213.0,494.7 1213.5,495.1 1214.0,494.7 1214.5,494.8 1215.0,494.6 1215.5,494.9 1216.0,494.9 1216.5,494.9 1217.0,494.4 1217.5,494.6 1218.0,493.4 1218.5,494.0 1219.0,496.4 1219.5,497.3 1220.0,496.1 1220.5,495.0 1221.0,494.8 1221.5,495.4 1222.0,495.3 1222.5,495.1 1223.0,495.1 1223.5,494.4 1224.0,494.2 1224.5,494.3 1225.0,493.9 1225.5,493.0 1226.0,492.3 1226.5,493.4 1227.0,495.7 1227.5,496.7 1228.0,486.0 1228.5,494.9 1229.0,494.6 1229.5,494.0 1230.0,494.2 1230.5,495.2 1231.0,494.8 1231.5,494.3 1232.0,495.0 1232.5,495.4 1233.0,494.8 1233.5,494.3 1234.0,494.4 1234.5,494.2 1235.0,493.0 1235.5,491.9 1236.0,492.7 1236.5,493.7 1237.0,494.7 1237.5,497.1 1238.0,498.7 1238.5,497.5 1239.0,495.7 1239.5,495.8 1240.0,496.2 1240.5,495.1 1241.0,494.2 1241.5,495.6 1242.0,496.8 1242.5,496.8 1243.0,496.5 1243.5,495.4 1244.0,495.5 1244.5,495.6 1245.0,494.4 1245.5,493.9 1246.0,494.4 1246.5,494.7 1247.0,494.2 1247.5,494.2 1248.0,494.7 1248.5,494.9 1249.0,494.4 1249.5,494.3 1250.0,494.5 1250.5,494.0 1251.0,494.1 1251.5,494.5 1252.0,494.9 1252.5,495.2 1253.0,495.2 1253.5,495.4 1254.0,495.3 1254.5,494.7 1255.0,493.7 1255.5,493.1 1256.0,494.1 1256.5,495.0 1257.0,495.2 1257.5,494.9 1258.0,493.4 1258.5,491.9 1259.0,491.6 1259.5,491.6 1260.0,490.4 1260.5,489.7 1261.0,490.1 1261.5,490.0 1262.0,488.3 1262.5,485.8 1263.0,484.7 1263.5,484.4 1263.7,482.9 1264.0,482.2 1264.5,483.9 1265.0,484.8 1265.5,485.6 1266.0,487.7 1266.5,488.7 1267.0,489.3 1267.5,492.0 1268.0,493.9 1268.5,492.6 1269.0,492.1 1269.5,493.5 1270.0,494.7 1270.5,495.8 1271.0,496.1 1271.5,496.2 1272.0,495.9 1272.5,494.3 1273.0,494.3 1273.5,495.6 1274.0,496.0 1274.5,495.9 1275.0,495.4 1275.5,493.8 1276.0,493.5 1276.5,496.0 1277.0,497.2 1277.5,495.8 1278.0,494.6 1278.5,495.1 1279.0,496.4 1279.5,497.2 1280.0,498.2 1280.5,498.9 1281.0,498.1 1281.5,497.3 1282.0,497.5 1282.5,497.4 1283.0,496.8 1283.5,496.5 1284.0,495.8 1284.5,495.4 1285.0,495.7 1285.5,495.6 1286.0,496.1 1286.5,497.0 1287.0,496.1 1287.5,494.3 1288.0,493.8 1288.5,494.3 1289.0,494.7 1289.5,495.1 1290.0,495.4 1290.5,495.4 1291.0,495.0 1291.5,494.4 1292.0,494.2 1292.5,495.1 1293.0,494.8 1293.5,493.9 1294.0,493.8 1294.5,494.0 1295.0,493.6 1295.5,493.0 1296.0,493.8 1296.5,495.8 1297.0,495.6 1297.5,494.8 1298.0,495.2 1298.5,495.0 1299.0,494.9 1299.5,495.5 1300.0,495.6 1300.5,495.6 1301.0,493.9 1301.5,496.1 1302.0,495.5 1302.5,494.3 1303.0,493.4 1303.5,493.4 1304.0,494.3 1304.5,495.0 1305.0,494.5 1305.5,493.7 1306.0,493.2 1306.5,492.4 1307.0,491.9 1307.5,491.1 1308.0,490.0 1308.5,489.6 1309.0,488.1 1309.5,485.6 1310.0,484.1 1310.5,482.8 1311.0,481.8 1311.5,482.0 1312.0,482.7 1312.5,483.1 1313.0,484.1 1313.5,485.9 1314.0,487.8 1314.5,488.5 1315.0,488.3 1315.5,488.1 1316.0,487.8 1316.5,488.0 1317.0,487.7 1317.5,487.7 1318.0,488.2 1318.5,488.3 1319.0,487.7 1319.5,488.0 1320.0,489.1 1320.5,488.6 1321.0,490.1 1321.5,492.0 1322.0,492.2 1322.5,493.6 1323.0,494.3 1323.5,493.2 1324.0,492.7 1324.5,493.0 1325.0,493.9 1325.5,494.8 1326.0,493.9 1326.5,492.4 1327.0,493.4 1327.5,493.7 1328.0,493.1 1328.5,494.4 1329.0,496.8 1329.5,495.4 1330.0,495.2 1330.5,496.0 1331.0,496.1 1331.5,495.0 1332.0,494.5 1332.5,495.4 1333.0,496.5 1333.5,496.1 1334.0,494.9 1334.5,494.2 1335.0,494.4 1335.5,495.7 1336.0,496.8 1336.5,496.3 1337.0,494.3 1337.5,493.1 1338.0,493.0 1338.5,492.8 1339.0,493.6 1339.5,495.5 1340.0,495.7 1340.5,493.8 1341.0,493.6 1341.5,495.9 1342.0,496.8 1342.5,496.1 1343.0,495.6 1343.5,495.0 1344.0,494.7 1344.5,494.4 1345.0,494.2 1345.5,493.5 1346.0,492.2 1346.5,492.8 1347.0,494.8 1347.5,495.2 1348.0,494.2 1348.5,493.6 1349.0,494.3 1349.5,494.6 1350.0,494.8 1350.5,495.5 1351.0,495.0 1351.5,494.6 1352.0,496.3 1352.5,497.3 1353.0,496.0 1353.5,494.8 1354.0,494.7 1354.5,495.4 1355.0,495.7 1355.5,495.1 1356.0,494.8 1356.5,495.2 1357.0,495.3 1357.5,494.4 1358.0,493.9 1358.5,493.8 1359.0,494.6 1359.5,495.3 1360.0,494.9 1360.5,495.5 1361.0,496.2 1361.5,495.8 1362.0,496.3 1362.5,496.0 1363.0,495.3 1363.5,495.6 1364.0,495.4 1364.5,494.9 1365.0,493.9 1365.5,493.7 1366.0,495.5 1366.5,497.9 1367.0,499.4 1367.5,499.2 1368.0,497.8 1368.5,496.7 1369.0,496.0 1369.5,495.2 1370.0,494.1 1370.5,493.8 1371.0,494.5 1371.5,494.5 1372.0,493.5 1372.5,492.9 1373.0,494.9 1373.5,497.1 1374.0,496.5 1374.5,496.8 1375.0,497.7 1375.5,496.9 1376.0,496.6 1376.5,497.5 1377.0,496.8 1377.5,495.2 1378.0,495.0 1378.5,496.4 1379.0,497.1 1379.5,495.5 1380.0,494.8 1380.5,495.8 1381.0,495.7 1381.5,494.5 1382.0,494.0 1382.5,494.9 1383.0,495.7 1383.5,495.5 1384.0,495.3 1384.5,495.6 1385.0,496.1 1385.5,496.4"/>
</g>
<g><circle cx="162.6" cy="474.8" r="5.05" fill="#fff" stroke="#1c1c1c" stroke-width="1.8"/><circle cx="246.9" cy="75.3" r="5.05" fill="#fff" stroke="#1c1c1c" stroke-width="1.8"/><circle cx="271.8" cy="464.4" r="5.05" fill="#fff" stroke="#1c1c1c" stroke-width="1.8"/><circle cx="466.7" cy="371.4" r="5.05" fill="#fff" stroke="#1c1c1c" stroke-width="1.8"/><circle cx="559.6" cy="423.9" r="5.05" fill="#fff" stroke="#1c1c1c" stroke-width="1.8"/><circle cx="749.7" cy="447.6" r="5.05" fill="#fff" stroke="#1c1c1c" stroke-width="1.8"/><circle cx="762.2" cy="453" r="5.05" fill="#fff" stroke="#1c1c1c" stroke-width="1.8"/><circle cx="776" cy="464.7" r="5.05" fill="#fff" stroke="#1c1c1c" stroke-width="1.8"/><circle cx="907.7" cy="458.3" r="5.05" fill="#fff" stroke="#1c1c1c" stroke-width="1.8"/><circle cx="1137.8" cy="463.7" r="5.05" fill="#fff" stroke="#1c1c1c" stroke-width="1.8"/><circle cx="1264.3" cy="465.7" r="5.05" fill="#fff" stroke="#1c1c1c" stroke-width="1.8"/><circle cx="1313.5" cy="468.8" r="5.05" fill="#fff" stroke="#1c1c1c" stroke-width="1.8"/><circle cx="126.3" cy="470" r="6.8" fill="#000"/><circle cx="232.2" cy="357.5" r="6.8" fill="#000"/><circle cx="507.8" cy="454.9" r="6.8" fill="#000"/><circle cx="578.1" cy="483.3" r="6.8" fill="#000"/><circle cx="614.9" cy="472.9" r="6.8" fill="#000"/><circle cx="646" cy="467.4" r="6.8" fill="#000"/><circle cx="704.7" cy="467.4" r="6.8" fill="#000"/><circle cx="861.3" cy="466.7" r="6.8" fill="#000"/><circle cx="962.1" cy="474.3" r="6.8" fill="#000"/><circle cx="1000.4" cy="474.3" r="6.8" fill="#000"/><circle cx="1051.4" cy="472.3" r="6.8" fill="#000"/><path d="M327 462.9L335.3 473.2L327 483.5L318.7 473.2Z" fill="#000"/><path d="M352.2 455.9L360.5 466.2L352.2 476.5L343.9 466.2Z" fill="#000"/></g>
<path d="M179.9 700V694.0M179.9 9.5V15.0M289.7 700V687.0M289.7 9.5V22.0M399.4 700V694.0M399.4 9.5V15.0M509.2 700V687.0M509.2 9.5V22.0M619.0 700V694.0M619.0 9.5V15.0M728.7 700V687.0M728.7 9.5V22.0M838.5 700V694.0M838.5 9.5V15.0M948.2 700V687.0M948.2 9.5V22.0M1058.0 700V694.0M1058.0 9.5V15.0M1167.7 700V687.0M1167.7 9.5V22.0M1277.5 700V694.0M1277.5 9.5V15.0M71.8 123.4H84.3M1385.6 123.4H1373.1M71.8 412.5H77.3M1385.6 412.5H1380.1" stroke="#000" stroke-width="3.4" fill="none"/>
<rect x="70.2" y="8.1" width="1317" height="693.3" fill="none" stroke="#000" stroke-width="3.4"/>
<g style="font-family:&quot;Liberation Sans&quot;,sans-serif" fill="#000">
<text x="70.2" y="750.5" text-anchor="middle" font-size="44">20</text>
<text x="289.7" y="750.5" text-anchor="middle" font-size="44">30</text>
<text x="509.2" y="750.5" text-anchor="middle" font-size="44">40</text>
<text x="728.7" y="750.5" text-anchor="middle" font-size="44">50</text>
<text x="948.2" y="750.5" text-anchor="middle" font-size="44">60</text>
<text x="1167.7" y="750.5" text-anchor="middle" font-size="44">70</text>
<text x="1387.2" y="750.5" text-anchor="middle" font-size="44">80</text>
<g font-size="52"><text x="693.3" y="806.7">2</text><text transform="translate(723 806.7) scale(1.06 1)" style="font-family:&quot;Liberation Serif&quot;,serif">θ</text><text x="762.9" y="806.4" font-size="50.5">(</text><text x="779.3" y="807" font-size="50.5">°</text><text x="801.6" y="806.4" font-size="50.5">)</text></g>
<text transform="translate(41.6 505.4) rotate(-90)" font-size="50.5">Intensity (a.u.)</text>
<path d="M1138.2 40.4H1221.7" stroke="#f0a060" stroke-width="1.9"/>
<text x="1230.3" y="53.4" font-size="37">MnBi-20</text>
<path d="M1138.2 86.0H1221.7" stroke="#6a58f0" stroke-width="1.9"/>
<text x="1230.3" y="99.0" font-size="37">MnBi-10</text>
<path d="M1138.2 131.5H1221.7" stroke="#c42424" stroke-width="1.9"/>
<text x="1230.3" y="144.5" font-size="37">MnBi-5</text>
<path d="M1138.2 176.8H1221.7" stroke="#333333" stroke-width="1.9"/>
<text x="1230.3" y="189.8" font-size="37">MnBi-3</text>
<circle cx="1234.7" cy="265.4" r="5.2" fill="#fff" stroke="#1c1c1c" stroke-width="1.8"/>
<text x="1250.5" y="285.8" font-size="36.7">MnBi</text>
<circle cx="1235.2" cy="313" r="7.2" fill="#000"/>
<text x="1253" y="323.6" font-size="36.7">Bi</text>
<path d="M1236.4 346.2L1244.9 356.4L1236.4 366.6L1227.9 356.4Z" fill="#000"/>
<text x="1260" y="366.6" font-size="36.7">Bi<tspan font-size="25" dy="9">2</tspan><tspan dy="-9">O</tspan><tspan font-size="25" dy="9">3</tspan></text>
</g>
</svg>
</body></html>
